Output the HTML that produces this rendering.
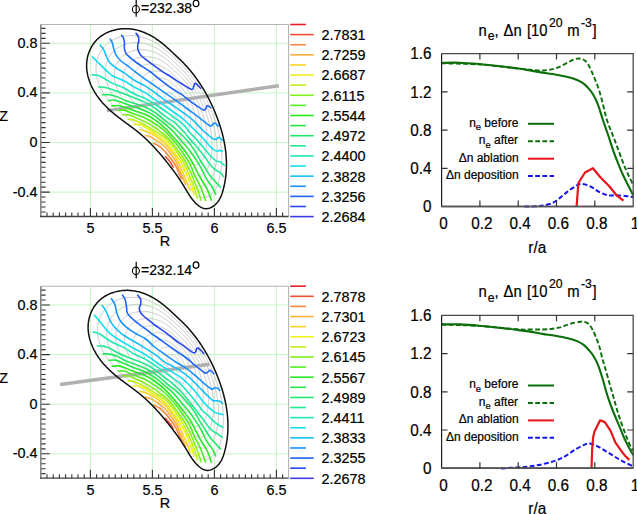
<!DOCTYPE html><html><head><meta charset="utf-8"><style>html,body{margin:0;padding:0;background:#fff;}svg{display:block}text{stroke:#000;stroke-width:0.2px;}.lt,.cb,.rt{transform-box:fill-box;transform-origin:center;}.lt{transform:scaleY(1.06)}.cb{transform:scaleY(1.08)}.rt{transform:scaleY(1.12)}</style></head><body>
<svg width="637" height="514" viewBox="0 0 637 514" style="font-family:'Liberation Sans',sans-serif" fill="#000">
<g transform="translate(0,0)">
<line x1="90.40" y1="24.5" x2="90.40" y2="216.5" stroke="#c4f5c4" stroke-width="1"/>
<line x1="152.40" y1="24.5" x2="152.40" y2="216.5" stroke="#c4f5c4" stroke-width="1"/>
<line x1="214.40" y1="24.5" x2="214.40" y2="216.5" stroke="#c4f5c4" stroke-width="1"/>
<line x1="276.40" y1="24.5" x2="276.40" y2="216.5" stroke="#c4f5c4" stroke-width="1"/>
<line x1="40.8" y1="43.30" x2="288.6" y2="43.30" stroke="#c4f5c4" stroke-width="1"/>
<line x1="40.8" y1="92.90" x2="288.6" y2="92.90" stroke="#c4f5c4" stroke-width="1"/>
<line x1="40.8" y1="142.50" x2="288.6" y2="142.50" stroke="#c4f5c4" stroke-width="1"/>
<line x1="40.8" y1="192.10" x2="288.6" y2="192.10" stroke="#c4f5c4" stroke-width="1"/>
<path d="M169.08 92.69L169.18 92.69L169.27 92.70L169.37 92.70L169.47 92.71L169.56 92.72L169.66 92.74L169.75 92.75L169.85 92.77L169.94 92.79L170.04 92.81L170.13 92.83L170.22 92.86L170.32 92.88L170.41 92.91L170.50 92.94L170.59 92.97L170.68 93.01L170.77 93.04L170.86 93.08L170.95 93.11L171.04 93.15L171.13 93.19L171.21 93.23L171.30 93.28L171.39 93.32L171.47 93.37L171.56 93.41L171.64 93.46L171.72 93.51L171.81 93.56L171.89 93.61L171.97 93.67L172.05 93.72L172.13 93.78L172.21 93.83L172.29 93.89L172.37 93.95L172.45 94.00L172.53 94.06L172.60 94.12L172.68 94.19L172.75 94.25L172.83 94.31L172.90 94.37L172.98 94.44L173.05 94.50L173.12 94.56L173.19 94.63L173.27 94.70L173.34 94.76L173.41 94.83L173.48 94.89L173.55 94.96L173.62 95.03L173.69 95.09L173.77 95.16L173.84 95.23L173.91 95.29L173.98 95.36L174.05 95.43L174.12 95.49L174.19 95.56L174.26 95.63L174.33 95.69L174.40 95.76L174.47 95.83L174.54 95.90L174.61 95.96L174.68 96.03L174.75 96.10L174.82 96.17L174.88 96.24L174.95 96.31L175.02 96.38L175.08 96.45L175.15 96.53L175.21 96.60L175.27 96.67L175.34 96.75L175.40 96.82L175.46 96.89L175.52 96.97L175.59 97.04L175.65 97.12L175.71 97.19L175.77 97.27L175.82 97.35L175.88 97.42L175.94 97.50L176.00 97.58L176.05 97.66L176.11 97.74L176.17 97.82L176.22 97.90L176.28 97.98L176.33 98.06L176.38 98.14L176.44 98.22L176.49 98.30L176.54 98.38L176.60 98.46L176.65 98.54L176.70 98.63L176.75 98.71L176.80 98.79L176.85 98.88L176.90 98.96L176.94 99.05L176.99 99.13L177.04 99.22L177.09 99.30L177.13 99.39L177.18 99.47L177.22 99.56L177.27 99.64L177.31 99.73L177.36 99.82L177.40 99.90L177.44 99.99L177.49 100.08L177.53 100.17L177.57 100.26L177.61 100.34L177.65 100.43L177.69 100.52L177.73 100.61L177.77 100.70L177.81 100.79L177.85 100.88L177.89 100.97L177.93 101.06L177.96 101.15L178.00 101.24L178.04 101.33L178.07 101.42L178.11 101.51L178.14 101.60L178.18 101.70L178.21 101.79L178.24 101.88L178.28 101.97L178.31 102.06L178.34 102.16L178.37 102.25L178.40 102.34L178.43 102.43L178.46 102.53L178.49 102.62L178.52 102.71L178.54 102.81L178.57 102.90L178.60 102.99L178.62 103.09L178.65 103.18L178.67 103.28L178.70 103.37L178.72 103.46L178.74 103.56L178.76 103.65L178.78 103.75L178.80 103.84L178.82 103.94L178.84 104.03L178.86 104.13L178.88 104.22L178.90 104.32L178.91 104.41L178.93 104.51L178.94 104.61L178.95 104.70L178.97 104.80L178.98 104.89L178.99 104.99L179.00 105.09L179.01 105.18L179.02 105.28L179.03 105.37L179.04 105.47L179.04 105.57L179.05 105.66L179.05 105.76L179.06 105.86L179.06 105.95L179.06 106.05L179.06 106.15L179.07 106.24L179.07 106.34L179.06 106.44L179.06 106.53L179.06 106.63L179.05 106.73L179.05 106.83L179.04 106.92L179.04 107.02L179.03 107.12L179.02 107.21L179.01 107.31L179.00 107.41L178.99 107.50L178.98 107.60L178.96 107.70L178.95 107.79L178.93 107.89L178.92 107.99L178.90 108.08L178.88 108.18L178.86 108.28L178.84 108.37L178.82 108.47L178.80 108.57L178.77 108.66L178.75 108.76L178.72 108.85L178.69 108.95L178.66 109.04L178.63 109.14L178.60 109.23L178.57 109.32L178.53 109.41L178.49 109.50L178.45 109.59L178.41 109.68L178.36 109.76L178.31 109.85L178.26 109.93L178.20 110.00L178.15 110.08L178.08 110.15L178.01 110.22L177.94 110.29L177.87 110.35L177.79 110.41L177.70 110.47L177.62 110.52L177.53 110.57L177.44 110.61L177.35 110.64L177.25 110.66L177.16 110.68L177.07 110.69L176.98 110.69L176.89 110.68L176.80 110.66L176.71 110.63L176.62 110.60L176.54 110.56L176.45 110.51L176.37 110.46L176.29 110.40L176.21 110.34L176.14 110.27L176.07 110.21L175.99 110.14L175.93 110.07L175.86 110.00L175.79 109.92L175.73 109.85L175.67 109.77L175.61 109.70L175.55 109.62L175.50 109.54L175.44 109.46L175.39 109.38L175.33 109.30L175.28 109.21L175.23 109.13L175.18 109.05L175.13 108.97L175.08 108.88L175.02 108.80L174.98 108.71L174.93 108.63L174.88 108.55L174.82 108.46L174.77 108.38L174.72 108.30L174.67 108.21L174.62 108.13L174.57 108.05L174.51 107.97L174.46 107.88L174.41 107.80L174.35 107.72L174.30 107.64L174.24 107.56L174.19 107.48L174.13 107.40L174.08 107.32L174.02 107.24L173.97 107.16L173.91 107.08L173.85 107.01L173.79 106.93L173.74 106.85L173.68 106.77L173.62 106.69L173.56 106.62L173.50 106.54L173.44 106.46L173.38 106.39L173.32 106.31L173.26 106.23L173.20 106.16L173.14 106.08L173.08 106.00L173.02 105.93L172.96 105.85L172.90 105.78L172.84 105.70L172.78 105.63L172.71 105.55L172.65 105.48L172.59 105.40L172.53 105.33L172.46 105.25L172.40 105.18L172.34 105.11L172.27 105.03L172.21 104.96L172.14 104.89L172.08 104.81L172.01 104.74L171.95 104.67L171.88 104.60L171.82 104.53L171.75 104.46L171.69 104.39L171.62 104.32L171.55 104.25L171.48 104.18L171.42 104.11L171.35 104.04L171.28 103.97L171.21 103.90L171.14 103.83L171.07 103.77L171.00 103.70L170.93 103.63L170.86 103.57L170.79 103.50L170.71 103.44L170.64 103.38L170.57 103.31L170.49 103.25L170.42 103.19L170.35 103.12L170.27 103.06L170.20 103.00L170.12 102.94L170.04 102.88L169.97 102.82L169.89 102.76L169.81 102.70L169.73 102.64L169.66 102.58L169.58 102.52L169.50 102.47L169.42 102.41L169.34 102.35L169.26 102.29L169.19 102.23L169.11 102.18L169.03 102.12L168.95 102.06L168.87 102.00L168.79 101.95L168.71 101.89L168.64 101.83L168.56 101.77L168.48 101.71L168.40 101.65L168.32 101.59L168.25 101.53L168.17 101.47L168.09 101.41L168.02 101.35L167.94 101.29L167.87 101.23L167.79 101.17L167.72 101.10L167.64 101.04L167.57 100.98L167.50 100.91L167.42 100.85L167.35 100.78L167.28 100.72L167.21 100.65L167.14 100.58L167.07 100.51L167.00 100.44L166.94 100.37L166.87 100.30L166.80 100.23L166.74 100.16L166.67 100.09L166.61 100.02L166.55 99.94L166.48 99.87L166.42 99.79L166.36 99.72L166.31 99.64L166.25 99.57L166.19 99.49L166.13 99.41L166.08 99.33L166.03 99.25L165.97 99.17L165.92 99.08L165.87 99.00L165.82 98.92L165.77 98.83L165.73 98.75L165.68 98.66L165.64 98.57L165.59 98.49L165.55 98.40L165.51 98.31L165.47 98.22L165.44 98.12L165.40 98.03L165.37 97.94L165.34 97.85L165.31 97.75L165.28 97.66L165.25 97.56L165.22 97.47L165.20 97.37L165.18 97.28L165.16 97.18L165.14 97.08L165.13 96.99L165.11 96.89L165.10 96.79L165.09 96.70L165.09 96.60L165.08 96.50L165.08 96.41L165.08 96.31L165.08 96.21L165.09 96.11L165.10 96.02L165.11 95.92L165.12 95.83L165.13 95.73L165.15 95.63L165.17 95.54L165.19 95.45L165.22 95.35L165.25 95.26L165.28 95.17L165.31 95.08L165.34 94.99L165.38 94.90L165.42 94.81L165.46 94.72L165.50 94.63L165.55 94.55L165.59 94.47L165.64 94.38L165.70 94.30L165.75 94.22L165.81 94.14L165.87 94.07L165.93 93.99L165.99 93.92L166.05 93.85L166.12 93.78L166.19 93.71L166.26 93.65L166.33 93.58L166.41 93.52L166.48 93.46L166.56 93.41L166.64 93.35L166.72 93.30L166.81 93.25L166.89 93.20L166.98 93.15L167.06 93.11L167.15 93.07L167.24 93.03L167.33 92.99L167.43 92.96L167.52 92.92L167.61 92.89L167.71 92.86L167.81 92.84L167.90 92.81L168.00 92.79L168.10 92.77L168.19 92.75L168.29 92.74L168.39 92.72L168.49 92.71L168.59 92.70L168.69 92.70L168.78 92.69L168.88 92.69L168.98 92.69Z" fill="none" stroke="#c6c6c6" stroke-width="1"/>
<path d="M165.00 85.41L165.19 85.42L165.39 85.43L165.58 85.45L165.78 85.47L165.97 85.49L166.16 85.52L166.35 85.55L166.54 85.58L166.73 85.62L166.92 85.66L167.10 85.71L167.29 85.76L167.47 85.81L167.66 85.86L167.84 85.92L168.02 85.99L168.20 86.05L168.38 86.12L168.56 86.19L168.74 86.27L168.92 86.35L169.09 86.43L169.27 86.51L169.44 86.60L169.61 86.68L169.78 86.78L169.95 86.87L170.12 86.97L170.29 87.06L170.45 87.17L170.62 87.27L170.78 87.37L170.94 87.48L171.11 87.59L171.27 87.70L171.42 87.82L171.58 87.93L171.74 88.05L171.89 88.17L172.04 88.29L172.19 88.41L172.34 88.53L172.49 88.66L172.64 88.78L172.79 88.91L172.94 89.04L173.08 89.17L173.23 89.30L173.37 89.43L173.52 89.56L173.66 89.69L173.80 89.83L173.94 89.96L174.09 90.09L174.23 90.23L174.37 90.36L174.51 90.50L174.65 90.63L174.80 90.76L174.94 90.90L175.08 91.03L175.22 91.16L175.36 91.30L175.51 91.43L175.65 91.56L175.79 91.70L175.93 91.83L176.07 91.97L176.20 92.11L176.34 92.24L176.47 92.38L176.61 92.52L176.74 92.66L176.87 92.81L177.00 92.95L177.13 93.09L177.26 93.24L177.39 93.38L177.52 93.53L177.64 93.68L177.77 93.83L177.89 93.98L178.01 94.13L178.13 94.28L178.25 94.43L178.37 94.58L178.49 94.74L178.61 94.89L178.72 95.04L178.84 95.20L178.95 95.36L179.06 95.51L179.17 95.67L179.28 95.83L179.39 95.99L179.50 96.15L179.61 96.31L179.72 96.48L179.82 96.64L179.93 96.80L180.03 96.97L180.13 97.13L180.23 97.30L180.33 97.46L180.43 97.63L180.53 97.79L180.63 97.96L180.73 98.13L180.82 98.30L180.92 98.47L181.01 98.64L181.10 98.81L181.20 98.98L181.29 99.16L181.38 99.33L181.47 99.50L181.55 99.67L181.64 99.85L181.73 100.02L181.81 100.20L181.90 100.37L181.98 100.55L182.06 100.73L182.14 100.90L182.23 101.08L182.31 101.26L182.38 101.44L182.46 101.62L182.54 101.80L182.62 101.98L182.69 102.16L182.77 102.34L182.84 102.52L182.91 102.70L182.98 102.88L183.05 103.06L183.12 103.25L183.19 103.43L183.26 103.61L183.33 103.80L183.39 103.98L183.45 104.17L183.52 104.35L183.58 104.54L183.64 104.72L183.70 104.91L183.76 105.09L183.82 105.28L183.87 105.47L183.93 105.65L183.98 105.84L184.03 106.03L184.09 106.21L184.14 106.40L184.18 106.59L184.23 106.78L184.28 106.97L184.32 107.16L184.37 107.35L184.41 107.54L184.45 107.73L184.49 107.92L184.53 108.11L184.56 108.30L184.60 108.49L184.63 108.68L184.66 108.87L184.69 109.06L184.72 109.25L184.75 109.44L184.78 109.64L184.80 109.83L184.82 110.02L184.84 110.21L184.86 110.40L184.88 110.60L184.90 110.79L184.91 110.98L184.93 111.17L184.94 111.37L184.95 111.56L184.96 111.75L184.96 111.95L184.97 112.14L184.97 112.33L184.97 112.53L184.97 112.72L184.97 112.92L184.96 113.11L184.96 113.30L184.95 113.50L184.94 113.69L184.93 113.88L184.91 114.08L184.90 114.27L184.88 114.47L184.86 114.66L184.84 114.85L184.82 115.05L184.79 115.24L184.77 115.44L184.74 115.63L184.71 115.82L184.67 116.02L184.64 116.21L184.60 116.40L184.56 116.59L184.52 116.79L184.48 116.98L184.43 117.17L184.38 117.36L184.33 117.55L184.28 117.75L184.23 117.94L184.17 118.13L184.11 118.31L184.05 118.50L183.98 118.68L183.91 118.87L183.83 119.05L183.75 119.22L183.66 119.40L183.57 119.57L183.47 119.73L183.36 119.89L183.25 120.05L183.13 120.20L183.00 120.35L182.87 120.49L182.72 120.62L182.57 120.75L182.41 120.87L182.25 120.98L182.07 121.08L181.90 121.17L181.72 121.25L181.53 121.31L181.35 121.37L181.16 121.40L180.98 121.42L180.79 121.42L180.61 121.40L180.43 121.36L180.26 121.31L180.08 121.24L179.91 121.15L179.75 121.06L179.58 120.95L179.42 120.84L179.27 120.72L179.12 120.59L178.97 120.45L178.83 120.32L178.69 120.18L178.56 120.03L178.43 119.89L178.30 119.74L178.18 119.59L178.06 119.43L177.94 119.28L177.83 119.12L177.72 118.96L177.61 118.80L177.50 118.63L177.40 118.47L177.29 118.30L177.19 118.14L177.09 117.97L176.99 117.80L176.89 117.64L176.79 117.47L176.69 117.30L176.59 117.13L176.49 116.96L176.39 116.80L176.29 116.63L176.18 116.47L176.08 116.30L175.98 116.14L175.87 115.97L175.76 115.81L175.66 115.65L175.55 115.48L175.44 115.32L175.33 115.16L175.22 115.00L175.11 114.84L175.00 114.68L174.88 114.52L174.77 114.37L174.66 114.21L174.54 114.05L174.43 113.89L174.31 113.74L174.20 113.58L174.08 113.43L173.96 113.27L173.84 113.12L173.72 112.96L173.61 112.81L173.49 112.66L173.37 112.50L173.25 112.35L173.12 112.20L173.00 112.05L172.88 111.90L172.76 111.74L172.64 111.59L172.51 111.44L172.39 111.29L172.27 111.14L172.14 110.99L172.02 110.84L171.89 110.70L171.77 110.55L171.64 110.40L171.51 110.25L171.39 110.11L171.26 109.96L171.13 109.81L171.00 109.67L170.87 109.52L170.74 109.38L170.61 109.24L170.48 109.09L170.34 108.95L170.21 108.81L170.08 108.67L169.94 108.53L169.81 108.39L169.67 108.25L169.53 108.12L169.40 107.98L169.26 107.84L169.12 107.71L168.98 107.58L168.84 107.44L168.70 107.31L168.55 107.18L168.41 107.05L168.27 106.92L168.12 106.79L167.97 106.66L167.83 106.54L167.68 106.41L167.53 106.29L167.38 106.16L167.23 106.04L167.08 105.92L166.93 105.80L166.77 105.68L166.62 105.56L166.46 105.44L166.31 105.32L166.15 105.21L166.00 105.09L165.84 104.97L165.68 104.86L165.53 104.74L165.37 104.62L165.21 104.51L165.05 104.39L164.90 104.28L164.74 104.16L164.58 104.05L164.43 103.93L164.27 103.82L164.11 103.70L163.96 103.58L163.80 103.46L163.64 103.35L163.49 103.23L163.33 103.11L163.18 102.99L163.03 102.87L162.87 102.75L162.72 102.62L162.57 102.50L162.42 102.37L162.27 102.25L162.13 102.12L161.98 101.99L161.83 101.86L161.69 101.73L161.54 101.60L161.40 101.47L161.26 101.34L161.12 101.20L160.98 101.07L160.85 100.93L160.71 100.79L160.58 100.65L160.45 100.51L160.32 100.37L160.19 100.22L160.06 100.08L159.93 99.93L159.81 99.78L159.69 99.63L159.57 99.48L159.45 99.33L159.33 99.17L159.22 99.01L159.11 98.86L159.00 98.70L158.89 98.54L158.79 98.37L158.68 98.21L158.58 98.04L158.48 97.88L158.39 97.71L158.29 97.54L158.20 97.36L158.12 97.19L158.03 97.01L157.95 96.83L157.87 96.65L157.79 96.47L157.72 96.29L157.64 96.10L157.58 95.92L157.51 95.73L157.45 95.54L157.39 95.36L157.34 95.17L157.29 94.98L157.24 94.79L157.20 94.59L157.16 94.40L157.13 94.21L157.09 94.02L157.07 93.82L157.05 93.63L157.03 93.43L157.01 93.24L157.01 93.05L157.00 92.85L157.00 92.66L157.01 92.46L157.02 92.27L157.03 92.08L157.05 91.88L157.08 91.69L157.11 91.50L157.14 91.31L157.18 91.12L157.23 90.93L157.28 90.74L157.33 90.56L157.39 90.37L157.46 90.19L157.52 90.01L157.60 89.83L157.67 89.66L157.76 89.48L157.84 89.31L157.93 89.14L158.03 88.97L158.13 88.81L158.23 88.64L158.34 88.48L158.45 88.33L158.57 88.18L158.69 88.03L158.82 87.88L158.95 87.74L159.08 87.60L159.22 87.46L159.36 87.33L159.50 87.21L159.65 87.08L159.81 86.97L159.96 86.85L160.12 86.74L160.29 86.64L160.45 86.54L160.62 86.44L160.79 86.35L160.97 86.26L161.15 86.18L161.33 86.10L161.51 86.02L161.69 85.95L161.88 85.89L162.07 85.83L162.26 85.77L162.45 85.72L162.64 85.67L162.84 85.62L163.03 85.58L163.23 85.55L163.42 85.51L163.62 85.49L163.82 85.46L164.01 85.44L164.21 85.43L164.41 85.42L164.61 85.41L164.80 85.41Z" fill="none" stroke="#c6c6c6" stroke-width="1"/>
<path d="M160.76 78.18L161.05 78.19L161.34 78.21L161.63 78.23L161.92 78.26L162.21 78.29L162.50 78.33L162.78 78.38L163.07 78.43L163.35 78.49L163.63 78.55L163.91 78.62L164.19 78.69L164.47 78.77L164.75 78.86L165.02 78.95L165.29 79.04L165.56 79.14L165.83 79.24L166.10 79.35L166.37 79.46L166.63 79.58L166.90 79.70L167.16 79.82L167.42 79.95L167.68 80.09L167.93 80.22L168.19 80.36L168.44 80.51L168.69 80.66L168.94 80.81L169.19 80.96L169.43 81.12L169.68 81.28L169.92 81.45L170.16 81.61L170.40 81.78L170.63 81.96L170.86 82.13L171.10 82.31L171.32 82.49L171.55 82.68L171.78 82.86L172.00 83.05L172.22 83.24L172.45 83.43L172.66 83.62L172.88 83.81L173.10 84.01L173.32 84.21L173.53 84.40L173.75 84.60L173.96 84.80L174.18 85.00L174.39 85.20L174.60 85.40L174.82 85.60L175.03 85.80L175.24 86.00L175.45 86.20L175.67 86.40L175.88 86.60L176.09 86.80L176.31 87.00L176.52 87.20L176.73 87.40L176.94 87.61L177.15 87.81L177.36 88.01L177.57 88.22L177.77 88.43L177.97 88.64L178.17 88.85L178.37 89.06L178.57 89.27L178.77 89.48L178.96 89.70L179.15 89.92L179.34 90.14L179.53 90.36L179.72 90.58L179.91 90.80L180.09 91.02L180.28 91.25L180.46 91.48L180.64 91.70L180.82 91.93L180.99 92.16L181.17 92.39L181.34 92.63L181.51 92.86L181.68 93.10L181.85 93.33L182.02 93.57L182.19 93.81L182.35 94.05L182.51 94.29L182.67 94.53L182.83 94.77L182.99 95.02L183.15 95.26L183.31 95.51L183.46 95.75L183.61 96.00L183.76 96.25L183.91 96.50L184.06 96.75L184.21 97.00L184.35 97.26L184.49 97.51L184.64 97.77L184.78 98.02L184.92 98.28L185.05 98.53L185.19 98.79L185.33 99.05L185.46 99.31L185.59 99.57L185.72 99.83L185.85 100.10L185.98 100.36L186.11 100.62L186.23 100.89L186.35 101.15L186.48 101.42L186.60 101.68L186.72 101.95L186.84 102.22L186.95 102.49L187.07 102.76L187.18 103.03L187.30 103.30L187.41 103.57L187.52 103.84L187.63 104.11L187.73 104.38L187.84 104.66L187.94 104.93L188.05 105.21L188.15 105.48L188.25 105.76L188.35 106.03L188.44 106.31L188.54 106.59L188.63 106.86L188.72 107.14L188.81 107.42L188.90 107.70L188.98 107.98L189.07 108.26L189.15 108.54L189.23 108.82L189.31 109.10L189.39 109.38L189.46 109.66L189.54 109.95L189.61 110.23L189.68 110.51L189.74 110.80L189.81 111.08L189.87 111.36L189.93 111.65L189.99 111.93L190.05 112.22L190.10 112.50L190.16 112.79L190.21 113.08L190.25 113.36L190.30 113.65L190.34 113.94L190.38 114.22L190.42 114.51L190.46 114.80L190.49 115.09L190.53 115.38L190.56 115.67L190.58 115.95L190.61 116.24L190.63 116.53L190.65 116.82L190.67 117.11L190.68 117.40L190.69 117.69L190.70 117.98L190.71 118.27L190.71 118.56L190.72 118.85L190.72 119.14L190.71 119.43L190.71 119.72L190.70 120.01L190.68 120.31L190.67 120.60L190.65 120.89L190.63 121.18L190.61 121.47L190.58 121.76L190.55 122.05L190.52 122.34L190.49 122.63L190.45 122.92L190.41 123.21L190.36 123.50L190.32 123.79L190.27 124.08L190.22 124.37L190.16 124.66L190.10 124.95L190.04 125.24L189.97 125.53L189.91 125.82L189.83 126.10L189.76 126.39L189.68 126.68L189.60 126.96L189.51 127.25L189.42 127.53L189.33 127.81L189.23 128.09L189.12 128.36L189.00 128.63L188.88 128.89L188.75 129.15L188.61 129.41L188.46 129.66L188.30 129.90L188.13 130.13L187.96 130.36L187.76 130.58L187.56 130.79L187.35 130.99L187.12 131.18L186.88 131.36L186.63 131.53L186.37 131.68L186.10 131.82L185.83 131.94L185.56 132.03L185.28 132.11L185.00 132.16L184.73 132.19L184.45 132.18L184.18 132.16L183.91 132.10L183.64 132.02L183.38 131.91L183.13 131.79L182.88 131.65L182.63 131.49L182.39 131.32L182.16 131.13L181.94 130.94L181.72 130.74L181.50 130.54L181.30 130.32L181.10 130.11L180.90 129.89L180.71 129.67L180.53 129.44L180.35 129.21L180.18 128.97L180.01 128.74L179.84 128.50L179.68 128.26L179.51 128.01L179.36 127.76L179.20 127.52L179.05 127.27L178.90 127.02L178.75 126.77L178.59 126.51L178.45 126.26L178.30 126.01L178.15 125.76L177.99 125.51L177.84 125.26L177.69 125.01L177.54 124.76L177.38 124.51L177.22 124.26L177.06 124.02L176.91 123.77L176.74 123.53L176.58 123.29L176.42 123.04L176.25 122.80L176.09 122.56L175.92 122.32L175.76 122.08L175.59 121.85L175.42 121.61L175.25 121.37L175.07 121.14L174.90 120.90L174.73 120.67L174.55 120.43L174.38 120.20L174.20 119.97L174.02 119.74L173.85 119.51L173.67 119.28L173.49 119.05L173.31 118.82L173.13 118.59L172.95 118.36L172.77 118.13L172.58 117.90L172.40 117.68L172.22 117.45L172.03 117.22L171.85 117.00L171.66 116.77L171.47 116.55L171.29 116.33L171.10 116.10L170.91 115.88L170.72 115.66L170.53 115.44L170.34 115.22L170.15 115.00L169.95 114.78L169.76 114.56L169.56 114.35L169.37 114.13L169.17 113.92L168.97 113.70L168.78 113.49L168.58 113.28L168.38 113.07L168.17 112.86L167.97 112.65L167.77 112.44L167.56 112.24L167.35 112.03L167.15 111.83L166.94 111.62L166.73 111.42L166.52 111.22L166.30 111.02L166.09 110.83L165.88 110.63L165.66 110.44L165.44 110.25L165.22 110.05L165.00 109.86L164.78 109.68L164.56 109.49L164.33 109.30L164.11 109.12L163.88 108.94L163.65 108.76L163.42 108.58L163.19 108.40L162.96 108.22L162.72 108.04L162.49 107.87L162.26 107.69L162.02 107.52L161.79 107.34L161.55 107.17L161.31 107.00L161.08 106.82L160.84 106.65L160.61 106.48L160.37 106.30L160.13 106.13L159.90 105.96L159.66 105.78L159.43 105.61L159.19 105.43L158.96 105.26L158.73 105.08L158.49 104.90L158.26 104.72L158.03 104.54L157.80 104.36L157.57 104.18L157.34 103.99L157.12 103.81L156.89 103.62L156.67 103.43L156.45 103.24L156.23 103.05L156.01 102.86L155.79 102.66L155.58 102.47L155.36 102.27L155.15 102.07L154.94 101.86L154.74 101.66L154.53 101.45L154.33 101.24L154.13 101.03L153.93 100.82L153.73 100.61L153.54 100.39L153.35 100.17L153.16 99.95L152.97 99.73L152.79 99.50L152.61 99.28L152.44 99.05L152.26 98.82L152.09 98.58L151.92 98.35L151.76 98.11L151.60 97.87L151.44 97.62L151.28 97.37L151.13 97.13L150.99 96.87L150.84 96.62L150.70 96.36L150.57 96.10L150.43 95.84L150.30 95.58L150.18 95.31L150.06 95.04L149.94 94.77L149.83 94.49L149.73 94.22L149.63 93.94L149.53 93.66L149.44 93.38L149.35 93.09L149.27 92.81L149.19 92.52L149.12 92.24L149.06 91.95L149.00 91.66L148.95 91.37L148.90 91.08L148.86 90.79L148.83 90.50L148.80 90.21L148.78 89.92L148.77 89.63L148.76 89.34L148.76 89.05L148.77 88.75L148.79 88.46L148.81 88.17L148.84 87.89L148.88 87.60L148.92 87.31L148.98 87.02L149.04 86.74L149.10 86.46L149.18 86.18L149.26 85.90L149.35 85.62L149.44 85.35L149.55 85.08L149.66 84.81L149.77 84.54L149.89 84.28L150.02 84.02L150.16 83.77L150.30 83.52L150.45 83.27L150.61 83.03L150.77 82.79L150.94 82.55L151.12 82.32L151.30 82.10L151.49 81.88L151.68 81.67L151.88 81.46L152.09 81.26L152.30 81.06L152.52 80.87L152.74 80.69L152.97 80.51L153.20 80.34L153.44 80.18L153.69 80.02L153.94 79.87L154.19 79.72L154.45 79.58L154.71 79.45L154.98 79.33L155.25 79.21L155.52 79.10L155.80 78.99L156.08 78.89L156.36 78.80L156.65 78.71L156.94 78.63L157.22 78.56L157.52 78.49L157.81 78.43L158.10 78.38L158.40 78.33L158.69 78.29L158.99 78.26L159.28 78.23L159.58 78.21L159.87 78.19L160.17 78.18L160.46 78.18Z" fill="none" stroke="#c6c6c6" stroke-width="1"/>
<path d="M156.36 70.99L156.75 71.00L157.14 71.02L157.53 71.05L157.91 71.09L158.30 71.14L158.68 71.19L159.06 71.25L159.44 71.32L159.82 71.40L160.19 71.48L160.56 71.57L160.94 71.67L161.31 71.78L161.67 71.89L162.04 72.01L162.40 72.13L162.77 72.26L163.13 72.40L163.48 72.55L163.84 72.70L164.19 72.85L164.54 73.01L164.89 73.18L165.24 73.35L165.58 73.53L165.92 73.71L166.26 73.90L166.60 74.09L166.94 74.29L167.27 74.49L167.60 74.70L167.93 74.91L168.25 75.12L168.57 75.34L168.89 75.57L169.21 75.79L169.52 76.02L169.83 76.26L170.14 76.50L170.45 76.74L170.75 76.98L171.05 77.23L171.35 77.48L171.65 77.73L171.94 77.98L172.23 78.24L172.52 78.50L172.81 78.76L173.10 79.02L173.39 79.29L173.68 79.55L173.96 79.82L174.25 80.08L174.53 80.35L174.82 80.62L175.10 80.88L175.38 81.15L175.67 81.42L175.95 81.69L176.24 81.95L176.52 82.22L176.81 82.49L177.09 82.75L177.37 83.02L177.66 83.29L177.94 83.55L178.22 83.83L178.49 84.10L178.77 84.37L179.04 84.65L179.31 84.93L179.58 85.21L179.84 85.49L180.11 85.77L180.37 86.06L180.63 86.35L180.88 86.64L181.14 86.93L181.39 87.22L181.64 87.52L181.89 87.81L182.14 88.11L182.38 88.41L182.62 88.71L182.86 89.02L183.10 89.32L183.34 89.63L183.57 89.94L183.80 90.25L184.03 90.56L184.26 90.87L184.48 91.19L184.71 91.51L184.93 91.82L185.15 92.14L185.36 92.46L185.58 92.79L185.79 93.11L186.00 93.44L186.21 93.76L186.42 94.09L186.63 94.42L186.83 94.75L187.03 95.08L187.23 95.42L187.43 95.75L187.62 96.09L187.81 96.42L188.01 96.76L188.20 97.10L188.38 97.44L188.57 97.78L188.75 98.13L188.93 98.47L189.11 98.82L189.29 99.16L189.47 99.51L189.64 99.86L189.81 100.21L189.99 100.56L190.15 100.91L190.32 101.26L190.49 101.62L190.65 101.97L190.81 102.33L190.97 102.68L191.13 103.04L191.28 103.40L191.44 103.76L191.59 104.11L191.74 104.48L191.89 104.84L192.04 105.20L192.18 105.56L192.33 105.93L192.47 106.29L192.61 106.65L192.74 107.02L192.88 107.39L193.01 107.75L193.14 108.12L193.27 108.49L193.40 108.86L193.52 109.23L193.64 109.60L193.76 109.97L193.88 110.34L193.99 110.72L194.11 111.09L194.22 111.46L194.32 111.84L194.43 112.21L194.53 112.59L194.63 112.97L194.73 113.34L194.82 113.72L194.92 114.10L195.00 114.47L195.09 114.85L195.18 115.23L195.26 115.61L195.34 115.99L195.41 116.37L195.48 116.75L195.55 117.13L195.62 117.52L195.68 117.90L195.75 118.28L195.80 118.66L195.86 119.05L195.91 119.43L195.96 119.81L196.01 120.20L196.05 120.58L196.09 120.97L196.12 121.35L196.16 121.74L196.19 122.12L196.21 122.51L196.24 122.90L196.26 123.28L196.27 123.67L196.28 124.05L196.29 124.44L196.30 124.83L196.30 125.22L196.30 125.60L196.30 125.99L196.29 126.38L196.28 126.77L196.26 127.15L196.24 127.54L196.22 127.93L196.19 128.32L196.16 128.71L196.12 129.09L196.08 129.48L196.04 129.87L196.00 130.26L195.95 130.64L195.89 131.03L195.83 131.42L195.77 131.81L195.70 132.19L195.63 132.58L195.56 132.96L195.48 133.35L195.40 133.73L195.31 134.12L195.22 134.50L195.13 134.89L195.03 135.27L194.92 135.65L194.81 136.03L194.70 136.41L194.58 136.79L194.45 137.16L194.32 137.53L194.17 137.89L194.02 138.25L193.85 138.61L193.68 138.95L193.49 139.29L193.30 139.62L193.08 139.94L192.86 140.26L192.62 140.56L192.37 140.85L192.10 141.13L191.81 141.40L191.50 141.66L191.18 141.90L190.85 142.12L190.51 142.32L190.15 142.50L189.79 142.66L189.43 142.79L189.06 142.89L188.68 142.96L188.31 142.99L187.95 142.99L187.58 142.95L187.22 142.88L186.87 142.77L186.53 142.63L186.18 142.47L185.85 142.28L185.52 142.07L185.21 141.84L184.90 141.59L184.59 141.34L184.30 141.07L184.02 140.79L183.74 140.51L183.47 140.23L183.21 139.93L182.96 139.64L182.72 139.33L182.48 139.02L182.25 138.71L182.02 138.40L181.80 138.08L181.58 137.75L181.37 137.43L181.16 137.10L180.95 136.77L180.74 136.44L180.54 136.10L180.34 135.77L180.14 135.43L179.94 135.10L179.74 134.76L179.54 134.42L179.34 134.09L179.14 133.76L178.93 133.42L178.73 133.09L178.52 132.76L178.31 132.43L178.10 132.10L177.89 131.78L177.67 131.45L177.46 131.13L177.24 130.81L177.02 130.48L176.80 130.16L176.58 129.84L176.35 129.53L176.13 129.21L175.90 128.89L175.67 128.58L175.45 128.26L175.22 127.95L174.98 127.64L174.75 127.33L174.52 127.02L174.28 126.71L174.05 126.40L173.81 126.09L173.57 125.78L173.33 125.47L173.09 125.17L172.85 124.86L172.61 124.56L172.37 124.25L172.12 123.95L171.88 123.65L171.63 123.35L171.39 123.04L171.14 122.74L170.89 122.44L170.64 122.15L170.39 121.85L170.14 121.55L169.89 121.25L169.64 120.96L169.39 120.66L169.13 120.37L168.87 120.08L168.62 119.79L168.36 119.50L168.10 119.21L167.84 118.92L167.58 118.63L167.31 118.35L167.05 118.07L166.78 117.78L166.51 117.50L166.24 117.22L165.97 116.95L165.70 116.67L165.43 116.39L165.15 116.12L164.88 115.85L164.60 115.58L164.32 115.31L164.04 115.04L163.75 114.78L163.47 114.52L163.18 114.26L162.89 114.00L162.60 113.74L162.31 113.48L162.02 113.23L161.72 112.98L161.42 112.73L161.12 112.49L160.82 112.24L160.52 112.00L160.21 111.76L159.91 111.52L159.60 111.28L159.29 111.04L158.98 110.81L158.67 110.57L158.35 110.34L158.04 110.10L157.73 109.87L157.41 109.64L157.10 109.41L156.78 109.18L156.47 108.95L156.15 108.72L155.84 108.49L155.53 108.25L155.21 108.02L154.90 107.79L154.58 107.56L154.27 107.32L153.96 107.09L153.65 106.85L153.34 106.62L153.03 106.38L152.72 106.14L152.41 105.89L152.11 105.65L151.81 105.41L151.50 105.16L151.20 104.91L150.91 104.66L150.61 104.40L150.32 104.15L150.03 103.89L149.74 103.63L149.45 103.37L149.16 103.10L148.88 102.83L148.60 102.56L148.33 102.29L148.05 102.02L147.78 101.74L147.52 101.46L147.25 101.18L146.99 100.89L146.73 100.60L146.48 100.31L146.23 100.02L145.98 99.72L145.74 99.42L145.50 99.12L145.26 98.81L145.03 98.50L144.80 98.19L144.58 97.87L144.36 97.56L144.14 97.23L143.93 96.91L143.73 96.58L143.52 96.25L143.33 95.91L143.14 95.57L142.95 95.23L142.77 94.88L142.59 94.53L142.42 94.18L142.25 93.82L142.09 93.46L141.94 93.10L141.79 92.74L141.65 92.37L141.51 92.00L141.38 91.62L141.26 91.25L141.15 90.87L141.04 90.49L140.94 90.11L140.84 89.73L140.76 89.35L140.68 88.96L140.61 88.58L140.55 88.19L140.50 87.80L140.45 87.42L140.42 87.03L140.39 86.64L140.37 86.25L140.36 85.86L140.36 85.47L140.37 85.09L140.39 84.70L140.42 84.31L140.47 83.93L140.52 83.54L140.58 83.16L140.65 82.78L140.73 82.40L140.82 82.02L140.92 81.65L141.02 81.28L141.14 80.91L141.27 80.54L141.41 80.18L141.55 79.82L141.71 79.47L141.87 79.12L142.05 78.78L142.23 78.44L142.42 78.10L142.62 77.77L142.83 77.45L143.04 77.13L143.27 76.82L143.50 76.51L143.75 76.21L144.00 75.92L144.25 75.64L144.52 75.36L144.79 75.09L145.08 74.83L145.37 74.57L145.67 74.33L145.97 74.09L146.28 73.87L146.60 73.65L146.93 73.44L147.26 73.24L147.60 73.04L147.95 72.86L148.30 72.68L148.65 72.52L149.01 72.36L149.38 72.21L149.75 72.07L150.12 71.94L150.50 71.81L150.88 71.70L151.26 71.59L151.65 71.49L152.03 71.40L152.42 71.32L152.81 71.25L153.21 71.19L153.60 71.13L153.99 71.09L154.39 71.05L154.78 71.02L155.18 71.00L155.57 70.99L155.97 70.98Z" fill="none" stroke="#c6c6c6" stroke-width="1"/>
<path d="M151.80 63.84L152.29 63.85L152.77 63.88L153.26 63.92L153.74 63.97L154.22 64.02L154.70 64.09L155.17 64.17L155.65 64.25L156.12 64.35L156.59 64.45L157.06 64.57L157.52 64.69L157.98 64.82L158.44 64.96L158.90 65.11L159.35 65.27L159.81 65.43L160.26 65.60L160.70 65.78L161.15 65.97L161.59 66.16L162.03 66.36L162.47 66.57L162.90 66.79L163.33 67.01L163.76 67.24L164.18 67.47L164.60 67.71L165.02 67.96L165.44 68.21L165.85 68.47L166.26 68.74L166.66 69.00L167.06 69.28L167.46 69.56L167.86 69.84L168.25 70.13L168.64 70.42L169.03 70.72L169.41 71.02L169.79 71.33L170.16 71.64L170.54 71.95L170.91 72.26L171.28 72.58L171.64 72.90L172.01 73.22L172.37 73.55L172.73 73.88L173.09 74.21L173.45 74.54L173.80 74.87L174.16 75.20L174.52 75.54L174.87 75.87L175.23 76.20L175.58 76.54L175.94 76.87L176.29 77.21L176.65 77.54L177.00 77.87L177.36 78.21L177.71 78.54L178.07 78.87L178.42 79.21L178.77 79.54L179.12 79.88L179.47 80.22L179.81 80.57L180.15 80.91L180.49 81.26L180.82 81.61L181.15 81.96L181.48 82.32L181.81 82.67L182.13 83.03L182.46 83.40L182.77 83.76L183.09 84.13L183.40 84.50L183.71 84.87L184.02 85.24L184.33 85.62L184.63 85.99L184.93 86.37L185.23 86.75L185.52 87.14L185.81 87.52L186.10 87.91L186.39 88.30L186.67 88.69L186.96 89.09L187.23 89.48L187.51 89.88L187.78 90.28L188.06 90.68L188.32 91.08L188.59 91.49L188.86 91.89L189.12 92.30L189.38 92.71L189.63 93.12L189.89 93.54L190.14 93.95L190.39 94.37L190.63 94.79L190.88 95.21L191.12 95.63L191.36 96.05L191.59 96.48L191.83 96.90L192.06 97.33L192.29 97.76L192.52 98.19L192.74 98.62L192.96 99.05L193.19 99.49L193.40 99.92L193.62 100.36L193.83 100.80L194.04 101.24L194.25 101.68L194.46 102.12L194.66 102.56L194.86 103.01L195.06 103.45L195.26 103.90L195.46 104.35L195.65 104.79L195.84 105.24L196.03 105.69L196.21 106.15L196.40 106.60L196.58 107.05L196.76 107.51L196.93 107.96L197.11 108.42L197.28 108.88L197.45 109.33L197.61 109.79L197.78 110.25L197.94 110.71L198.09 111.18L198.25 111.64L198.40 112.10L198.55 112.57L198.70 113.03L198.84 113.50L198.98 113.96L199.12 114.43L199.25 114.90L199.39 115.37L199.51 115.84L199.64 116.31L199.76 116.78L199.88 117.25L199.99 117.72L200.11 118.19L200.21 118.67L200.32 119.14L200.42 119.61L200.52 120.09L200.61 120.57L200.70 121.04L200.79 121.52L200.88 122.00L200.96 122.47L201.03 122.95L201.11 123.43L201.17 123.91L201.24 124.39L201.30 124.87L201.36 125.35L201.41 125.83L201.46 126.31L201.51 126.79L201.55 127.27L201.58 127.75L201.62 128.24L201.65 128.72L201.67 129.20L201.69 129.68L201.71 130.17L201.72 130.65L201.72 131.14L201.73 131.62L201.73 132.10L201.72 132.59L201.71 133.07L201.69 133.56L201.67 134.04L201.65 134.53L201.62 135.01L201.59 135.50L201.55 135.98L201.50 136.47L201.46 136.95L201.40 137.44L201.34 137.92L201.28 138.41L201.21 138.89L201.14 139.37L201.06 139.86L200.98 140.34L200.89 140.82L200.80 141.31L200.70 141.79L200.60 142.27L200.49 142.75L200.38 143.23L200.26 143.71L200.13 144.19L200.00 144.66L199.87 145.14L199.72 145.61L199.57 146.08L199.41 146.55L199.24 147.01L199.06 147.47L198.87 147.92L198.67 148.36L198.45 148.79L198.22 149.21L197.97 149.63L197.71 150.03L197.42 150.42L197.13 150.80L196.81 151.17L196.47 151.52L196.11 151.85L195.73 152.17L195.33 152.47L194.91 152.75L194.48 153.00L194.04 153.23L193.59 153.43L193.13 153.59L192.67 153.71L192.21 153.80L191.74 153.84L191.28 153.84L190.83 153.79L190.38 153.70L189.94 153.56L189.51 153.39L189.08 153.18L188.66 152.95L188.26 152.68L187.86 152.40L187.47 152.09L187.09 151.77L186.73 151.44L186.37 151.09L186.03 150.74L185.69 150.38L185.37 150.02L185.05 149.64L184.75 149.27L184.45 148.88L184.16 148.49L183.88 148.10L183.60 147.70L183.33 147.29L183.06 146.89L182.80 146.47L182.54 146.06L182.28 145.65L182.03 145.23L181.78 144.81L181.52 144.39L181.28 143.97L181.03 143.55L180.78 143.13L180.52 142.71L180.27 142.29L180.02 141.88L179.76 141.46L179.50 141.05L179.24 140.64L178.97 140.23L178.71 139.82L178.44 139.42L178.17 139.01L177.90 138.61L177.62 138.21L177.35 137.81L177.07 137.41L176.79 137.01L176.51 136.61L176.23 136.22L175.94 135.82L175.66 135.43L175.37 135.04L175.08 134.65L174.79 134.26L174.50 133.87L174.20 133.48L173.91 133.10L173.61 132.71L173.31 132.33L173.02 131.94L172.72 131.56L172.41 131.18L172.11 130.80L171.81 130.42L171.50 130.04L171.20 129.66L170.89 129.28L170.59 128.91L170.28 128.53L169.97 128.16L169.66 127.78L169.34 127.41L169.03 127.04L168.72 126.67L168.40 126.30L168.08 125.93L167.76 125.56L167.44 125.20L167.12 124.83L166.80 124.47L166.47 124.11L166.15 123.75L165.82 123.39L165.49 123.04L165.16 122.68L164.83 122.33L164.49 121.98L164.16 121.63L163.82 121.28L163.48 120.94L163.14 120.59L162.79 120.25L162.45 119.91L162.10 119.57L161.75 119.24L161.40 118.91L161.04 118.57L160.68 118.25L160.33 117.92L159.97 117.60L159.60 117.28L159.24 116.96L158.87 116.64L158.50 116.33L158.13 116.01L157.75 115.71L157.38 115.40L157.00 115.10L156.61 114.80L156.23 114.50L155.85 114.20L155.46 113.90L155.07 113.61L154.68 113.31L154.29 113.02L153.90 112.73L153.51 112.44L153.12 112.15L152.72 111.86L152.33 111.57L151.94 111.28L151.54 111.00L151.15 110.71L150.76 110.42L150.36 110.13L149.97 109.84L149.58 109.55L149.19 109.25L148.80 108.96L148.41 108.67L148.02 108.37L147.64 108.07L147.25 107.77L146.87 107.47L146.49 107.16L146.11 106.86L145.73 106.55L145.36 106.24L144.98 105.92L144.61 105.60L144.25 105.28L143.88 104.96L143.52 104.64L143.16 104.31L142.81 103.98L142.45 103.64L142.10 103.31L141.76 102.96L141.42 102.62L141.08 102.27L140.74 101.92L140.41 101.57L140.09 101.21L139.77 100.85L139.45 100.49L139.13 100.12L138.82 99.75L138.52 99.37L138.22 99.00L137.93 98.61L137.64 98.23L137.35 97.84L137.07 97.44L136.80 97.04L136.53 96.64L136.26 96.24L136.01 95.82L135.76 95.41L135.51 94.99L135.27 94.57L135.04 94.14L134.81 93.70L134.59 93.27L134.37 92.83L134.17 92.38L133.97 91.93L133.77 91.48L133.59 91.02L133.41 90.56L133.24 90.10L133.08 89.63L132.93 89.16L132.78 88.69L132.65 88.22L132.52 87.74L132.41 87.26L132.30 86.78L132.20 86.30L132.11 85.82L132.04 85.34L131.97 84.85L131.91 84.37L131.87 83.88L131.84 83.40L131.81 82.91L131.80 82.43L131.80 81.94L131.82 81.46L131.84 80.97L131.88 80.49L131.93 80.01L132.00 79.53L132.07 79.05L132.16 78.57L132.26 78.10L132.37 77.63L132.49 77.16L132.63 76.70L132.78 76.24L132.94 75.78L133.11 75.33L133.29 74.88L133.49 74.44L133.69 74.00L133.91 73.57L134.14 73.14L134.37 72.73L134.62 72.31L134.88 71.91L135.16 71.51L135.44 71.12L135.73 70.74L136.03 70.37L136.34 70.00L136.67 69.65L137.00 69.30L137.34 68.96L137.70 68.63L138.06 68.32L138.43 68.01L138.81 67.72L139.20 67.43L139.60 67.16L140.01 66.90L140.43 66.64L140.85 66.40L141.28 66.17L141.72 65.95L142.17 65.75L142.62 65.55L143.07 65.36L143.54 65.18L144.00 65.02L144.47 64.87L144.95 64.72L145.43 64.59L145.91 64.47L146.39 64.36L146.88 64.25L147.37 64.16L147.86 64.09L148.35 64.02L148.84 63.96L149.34 63.91L149.83 63.88L150.32 63.85L150.82 63.83L151.31 63.83Z" fill="none" stroke="#c6c6c6" stroke-width="1"/>
<path d="M147.08 56.72L147.66 56.74L148.25 56.78L148.83 56.82L149.41 56.88L149.98 56.95L150.56 57.03L151.13 57.12L151.70 57.22L152.26 57.34L152.83 57.47L153.39 57.60L153.94 57.75L154.50 57.91L155.05 58.07L155.60 58.25L156.15 58.44L156.69 58.64L157.23 58.84L157.76 59.06L158.30 59.28L158.83 59.52L159.35 59.76L159.88 60.01L160.40 60.27L160.91 60.53L161.43 60.81L161.94 61.09L162.44 61.38L162.94 61.67L163.44 61.98L163.94 62.29L164.43 62.60L164.91 62.92L165.40 63.25L165.88 63.59L166.35 63.93L166.82 64.28L167.29 64.63L167.75 64.98L168.21 65.35L168.66 65.71L169.11 66.08L169.56 66.46L170.01 66.83L170.45 67.22L170.89 67.60L171.33 67.99L171.76 68.38L172.19 68.77L172.63 69.17L173.06 69.56L173.48 69.96L173.91 70.36L174.34 70.76L174.77 71.16L175.19 71.56L175.62 71.97L176.04 72.37L176.47 72.77L176.89 73.17L177.32 73.57L177.75 73.97L178.17 74.37L178.60 74.77L179.02 75.17L179.45 75.57L179.86 75.98L180.28 76.39L180.69 76.80L181.10 77.21L181.50 77.63L181.91 78.05L182.31 78.47L182.70 78.90L183.09 79.33L183.48 79.76L183.87 80.20L184.25 80.63L184.63 81.07L185.00 81.52L185.38 81.96L185.75 82.41L186.11 82.86L186.48 83.31L186.84 83.77L187.19 84.23L187.55 84.69L187.90 85.15L188.24 85.61L188.59 86.08L188.93 86.55L189.27 87.02L189.60 87.50L189.93 87.98L190.26 88.45L190.59 88.94L190.91 89.42L191.23 89.91L191.55 90.39L191.86 90.88L192.17 91.38L192.48 91.87L192.78 92.37L193.08 92.86L193.38 93.36L193.68 93.86L193.97 94.37L194.26 94.87L194.55 95.38L194.83 95.89L195.11 96.40L195.39 96.91L195.67 97.43L195.94 97.95L196.21 98.46L196.48 98.98L196.74 99.50L197.00 100.03L197.26 100.55L197.52 101.08L197.77 101.60L198.02 102.13L198.27 102.66L198.51 103.19L198.76 103.73L199.00 104.26L199.23 104.80L199.47 105.33L199.70 105.87L199.93 106.41L200.15 106.95L200.38 107.49L200.60 108.04L200.81 108.58L201.03 109.13L201.24 109.67L201.45 110.22L201.65 110.77L201.86 111.32L202.06 111.87L202.25 112.42L202.44 112.98L202.63 113.53L202.82 114.09L203.00 114.64L203.18 115.20L203.36 115.76L203.53 116.32L203.70 116.88L203.86 117.44L204.02 118.00L204.18 118.56L204.34 119.12L204.49 119.69L204.63 120.25L204.77 120.82L204.91 121.38L205.05 121.95L205.18 122.52L205.30 123.09L205.43 123.66L205.54 124.23L205.66 124.80L205.77 125.37L205.87 125.94L205.97 126.51L206.07 127.09L206.16 127.66L206.25 128.24L206.33 128.81L206.41 129.39L206.48 129.96L206.55 130.54L206.61 131.11L206.67 131.69L206.73 132.27L206.78 132.85L206.82 133.42L206.86 134.00L206.89 134.58L206.92 135.16L206.95 135.74L206.97 136.32L206.98 136.90L206.99 137.48L206.99 138.06L206.99 138.64L206.98 139.23L206.97 139.81L206.95 140.39L206.93 140.97L206.90 141.55L206.86 142.13L206.82 142.72L206.78 143.30L206.73 143.88L206.67 144.46L206.60 145.04L206.53 145.63L206.46 146.21L206.38 146.79L206.29 147.37L206.20 147.95L206.10 148.53L205.99 149.11L205.88 149.69L205.76 150.26L205.64 150.84L205.51 151.42L205.37 151.99L205.23 152.57L205.08 153.14L204.92 153.72L204.76 154.29L204.59 154.86L204.41 155.42L204.22 155.98L204.01 156.53L203.80 157.08L203.57 157.62L203.32 158.15L203.06 158.67L202.78 159.18L202.48 159.67L202.17 160.16L201.83 160.63L201.47 161.08L201.09 161.52L200.68 161.94L200.25 162.34L199.80 162.73L199.32 163.09L198.82 163.42L198.30 163.73L197.77 164.00L197.23 164.23L196.68 164.42L196.12 164.58L195.57 164.68L195.01 164.73L194.46 164.73L193.91 164.67L193.38 164.56L192.85 164.40L192.33 164.19L191.82 163.94L191.32 163.66L190.83 163.34L190.35 163.00L189.88 162.63L189.43 162.24L188.99 161.84L188.56 161.43L188.15 161.01L187.75 160.58L187.36 160.14L186.98 159.69L186.62 159.24L186.26 158.78L185.91 158.31L185.57 157.83L185.24 157.36L184.91 156.87L184.59 156.38L184.27 155.89L183.96 155.39L183.66 154.90L183.35 154.39L183.05 153.89L182.75 153.39L182.45 152.88L182.15 152.38L181.85 151.88L181.55 151.37L181.25 150.87L180.94 150.37L180.63 149.88L180.32 149.38L180.01 148.89L179.69 148.40L179.37 147.91L179.05 147.42L178.72 146.93L178.40 146.45L178.07 145.97L177.74 145.49L177.41 145.01L177.07 144.53L176.73 144.05L176.39 143.58L176.05 143.11L175.71 142.63L175.36 142.16L175.02 141.70L174.67 141.23L174.32 140.76L173.96 140.30L173.61 139.83L173.25 139.37L172.90 138.91L172.54 138.45L172.18 137.99L171.82 137.53L171.45 137.08L171.09 136.62L170.73 136.17L170.36 135.71L169.99 135.26L169.62 134.81L169.25 134.36L168.88 133.91L168.51 133.46L168.13 133.01L167.76 132.57L167.38 132.12L167.00 131.68L166.62 131.24L166.24 130.80L165.85 130.36L165.47 129.92L165.08 129.49L164.69 129.05L164.30 128.62L163.90 128.19L163.51 127.76L163.11 127.34L162.71 126.92L162.31 126.49L161.91 126.07L161.50 125.66L161.09 125.24L160.68 124.83L160.27 124.42L159.85 124.01L159.44 123.61L159.02 123.21L158.59 122.81L158.17 122.41L157.74 122.02L157.31 121.62L156.88 121.24L156.44 120.85L156.00 120.47L155.56 120.09L155.12 119.71L154.67 119.34L154.22 118.97L153.77 118.60L153.31 118.24L152.86 117.87L152.40 117.51L151.94 117.16L151.47 116.80L151.01 116.45L150.54 116.10L150.07 115.75L149.60 115.40L149.13 115.05L148.66 114.70L148.19 114.35L147.72 114.01L147.24 113.66L146.77 113.32L146.30 112.97L145.83 112.62L145.36 112.27L144.89 111.93L144.41 111.58L143.95 111.22L143.48 110.87L143.01 110.52L142.55 110.16L142.08 109.80L141.62 109.44L141.16 109.08L140.70 108.72L140.25 108.35L139.80 107.98L139.35 107.60L138.90 107.23L138.46 106.85L138.02 106.46L137.58 106.07L137.14 105.68L136.71 105.29L136.29 104.89L135.86 104.49L135.45 104.09L135.03 103.68L134.62 103.27L134.21 102.85L133.81 102.43L133.42 102.00L133.03 101.58L132.64 101.14L132.26 100.71L131.88 100.27L131.51 99.82L131.14 99.37L130.78 98.92L130.43 98.46L130.08 97.99L129.74 97.52L129.41 97.05L129.08 96.57L128.75 96.09L128.44 95.60L128.13 95.11L127.83 94.61L127.53 94.11L127.24 93.60L126.96 93.09L126.69 92.57L126.43 92.04L126.17 91.51L125.92 90.98L125.68 90.44L125.45 89.89L125.23 89.34L125.01 88.79L124.81 88.24L124.62 87.68L124.43 87.11L124.26 86.55L124.10 85.98L123.95 85.41L123.81 84.84L123.68 84.26L123.56 83.68L123.46 83.11L123.36 82.53L123.28 81.95L123.22 81.36L123.16 80.78L123.12 80.20L123.10 79.62L123.08 79.03L123.09 78.45L123.10 77.87L123.13 77.29L123.18 76.71L123.24 76.13L123.31 75.55L123.40 74.98L123.51 74.41L123.63 73.84L123.76 73.27L123.91 72.71L124.08 72.16L124.25 71.60L124.45 71.06L124.65 70.51L124.87 69.98L125.10 69.45L125.35 68.92L125.61 68.40L125.88 67.89L126.17 67.39L126.47 66.90L126.78 66.41L127.11 65.93L127.44 65.47L127.79 65.01L128.16 64.56L128.53 64.12L128.92 63.69L129.32 63.28L129.73 62.87L130.16 62.48L130.59 62.10L131.04 61.73L131.50 61.38L131.97 61.04L132.45 60.71L132.94 60.39L133.44 60.09L133.94 59.80L134.46 59.53L134.99 59.26L135.52 59.01L136.06 58.78L136.61 58.55L137.16 58.34L137.72 58.14L138.29 57.96L138.86 57.79L139.43 57.63L140.01 57.48L140.59 57.35L141.17 57.23L141.76 57.12L142.35 57.02L142.94 56.94L143.53 56.87L144.12 56.81L144.72 56.77L145.31 56.74L145.90 56.72L146.49 56.72Z" fill="none" stroke="#c6c6c6" stroke-width="1"/>
<path d="M142.20 49.65L142.88 49.67L143.56 49.71L144.24 49.77L144.91 49.83L145.59 49.91L146.26 50.01L146.92 50.11L147.59 50.24L148.25 50.37L148.90 50.52L149.56 50.68L150.21 50.85L150.86 51.03L151.50 51.23L152.14 51.43L152.78 51.65L153.41 51.88L154.04 52.12L154.67 52.37L155.29 52.64L155.91 52.91L156.52 53.19L157.13 53.48L157.74 53.78L158.34 54.09L158.94 54.41L159.53 54.74L160.12 55.08L160.71 55.43L161.29 55.78L161.87 56.14L162.44 56.51L163.01 56.89L163.57 57.27L164.13 57.66L164.68 58.06L165.23 58.46L165.78 58.87L166.32 59.29L166.85 59.71L167.38 60.14L167.91 60.57L168.43 61.01L168.95 61.45L169.47 61.89L169.98 62.34L170.49 62.79L171.00 63.25L171.50 63.71L172.00 64.17L172.51 64.63L173.01 65.10L173.50 65.56L174.00 66.03L174.50 66.50L175.00 66.97L175.49 67.43L175.99 67.90L176.49 68.37L176.98 68.84L177.48 69.30L177.98 69.77L178.48 70.23L178.97 70.70L179.47 71.17L179.96 71.64L180.45 72.11L180.93 72.59L181.41 73.07L181.89 73.56L182.36 74.04L182.83 74.53L183.30 75.03L183.76 75.52L184.22 76.02L184.67 76.53L185.12 77.04L185.56 77.55L186.01 78.06L186.45 78.58L186.88 79.09L187.31 79.62L187.74 80.14L188.16 80.67L188.58 81.20L189.00 81.74L189.41 82.27L189.82 82.81L190.22 83.36L190.63 83.90L191.02 84.45L191.42 85.00L191.81 85.56L192.20 86.11L192.58 86.67L192.96 87.23L193.33 87.80L193.71 88.36L194.08 88.93L194.44 89.50L194.81 90.08L195.16 90.65L195.52 91.23L195.87 91.81L196.22 92.40L196.57 92.98L196.91 93.57L197.25 94.16L197.58 94.75L197.91 95.35L198.24 95.94L198.56 96.54L198.89 97.14L199.20 97.74L199.52 98.35L199.83 98.95L200.14 99.56L200.44 100.17L200.75 100.78L201.04 101.40L201.34 102.01L201.63 102.63L201.92 103.25L202.21 103.87L202.49 104.49L202.77 105.11L203.04 105.74L203.32 106.36L203.59 106.99L203.85 107.62L204.12 108.25L204.38 108.88L204.64 109.52L204.89 110.15L205.14 110.79L205.39 111.43L205.63 112.07L205.87 112.71L206.11 113.35L206.34 113.99L206.57 114.63L206.79 115.28L207.01 115.93L207.23 116.57L207.44 117.22L207.65 117.87L207.86 118.52L208.06 119.18L208.25 119.83L208.45 120.48L208.64 121.14L208.82 121.79L209.00 122.45L209.17 123.11L209.34 123.77L209.51 124.43L209.67 125.09L209.83 125.75L209.98 126.41L210.13 127.08L210.27 127.74L210.41 128.41L210.54 129.07L210.67 129.74L210.79 130.41L210.91 131.07L211.02 131.74L211.13 132.41L211.23 133.08L211.32 133.75L211.41 134.42L211.50 135.09L211.58 135.77L211.66 136.44L211.72 137.11L211.79 137.79L211.85 138.46L211.90 139.14L211.94 139.81L211.98 140.49L212.02 141.16L212.05 141.84L212.07 142.52L212.08 143.19L212.09 143.87L212.10 144.55L212.10 145.23L212.09 145.90L212.07 146.58L212.05 147.26L212.02 147.94L211.99 148.62L211.95 149.30L211.90 149.98L211.85 150.65L211.79 151.33L211.72 152.01L211.64 152.69L211.56 153.37L211.47 154.05L211.38 154.73L211.28 155.40L211.17 156.08L211.05 156.76L210.93 157.43L210.80 158.11L210.66 158.78L210.52 159.46L210.37 160.13L210.21 160.80L210.04 161.47L209.87 162.14L209.68 162.81L209.49 163.48L209.29 164.14L209.08 164.80L208.86 165.45L208.62 166.10L208.37 166.73L208.10 167.36L207.81 167.98L207.51 168.59L207.18 169.18L206.84 169.76L206.47 170.32L206.07 170.87L205.66 171.40L205.21 171.91L204.74 172.40L204.23 172.87L203.70 173.32L203.14 173.74L202.56 174.13L201.96 174.49L201.34 174.80L200.71 175.08L200.06 175.30L199.42 175.48L198.77 175.60L198.12 175.66L197.48 175.66L196.84 175.59L196.21 175.46L195.60 175.27L194.99 175.03L194.39 174.74L193.81 174.41L193.24 174.04L192.68 173.64L192.14 173.21L191.61 172.76L191.10 172.29L190.60 171.81L190.12 171.32L189.65 170.82L189.20 170.30L188.76 169.78L188.33 169.25L187.91 168.71L187.50 168.17L187.11 167.61L186.72 167.05L186.34 166.49L185.96 165.92L185.59 165.34L185.23 164.77L184.87 164.18L184.52 163.60L184.17 163.01L183.81 162.43L183.47 161.84L183.12 161.25L182.77 160.66L182.41 160.08L182.06 159.49L181.70 158.91L181.34 158.33L180.98 157.75L180.61 157.18L180.24 156.60L179.87 156.03L179.50 155.46L179.12 154.90L178.74 154.33L178.35 153.77L177.97 153.21L177.58 152.65L177.19 152.09L176.80 151.54L176.40 150.98L176.00 150.43L175.60 149.88L175.20 149.33L174.79 148.79L174.38 148.24L173.98 147.70L173.56 147.15L173.15 146.61L172.74 146.07L172.32 145.54L171.90 145.00L171.48 144.46L171.06 143.93L170.64 143.40L170.21 142.86L169.79 142.33L169.36 141.80L168.93 141.28L168.50 140.75L168.07 140.22L167.63 139.70L167.20 139.17L166.76 138.65L166.32 138.13L165.88 137.61L165.44 137.10L165.00 136.58L164.55 136.07L164.10 135.56L163.65 135.05L163.20 134.54L162.74 134.03L162.29 133.53L161.83 133.03L161.37 132.53L160.90 132.04L160.44 131.54L159.97 131.05L159.50 130.56L159.02 130.07L158.55 129.59L158.07 129.11L157.59 128.63L157.10 128.16L156.62 127.68L156.13 127.21L155.63 126.75L155.14 126.28L154.64 125.82L154.14 125.37L153.63 124.92L153.12 124.47L152.61 124.02L152.10 123.58L151.58 123.14L151.06 122.70L150.53 122.27L150.01 121.84L149.47 121.42L148.94 120.99L148.40 120.57L147.87 120.16L147.32 119.74L146.78 119.33L146.24 118.92L145.69 118.51L145.14 118.10L144.59 117.70L144.04 117.29L143.49 116.89L142.94 116.48L142.39 116.08L141.84 115.67L141.29 115.27L140.74 114.86L140.19 114.46L139.64 114.05L139.09 113.64L138.54 113.24L138.00 112.82L137.45 112.41L136.91 112.00L136.37 111.58L135.83 111.16L135.29 110.74L134.76 110.31L134.23 109.88L133.70 109.45L133.18 109.01L132.66 108.57L132.14 108.13L131.62 107.68L131.11 107.23L130.61 106.77L130.11 106.31L129.61 105.85L129.12 105.38L128.63 104.91L128.14 104.43L127.66 103.95L127.19 103.46L126.72 102.97L126.26 102.48L125.80 101.98L125.35 101.47L124.91 100.96L124.47 100.45L124.03 99.93L123.61 99.40L123.19 98.87L122.78 98.34L122.37 97.80L121.97 97.25L121.58 96.70L121.20 96.14L120.82 95.58L120.45 95.01L120.09 94.43L119.74 93.85L119.39 93.27L119.06 92.67L118.73 92.07L118.41 91.47L118.10 90.85L117.80 90.24L117.51 89.61L117.23 88.98L116.96 88.35L116.70 87.71L116.46 87.06L116.22 86.42L115.99 85.76L115.78 85.11L115.58 84.45L115.39 83.78L115.21 83.12L115.05 82.45L114.90 81.78L114.76 81.11L114.64 80.43L114.53 79.75L114.44 79.08L114.36 78.40L114.30 77.72L114.25 77.04L114.22 76.36L114.20 75.68L114.21 75.00L114.22 74.32L114.26 73.64L114.31 72.97L114.38 72.29L114.47 71.62L114.58 70.95L114.70 70.28L114.84 69.62L115.00 68.96L115.17 68.31L115.36 67.66L115.57 67.01L115.79 66.37L116.03 65.74L116.29 65.11L116.56 64.49L116.85 63.88L117.15 63.28L117.47 62.68L117.80 62.10L118.15 61.52L118.52 60.95L118.90 60.40L119.29 59.85L119.70 59.32L120.12 58.79L120.56 58.28L121.01 57.78L121.48 57.30L121.96 56.83L122.45 56.37L122.96 55.93L123.48 55.50L124.02 55.08L124.57 54.68L125.13 54.30L125.70 53.93L126.28 53.58L126.88 53.24L127.48 52.92L128.09 52.62L128.71 52.32L129.35 52.05L129.98 51.79L130.63 51.54L131.28 51.31L131.94 51.09L132.61 50.89L133.28 50.70L133.95 50.53L134.63 50.38L135.31 50.24L135.99 50.11L136.68 50.00L137.37 49.90L138.06 49.82L138.75 49.76L139.44 49.71L140.13 49.67L140.82 49.65L141.51 49.64Z" fill="none" stroke="#c6c6c6" stroke-width="1"/>
<path d="M137.16 42.62L137.94 42.65L138.72 42.69L139.49 42.75L140.26 42.82L141.03 42.92L141.80 43.02L142.56 43.15L143.32 43.29L144.07 43.44L144.82 43.61L145.57 43.79L146.31 43.99L147.05 44.20L147.79 44.42L148.52 44.66L149.25 44.91L149.97 45.17L150.69 45.44L151.41 45.73L152.12 46.03L152.82 46.34L153.53 46.66L154.22 47.00L154.92 47.34L155.61 47.70L156.29 48.06L156.97 48.44L157.64 48.82L158.31 49.22L158.98 49.62L159.64 50.03L160.29 50.46L160.94 50.89L161.58 51.33L162.22 51.77L162.85 52.23L163.48 52.69L164.10 53.16L164.72 53.63L165.33 54.11L165.94 54.60L166.54 55.10L167.14 55.60L167.73 56.10L168.32 56.61L168.91 57.12L169.49 57.64L170.07 58.16L170.65 58.68L171.22 59.21L171.80 59.74L172.37 60.27L172.94 60.80L173.51 61.34L174.07 61.87L174.64 62.41L175.21 62.94L175.78 63.48L176.34 64.01L176.91 64.55L177.48 65.08L178.05 65.61L178.62 66.14L179.19 66.68L179.75 67.21L180.31 67.75L180.87 68.29L181.43 68.84L181.97 69.38L182.52 69.94L183.06 70.49L183.60 71.06L184.13 71.62L184.65 72.19L185.18 72.76L185.70 73.34L186.21 73.91L186.72 74.50L187.22 75.08L187.73 75.67L188.22 76.27L188.72 76.87L189.20 77.47L189.69 78.07L190.17 78.68L190.64 79.29L191.11 79.90L191.58 80.52L192.04 81.14L192.50 81.76L192.96 82.39L193.41 83.02L193.85 83.65L194.30 84.29L194.74 84.93L195.17 85.57L195.60 86.21L196.03 86.86L196.45 87.51L196.87 88.16L197.28 88.82L197.69 89.48L198.10 90.14L198.50 90.80L198.90 91.47L199.29 92.14L199.68 92.81L200.07 93.49L200.45 94.16L200.83 94.84L201.21 95.52L201.58 96.21L201.94 96.89L202.31 97.58L202.67 98.27L203.02 98.96L203.38 99.66L203.72 100.36L204.07 101.05L204.41 101.76L204.75 102.46L205.08 103.16L205.41 103.87L205.74 104.58L206.06 105.29L206.38 106.00L206.70 106.72L207.01 107.43L207.32 108.15L207.62 108.87L207.92 109.59L208.22 110.31L208.52 111.04L208.81 111.76L209.09 112.49L209.37 113.22L209.65 113.95L209.93 114.68L210.20 115.41L210.46 116.15L210.72 116.89L210.98 117.62L211.23 118.36L211.48 119.10L211.72 119.84L211.96 120.59L212.20 121.33L212.43 122.07L212.65 122.82L212.87 123.57L213.09 124.32L213.30 125.07L213.50 125.82L213.70 126.57L213.90 127.32L214.09 128.08L214.27 128.83L214.45 129.59L214.62 130.35L214.79 131.10L214.95 131.86L215.11 132.62L215.26 133.38L215.41 134.15L215.55 134.91L215.68 135.67L215.81 136.44L215.93 137.20L216.05 137.97L216.16 138.73L216.26 139.50L216.36 140.27L216.45 141.04L216.54 141.81L216.62 142.57L216.69 143.34L216.75 144.12L216.81 144.89L216.87 145.66L216.91 146.43L216.95 147.20L216.98 147.98L217.01 148.75L217.03 149.52L217.04 150.30L217.04 151.07L217.04 151.85L217.03 152.62L217.01 153.40L216.99 154.17L216.96 154.95L216.92 155.72L216.87 156.50L216.82 157.28L216.76 158.05L216.69 158.83L216.61 159.60L216.52 160.38L216.43 161.15L216.33 161.93L216.22 162.70L216.11 163.48L215.98 164.25L215.85 165.02L215.71 165.80L215.56 166.57L215.40 167.34L215.24 168.11L215.06 168.88L214.88 169.65L214.69 170.41L214.49 171.18L214.28 171.94L214.07 172.70L213.84 173.46L213.60 174.21L213.34 174.96L213.07 175.70L212.78 176.43L212.48 177.14L212.15 177.85L211.80 178.54L211.43 179.22L211.03 179.88L210.61 180.53L210.16 181.16L209.68 181.76L209.17 182.35L208.63 182.91L208.06 183.44L207.45 183.96L206.81 184.44L206.14 184.88L205.45 185.29L204.75 185.65L204.02 185.96L203.29 186.22L202.55 186.42L201.81 186.56L201.07 186.63L200.33 186.63L199.61 186.55L198.89 186.40L198.18 186.18L197.49 185.91L196.81 185.58L196.14 185.20L195.49 184.77L194.85 184.32L194.23 183.83L193.63 183.31L193.04 182.78L192.47 182.23L191.92 181.67L191.39 181.09L190.87 180.51L190.37 179.91L189.88 179.30L189.40 178.69L188.93 178.06L188.48 177.43L188.04 176.79L187.60 176.15L187.17 175.50L186.75 174.84L186.34 174.18L185.93 173.51L185.52 172.85L185.12 172.18L184.72 171.51L184.32 170.83L183.92 170.16L183.52 169.49L183.12 168.82L182.72 168.15L182.31 167.49L181.90 166.82L181.48 166.16L181.06 165.50L180.64 164.85L180.21 164.20L179.79 163.55L179.35 162.90L178.92 162.25L178.48 161.61L178.04 160.97L177.59 160.33L177.15 159.69L176.70 159.06L176.24 158.43L175.79 157.79L175.33 157.17L174.87 156.54L174.41 155.91L173.94 155.29L173.48 154.67L173.01 154.05L172.53 153.43L172.06 152.82L171.58 152.20L171.10 151.59L170.62 150.98L170.14 150.37L169.66 149.76L169.17 149.15L168.69 148.54L168.20 147.94L167.71 147.33L167.22 146.73L166.72 146.13L166.23 145.53L165.73 144.93L165.23 144.33L164.73 143.74L164.23 143.15L163.72 142.56L163.21 141.97L162.70 141.38L162.19 140.80L161.68 140.21L161.16 139.63L160.64 139.06L160.12 138.48L159.59 137.91L159.06 137.34L158.54 136.77L158.00 136.21L157.47 135.65L156.93 135.09L156.39 134.53L155.84 133.98L155.30 133.43L154.75 132.88L154.19 132.34L153.64 131.80L153.08 131.26L152.51 130.73L151.95 130.20L151.38 129.67L150.80 129.15L150.22 128.63L149.64 128.12L149.06 127.61L148.47 127.10L147.88 126.60L147.28 126.10L146.68 125.61L146.08 125.12L145.47 124.63L144.86 124.15L144.25 123.67L143.63 123.20L143.02 122.72L142.40 122.25L141.77 121.78L141.15 121.32L140.52 120.85L139.90 120.39L139.27 119.92L138.64 119.46L138.01 119.00L137.38 118.54L136.75 118.07L136.12 117.61L135.49 117.15L134.86 116.68L134.23 116.22L133.61 115.75L132.98 115.29L132.36 114.82L131.73 114.34L131.11 113.87L130.50 113.39L129.88 112.91L129.27 112.43L128.66 111.94L128.05 111.45L127.45 110.96L126.85 110.46L126.25 109.95L125.66 109.45L125.07 108.94L124.49 108.42L123.91 107.90L123.34 107.37L122.77 106.84L122.21 106.31L121.65 105.77L121.09 105.22L120.55 104.67L120.01 104.12L119.47 103.56L118.94 102.99L118.42 102.42L117.90 101.84L117.40 101.26L116.89 100.67L116.40 100.08L115.91 99.48L115.43 98.87L114.96 98.26L114.50 97.64L114.04 97.02L113.59 96.39L113.15 95.75L112.72 95.11L112.30 94.46L111.89 93.80L111.49 93.13L111.10 92.46L110.71 91.79L110.34 91.10L109.97 90.41L109.62 89.71L109.28 89.00L108.95 88.29L108.63 87.57L108.32 86.84L108.02 86.11L107.74 85.38L107.47 84.64L107.21 83.89L106.96 83.14L106.73 82.39L106.52 81.63L106.32 80.87L106.13 80.10L105.96 79.34L105.80 78.57L105.66 77.79L105.54 77.02L105.43 76.25L105.34 75.47L105.27 74.69L105.22 73.92L105.18 73.14L105.17 72.36L105.17 71.59L105.19 70.81L105.23 70.04L105.29 69.27L105.37 68.49L105.47 67.73L105.59 66.96L105.73 66.20L105.89 65.44L106.07 64.69L106.27 63.94L106.49 63.19L106.73 62.46L106.98 61.73L107.26 61.00L107.55 60.29L107.86 59.58L108.19 58.88L108.53 58.19L108.90 57.51L109.28 56.84L109.68 56.18L110.09 55.53L110.53 54.90L110.98 54.27L111.45 53.66L111.93 53.07L112.43 52.48L112.95 51.91L113.48 51.36L114.03 50.82L114.59 50.30L115.17 49.79L115.77 49.30L116.38 48.83L117.01 48.37L117.65 47.93L118.30 47.51L118.97 47.11L119.65 46.72L120.34 46.36L121.04 46.01L121.75 45.67L122.47 45.36L123.20 45.06L123.94 44.78L124.68 44.51L125.44 44.26L126.20 44.03L126.96 43.82L127.73 43.63L128.51 43.45L129.29 43.29L130.07 43.14L130.85 43.02L131.64 42.91L132.43 42.81L133.22 42.74L134.01 42.68L134.80 42.64L135.59 42.62L136.37 42.61Z" fill="none" stroke="#c6c6c6" stroke-width="1"/>
<path d="M131.96 35.63L132.83 35.66L133.71 35.70L134.58 35.77L135.45 35.86L136.31 35.96L137.18 36.08L138.03 36.22L138.88 36.38L139.73 36.55L140.58 36.74L141.42 36.94L142.26 37.16L143.09 37.40L143.92 37.65L144.74 37.92L145.56 38.20L146.37 38.49L147.18 38.80L147.99 39.13L148.79 39.46L149.58 39.81L150.37 40.18L151.16 40.55L151.94 40.94L152.71 41.34L153.48 41.75L154.24 42.17L155.00 42.61L155.76 43.05L156.50 43.50L157.25 43.97L157.98 44.44L158.71 44.93L159.44 45.42L160.15 45.92L160.87 46.43L161.57 46.95L162.27 47.48L162.97 48.02L163.65 48.56L164.34 49.11L165.01 49.66L165.68 50.22L166.35 50.79L167.02 51.36L167.67 51.94L168.33 52.52L168.98 53.11L169.63 53.70L170.28 54.29L170.92 54.89L171.57 55.48L172.21 56.08L172.85 56.68L173.49 57.29L174.13 57.89L174.77 58.49L175.40 59.09L176.04 59.69L176.68 60.29L177.32 60.89L177.96 61.49L178.60 62.09L179.24 62.69L179.88 63.29L180.51 63.90L181.14 64.51L181.76 65.12L182.38 65.74L182.99 66.36L183.60 66.99L184.20 67.62L184.80 68.25L185.39 68.89L185.98 69.53L186.56 70.18L187.14 70.83L187.71 71.49L188.28 72.15L188.85 72.81L189.41 73.48L189.96 74.15L190.51 74.83L191.05 75.51L191.59 76.19L192.13 76.88L192.66 77.57L193.18 78.26L193.70 78.96L194.22 79.66L194.73 80.37L195.24 81.08L195.74 81.79L196.24 82.50L196.73 83.22L197.22 83.94L197.70 84.67L198.18 85.40L198.66 86.13L199.13 86.86L199.60 87.60L200.06 88.34L200.51 89.09L200.97 89.83L201.41 90.58L201.86 91.34L202.30 92.09L202.73 92.85L203.16 93.61L203.59 94.38L204.01 95.14L204.43 95.91L204.84 96.68L205.25 97.46L205.66 98.23L206.06 99.01L206.45 99.80L206.85 100.58L207.23 101.37L207.62 102.16L208.00 102.95L208.37 103.74L208.74 104.53L209.11 105.33L209.47 106.13L209.83 106.93L210.19 107.74L210.54 108.54L210.89 109.35L211.23 110.16L211.57 110.97L211.90 111.78L212.24 112.60L212.56 113.41L212.88 114.23L213.20 115.05L213.51 115.87L213.82 116.70L214.12 117.52L214.42 118.35L214.72 119.18L215.01 120.01L215.29 120.84L215.57 121.67L215.84 122.50L216.11 123.34L216.38 124.18L216.63 125.01L216.89 125.85L217.13 126.70L217.38 127.54L217.61 128.38L217.84 129.23L218.07 130.07L218.29 130.92L218.50 131.77L218.71 132.62L218.91 133.47L219.11 134.32L219.29 135.17L219.48 136.03L219.65 136.88L219.82 137.74L219.99 138.59L220.15 139.45L220.30 140.31L220.44 141.17L220.58 142.03L220.71 142.89L220.83 143.75L220.95 144.62L221.06 145.48L221.16 146.35L221.26 147.21L221.35 148.08L221.43 148.94L221.50 149.81L221.57 150.68L221.63 151.55L221.68 152.41L221.73 153.28L221.76 154.15L221.79 155.02L221.81 155.89L221.82 156.76L221.83 157.63L221.83 158.51L221.82 159.38L221.80 160.25L221.77 161.12L221.73 162.00L221.69 162.87L221.64 163.74L221.58 164.61L221.51 165.49L221.43 166.36L221.34 167.23L221.25 168.11L221.14 168.98L221.03 169.85L220.91 170.72L220.77 171.59L220.63 172.46L220.49 173.33L220.33 174.20L220.16 175.07L219.98 175.94L219.80 176.80L219.60 177.67L219.40 178.53L219.18 179.39L218.96 180.25L218.73 181.11L218.48 181.97L218.22 182.82L217.95 183.67L217.66 184.51L217.36 185.34L217.04 186.16L216.69 186.97L216.32 187.76L215.93 188.54L215.51 189.31L215.07 190.05L214.59 190.78L214.08 191.48L213.55 192.16L212.97 192.82L212.36 193.45L211.72 194.05L211.03 194.63L210.31 195.17L209.56 195.67L208.79 196.13L207.99 196.53L207.18 196.89L206.36 197.18L205.53 197.40L204.69 197.56L203.86 197.64L203.03 197.63L202.21 197.55L201.41 197.38L200.61 197.13L199.83 196.82L199.07 196.45L198.32 196.03L197.58 195.55L196.86 195.04L196.17 194.48L195.49 193.91L194.83 193.30L194.19 192.69L193.57 192.05L192.97 191.41L192.38 190.75L191.82 190.08L191.27 189.40L190.73 188.71L190.21 188.00L189.70 187.29L189.20 186.57L188.71 185.85L188.22 185.11L187.75 184.37L187.28 183.63L186.82 182.88L186.37 182.13L185.92 181.38L185.46 180.62L185.02 179.87L184.57 179.11L184.12 178.36L183.66 177.60L183.21 176.85L182.75 176.10L182.29 175.35L181.82 174.61L181.35 173.87L180.87 173.13L180.40 172.40L179.91 171.67L179.43 170.94L178.94 170.21L178.44 169.49L177.95 168.77L177.45 168.05L176.95 167.33L176.44 166.62L175.93 165.91L175.42 165.20L174.90 164.49L174.38 163.79L173.86 163.08L173.34 162.38L172.81 161.68L172.29 160.99L171.75 160.29L171.22 159.60L170.69 158.91L170.15 158.22L169.61 157.53L169.07 156.84L168.52 156.16L167.98 155.47L167.43 154.79L166.88 154.11L166.33 153.43L165.77 152.75L165.22 152.07L164.66 151.40L164.10 150.73L163.54 150.06L162.97 149.39L162.41 148.72L161.84 148.06L161.27 147.39L160.69 146.73L160.12 146.08L159.54 145.42L158.96 144.77L158.37 144.12L157.79 143.47L157.20 142.83L156.60 142.19L156.01 141.55L155.41 140.91L154.81 140.28L154.20 139.65L153.59 139.03L152.98 138.40L152.36 137.79L151.74 137.17L151.12 136.56L150.50 135.95L149.87 135.35L149.23 134.75L148.59 134.15L147.95 133.56L147.31 132.98L146.66 132.39L146.00 131.82L145.35 131.24L144.69 130.67L144.02 130.11L143.35 129.55L142.67 128.99L142.00 128.44L141.31 127.89L140.63 127.35L139.94 126.81L139.24 126.28L138.55 125.74L137.85 125.21L137.15 124.69L136.45 124.16L135.74 123.64L135.04 123.11L134.33 122.59L133.62 122.07L132.92 121.55L132.21 121.03L131.50 120.51L130.79 119.99L130.08 119.47L129.37 118.95L128.67 118.43L127.96 117.90L127.26 117.38L126.56 116.85L125.86 116.32L125.16 115.78L124.46 115.25L123.77 114.71L123.08 114.16L122.40 113.62L121.71 113.06L121.03 112.51L120.36 111.95L119.69 111.38L119.02 110.81L118.36 110.23L117.71 109.65L117.06 109.07L116.41 108.48L115.77 107.88L115.14 107.28L114.51 106.67L113.89 106.06L113.27 105.44L112.66 104.81L112.06 104.18L111.47 103.55L110.88 102.90L110.30 102.26L109.72 101.60L109.16 100.94L108.60 100.27L108.06 99.59L107.52 98.91L106.99 98.22L106.46 97.53L105.95 96.83L105.45 96.12L104.95 95.40L104.47 94.68L104.00 93.94L103.53 93.20L103.08 92.46L102.64 91.70L102.21 90.94L101.79 90.17L101.38 89.39L100.98 88.60L100.59 87.81L100.22 87.00L99.86 86.20L99.51 85.38L99.18 84.56L98.86 83.73L98.56 82.90L98.27 82.06L97.99 81.21L97.73 80.36L97.49 79.51L97.26 78.65L97.05 77.79L96.86 76.93L96.68 76.07L96.53 75.20L96.39 74.33L96.27 73.46L96.17 72.58L96.09 71.71L96.03 70.84L95.98 69.96L95.97 69.09L95.97 68.22L95.99 67.34L96.04 66.47L96.11 65.60L96.20 64.74L96.31 63.87L96.45 63.01L96.61 62.15L96.79 61.30L96.99 60.45L97.21 59.61L97.46 58.77L97.72 57.94L98.01 57.12L98.32 56.31L98.65 55.50L98.99 54.71L99.36 53.92L99.75 53.15L100.16 52.38L100.59 51.63L101.04 50.89L101.51 50.16L102.00 49.44L102.51 48.74L103.03 48.05L103.58 47.38L104.14 46.72L104.72 46.08L105.32 45.46L105.94 44.85L106.57 44.26L107.23 43.69L107.90 43.14L108.58 42.61L109.29 42.10L110.01 41.61L110.74 41.13L111.49 40.68L112.26 40.25L113.03 39.83L113.82 39.44L114.62 39.06L115.43 38.71L116.25 38.37L117.08 38.05L117.92 37.76L118.77 37.48L119.62 37.22L120.49 36.98L121.35 36.76L122.23 36.56L123.10 36.38L123.98 36.22L124.87 36.07L125.75 35.95L126.64 35.85L127.53 35.76L128.41 35.70L129.30 35.65L130.19 35.62L131.07 35.61Z" fill="none" stroke="#c6c6c6" stroke-width="1"/>
<line x1="107" y1="110.6" x2="278.9" y2="85.7" stroke="#b0b0b0" stroke-width="3.4"/>
<path d="M136.00 33.30C136.38 33.83 137.83 35.28 138.30 36.50C138.77 37.72 138.90 39.10 138.80 40.60C138.70 42.10 137.80 43.88 137.70 45.50C137.60 47.12 137.68 48.68 138.20 50.30C138.72 51.92 139.38 53.57 140.80 55.20C142.22 56.83 144.42 58.32 146.70 60.10C148.98 61.88 151.92 64.03 154.50 65.90C157.08 67.77 159.28 69.37 162.20 71.30C165.12 73.23 168.62 75.33 172.00 77.50C175.38 79.67 179.68 82.52 182.50 84.30C185.32 86.08 187.28 87.33 188.90 88.20C190.52 89.07 191.42 89.67 192.20 89.50C192.98 89.33 193.25 88.07 193.60 87.20C193.95 86.33 193.95 84.93 194.30 84.30C194.65 83.67 195.07 83.18 195.70 83.40C196.33 83.62 197.28 84.80 198.10 85.60C198.92 86.40 200.18 87.77 200.60 88.20" fill="none" stroke="#2848f0" stroke-width="1.6" stroke-linecap="round" stroke-linejoin="round"/>
<path d="M121.50 35.30C121.82 35.70 122.92 36.48 123.40 37.70C123.88 38.92 124.23 40.82 124.40 42.60C124.57 44.38 124.15 46.62 124.40 48.40C124.65 50.18 125.02 51.83 125.90 53.30C126.78 54.77 128.18 55.83 129.70 57.20C131.22 58.57 132.82 59.88 135.00 61.50C137.18 63.12 140.20 65.15 142.80 66.90C145.40 68.65 147.85 69.98 150.60 72.00C153.35 74.02 155.73 76.25 159.30 79.00C162.87 81.75 168.07 85.78 172.00 88.50C175.93 91.22 179.98 93.28 182.90 95.30C185.82 97.32 187.30 98.92 189.50 100.60C191.70 102.28 193.75 103.82 196.10 105.40C198.45 106.98 202.03 109.48 203.60 110.10C205.17 110.72 204.95 109.82 205.50 109.10C206.05 108.38 206.35 106.27 206.90 105.80C207.45 105.33 208.17 105.98 208.80 106.30C209.43 106.62 210.38 107.47 210.70 107.70" fill="none" stroke="#1e64f8" stroke-width="1.6" stroke-linecap="round" stroke-linejoin="round"/>
<path d="M110.10 39.20C110.45 39.77 111.60 41.07 112.20 42.60C112.80 44.13 113.05 46.30 113.70 48.40C114.35 50.50 114.88 53.10 116.10 55.20C117.32 57.30 119.05 59.22 121.00 61.00C122.95 62.78 125.47 64.12 127.80 65.90C130.13 67.68 132.18 69.55 135.00 71.70C137.82 73.85 141.45 76.48 144.70 78.80C147.95 81.12 151.25 83.33 154.50 85.60C157.75 87.87 160.88 90.10 164.20 92.40C167.52 94.70 171.13 97.10 174.40 99.40C177.67 101.70 180.67 103.92 183.80 106.20C186.93 108.48 190.05 110.73 193.20 113.10C196.35 115.47 199.87 118.23 202.70 120.40C205.53 122.57 208.57 125.42 210.20 126.10C211.83 126.78 211.87 124.98 212.50 124.50C213.13 124.02 213.45 123.33 214.00 123.20C214.55 123.07 215.10 123.22 215.80 123.70C216.50 124.18 217.80 125.70 218.20 126.10" fill="none" stroke="#1890ff" stroke-width="1.6" stroke-linecap="round" stroke-linejoin="round"/>
<path d="M100.10 45.00C100.67 45.73 102.53 47.70 103.50 49.40C104.47 51.10 104.93 53.10 105.90 55.20C106.87 57.30 107.60 59.88 109.30 62.00C111.00 64.12 113.67 66.12 116.10 67.90C118.53 69.68 121.63 71.18 123.90 72.70C126.17 74.22 127.85 75.67 129.70 77.00C131.55 78.33 132.50 79.27 135.00 80.70C137.50 82.13 141.45 83.65 144.70 85.60C147.95 87.55 151.12 89.95 154.50 92.40C157.88 94.85 161.68 97.98 165.00 100.30C168.32 102.62 171.27 104.15 174.40 106.30C177.53 108.45 180.67 110.85 183.80 113.20C186.93 115.55 190.08 117.60 193.20 120.40C196.32 123.20 200.05 127.62 202.50 130.00C204.95 132.38 206.22 133.27 207.90 134.70C209.58 136.13 211.30 137.83 212.60 138.60C213.90 139.37 214.67 139.50 215.70 139.30C216.73 139.10 217.97 137.52 218.80 137.40C219.63 137.28 220.12 138.08 220.70 138.60C221.28 139.12 222.03 140.18 222.30 140.50" fill="none" stroke="#14c0f8" stroke-width="1.6" stroke-linecap="round" stroke-linejoin="round"/>
<path d="M92.30 56.70C93.18 57.58 95.90 60.30 97.60 62.00C99.30 63.70 100.72 65.18 102.50 66.90C104.28 68.62 106.52 70.75 108.30 72.30C110.08 73.85 110.58 74.80 113.20 76.20C115.82 77.60 120.37 78.82 124.00 80.70C127.63 82.58 131.55 85.55 135.00 87.50C138.45 89.45 141.45 90.45 144.70 92.40C147.95 94.35 151.12 96.92 154.50 99.20C157.88 101.48 161.68 103.88 165.00 106.10C168.32 108.32 171.27 110.25 174.40 112.50C177.53 114.75 180.42 116.68 183.80 119.60C187.18 122.52 191.72 127.10 194.70 130.00C197.68 132.90 199.50 134.67 201.70 137.00C203.90 139.33 205.97 141.92 207.90 144.00C209.83 146.08 211.87 148.33 213.30 149.50C214.73 150.67 215.45 150.85 216.50 151.00C217.55 151.15 218.63 150.37 219.60 150.40C220.57 150.43 221.85 151.07 222.30 151.20" fill="none" stroke="#10e0f0" stroke-width="1.6" stroke-linecap="round" stroke-linejoin="round"/>
<path d="M92.30 74.80C93.18 74.88 96.07 74.93 97.60 75.30C99.13 75.67 100.20 76.35 101.50 77.00C102.80 77.65 103.45 78.10 105.40 79.20C107.35 80.30 110.10 82.13 113.20 83.60C116.30 85.07 120.37 86.22 124.00 88.00C127.63 89.78 131.55 92.60 135.00 94.30C138.45 96.00 141.45 96.58 144.70 98.20C147.95 99.82 151.12 101.87 154.50 104.00C157.88 106.13 161.68 108.73 165.00 111.00C168.32 113.27 171.27 115.25 174.40 117.60C177.53 119.95 181.20 122.58 183.80 125.10C186.40 127.62 187.67 130.07 190.00 132.70C192.33 135.33 195.20 137.98 197.80 140.90C200.40 143.82 203.27 147.48 205.60 150.20C207.93 152.92 209.98 155.38 211.80 157.20C213.62 159.02 215.07 160.32 216.50 161.10C217.93 161.88 219.12 161.18 220.40 161.90C221.68 162.62 223.57 164.82 224.20 165.40" fill="none" stroke="#1ee8b8" stroke-width="1.6" stroke-linecap="round" stroke-linejoin="round"/>
<path d="M98.60 87.00C99.73 87.08 102.97 87.02 105.40 87.50C107.83 87.98 110.10 88.85 113.20 89.90C116.30 90.95 120.37 92.42 124.00 93.80C127.63 95.18 131.55 96.82 135.00 98.20C138.45 99.58 141.45 100.48 144.70 102.10C147.95 103.72 151.12 105.55 154.50 107.90C157.88 110.25 161.68 113.80 165.00 116.20C168.32 118.60 171.27 119.72 174.40 122.30C177.53 124.88 181.20 128.87 183.80 131.70C186.40 134.53 187.67 136.60 190.00 139.30C192.33 142.00 195.20 144.78 197.80 147.90C200.40 151.02 203.53 155.20 205.60 158.00C207.67 160.80 208.52 162.68 210.20 164.70C211.88 166.72 214.00 168.80 215.70 170.10C217.40 171.40 219.10 171.40 220.40 172.50C221.70 173.60 222.98 176.00 223.50 176.70" fill="none" stroke="#20e890" stroke-width="1.6" stroke-linecap="round" stroke-linejoin="round"/>
<path d="M102.50 94.80C103.63 94.80 106.87 94.47 109.30 94.80C111.73 95.13 114.57 95.90 117.10 96.80C119.63 97.70 121.52 99.07 124.50 100.20C127.48 101.33 131.63 102.47 135.00 103.60C138.37 104.73 141.45 105.57 144.70 107.00C147.95 108.43 151.12 109.97 154.50 112.20C157.88 114.43 161.68 117.77 165.00 120.40C168.32 123.03 171.40 125.40 174.40 128.00C177.40 130.60 180.40 133.33 183.00 136.00C185.60 138.67 187.75 141.08 190.00 144.00C192.25 146.92 194.83 150.83 196.50 153.50C198.17 156.17 198.50 157.50 200.00 160.00C201.50 162.50 203.75 165.78 205.50 168.50C207.25 171.22 208.72 173.95 210.50 176.30C212.28 178.65 214.55 180.78 216.20 182.60C217.85 184.42 219.70 186.43 220.40 187.20" fill="none" stroke="#22e868" stroke-width="1.6" stroke-linecap="round" stroke-linejoin="round"/>
<path d="M108.30 100.60C109.43 100.53 112.40 99.73 115.10 100.20C117.80 100.67 121.18 102.23 124.50 103.40C127.82 104.57 131.63 106.02 135.00 107.20C138.37 108.38 141.45 109.07 144.70 110.50C147.95 111.93 151.12 113.52 154.50 115.80C157.88 118.08 161.68 121.38 165.00 124.20C168.32 127.02 171.57 129.82 174.40 132.70C177.23 135.58 179.40 138.45 182.00 141.50C184.60 144.55 187.70 148.00 190.00 151.00C192.30 154.00 193.88 156.53 195.80 159.50C197.72 162.47 199.75 165.60 201.50 168.80C203.25 172.00 204.58 175.75 206.30 178.70C208.02 181.65 210.23 183.92 211.80 186.50C213.37 189.08 215.05 192.92 215.70 194.20" fill="none" stroke="#24e844" stroke-width="1.6" stroke-linecap="round" stroke-linejoin="round"/>
<path d="M111.70 106.00C112.75 105.92 115.87 105.30 118.00 105.50C120.13 105.70 121.67 106.30 124.50 107.20C127.33 108.10 131.63 109.73 135.00 110.90C138.37 112.07 141.45 112.75 144.70 114.20C147.95 115.65 151.12 117.30 154.50 119.60C157.88 121.90 161.42 124.60 165.00 128.00C168.58 131.40 172.95 136.50 176.00 140.00C179.05 143.50 180.97 145.95 183.30 149.00C185.63 152.05 187.85 154.83 190.00 158.30C192.15 161.77 194.25 166.15 196.20 169.80C198.15 173.45 199.85 176.95 201.70 180.20C203.55 183.45 205.70 185.97 207.30 189.30C208.90 192.63 210.63 198.38 211.30 200.20" fill="none" stroke="#28e824" stroke-width="1.6" stroke-linecap="round" stroke-linejoin="round"/>
<path d="M118.00 110.40C119.08 110.40 121.67 109.75 124.50 110.40C127.33 111.05 131.63 113.07 135.00 114.30C138.37 115.53 141.45 116.28 144.70 117.80C147.95 119.32 151.12 121.15 154.50 123.40C157.88 125.65 161.42 127.95 165.00 131.30C168.58 134.65 173.08 139.97 176.00 143.50C178.92 147.03 180.57 149.75 182.50 152.50C184.43 155.25 186.10 157.50 187.60 160.00C189.10 162.50 190.32 164.90 191.50 167.50C192.68 170.10 193.22 172.43 194.70 175.60C196.18 178.77 198.60 182.40 200.40 186.50C202.20 190.60 204.65 197.92 205.50 200.20" fill="none" stroke="#50ee1e" stroke-width="1.6" stroke-linecap="round" stroke-linejoin="round"/>
<path d="M122.40 114.70C123.33 114.73 125.90 114.43 128.00 114.90C130.10 115.37 132.22 116.40 135.00 117.50C137.78 118.60 141.45 119.83 144.70 121.50C147.95 123.17 151.95 125.82 154.50 127.50C157.05 129.18 158.25 130.32 160.00 131.60C161.75 132.88 163.00 133.38 165.00 135.20C167.00 137.02 169.50 139.47 172.00 142.50C174.50 145.53 177.92 150.48 180.00 153.40C182.08 156.32 182.90 157.23 184.50 160.00C186.10 162.77 188.12 166.83 189.60 170.00C191.08 173.17 192.30 176.33 193.40 179.00C194.50 181.67 195.30 183.70 196.20 186.00C197.10 188.30 198.03 190.47 198.80 192.80C199.57 195.13 200.47 198.80 200.80 200.00" fill="none" stroke="#84f01a" stroke-width="1.6" stroke-linecap="round" stroke-linejoin="round"/>
<path d="M128.10 119.50C129.07 119.57 131.13 118.98 133.90 119.90C136.67 120.82 141.27 123.15 144.70 125.00C148.13 126.85 151.95 129.45 154.50 131.00C157.05 132.55 158.25 133.17 160.00 134.30C161.75 135.43 163.17 136.15 165.00 137.80C166.83 139.45 169.00 141.75 171.00 144.20C173.00 146.65 175.18 149.87 177.00 152.50C178.82 155.13 180.23 157.08 181.90 160.00C183.57 162.92 185.62 167.12 187.00 170.00C188.38 172.88 189.22 174.95 190.20 177.30C191.18 179.65 192.03 181.83 192.90 184.10C193.77 186.37 194.65 188.55 195.40 190.90C196.15 193.25 197.07 196.98 197.40 198.20" fill="none" stroke="#c0f018" stroke-width="1.6" stroke-linecap="round" stroke-linejoin="round"/>
<path d="M133.60 124.50C134.62 124.52 137.47 123.93 139.70 124.60C141.93 125.27 144.53 127.02 147.00 128.50C149.47 129.98 152.33 132.08 154.50 133.50C156.67 134.92 158.25 135.80 160.00 137.00C161.75 138.20 163.25 139.00 165.00 140.70C166.75 142.40 168.67 144.78 170.50 147.20C172.33 149.62 174.48 153.07 176.00 155.20C177.52 157.33 178.15 157.53 179.60 160.00C181.05 162.47 183.37 167.25 184.70 170.00C186.03 172.75 186.73 174.50 187.60 176.50C188.47 178.50 189.13 180.08 189.90 182.00C190.67 183.92 191.52 185.87 192.20 188.00C192.88 190.13 193.70 193.67 194.00 194.80" fill="none" stroke="#eef018" stroke-width="1.6" stroke-linecap="round" stroke-linejoin="round"/>
<path d="M139.80 129.60C140.95 129.92 144.25 130.53 146.70 131.50C149.15 132.47 152.28 134.03 154.50 135.40C156.72 136.77 158.25 138.35 160.00 139.70C161.75 141.05 163.33 141.87 165.00 143.50C166.67 145.13 168.17 147.12 170.00 149.50C171.83 151.88 174.43 155.28 176.00 157.80C177.57 160.32 178.35 162.33 179.40 164.60C180.45 166.87 181.32 169.13 182.30 171.40C183.28 173.67 184.40 176.08 185.30 178.20C186.20 180.32 186.90 182.07 187.70 184.10C188.50 186.13 189.70 189.35 190.10 190.40" fill="none" stroke="#fad428" stroke-width="1.6" stroke-linecap="round" stroke-linejoin="round"/>
<path d="M145.60 135.40C146.58 135.73 149.10 136.17 151.50 137.40C153.90 138.63 157.58 141.03 160.00 142.80C162.42 144.57 164.17 146.05 166.00 148.00C167.83 149.95 169.33 152.22 171.00 154.50C172.67 156.78 174.77 159.53 176.00 161.70C177.23 163.87 177.58 165.55 178.40 167.50C179.22 169.45 180.08 171.45 180.90 173.40C181.72 175.35 182.50 177.33 183.30 179.20C184.10 181.07 185.30 183.70 185.70 184.60" fill="none" stroke="#fcb03c" stroke-width="1.6" stroke-linecap="round" stroke-linejoin="round"/>
<path d="M153.50 143.30C154.47 143.80 157.38 144.93 159.30 146.30C161.22 147.67 163.22 149.63 165.00 151.50C166.78 153.37 168.50 155.58 170.00 157.50C171.50 159.42 172.83 161.17 174.00 163.00C175.17 164.83 176.18 166.77 177.00 168.50C177.82 170.23 178.17 171.70 178.90 173.40C179.63 175.10 180.98 177.82 181.40 178.70" fill="none" stroke="#fa8a3c" stroke-width="1.6" stroke-linecap="round" stroke-linejoin="round"/>
<path d="M165.30 156.50C166.08 157.37 168.68 159.92 170.00 161.70C171.32 163.48 172.67 166.28 173.20 167.20" fill="none" stroke="#f25038" stroke-width="1.6" stroke-linecap="round" stroke-linejoin="round"/>
<path d="M126.60 28.67L127.57 28.71L128.54 28.76L129.51 28.84L130.48 28.93L131.44 29.05L132.39 29.18L133.35 29.34L134.29 29.51L135.24 29.70L136.18 29.91L137.11 30.14L138.04 30.38L138.96 30.64L139.88 30.92L140.80 31.22L141.71 31.53L142.61 31.86L143.51 32.20L144.41 32.56L145.30 32.94L146.18 33.33L147.06 33.73L147.93 34.15L148.80 34.58L149.66 35.02L150.51 35.48L151.36 35.95L152.20 36.43L153.04 36.92L153.87 37.43L154.70 37.94L155.51 38.47L156.32 39.01L157.13 39.56L157.93 40.11L158.72 40.68L159.50 41.26L160.28 41.85L161.05 42.44L161.81 43.04L162.57 43.65L163.32 44.27L164.07 44.89L164.81 45.52L165.55 46.16L166.28 46.80L167.01 47.45L167.74 48.10L168.46 48.75L169.18 49.41L169.89 50.07L170.61 50.74L171.32 51.40L172.03 52.07L172.74 52.74L173.45 53.41L174.16 54.08L174.87 54.75L175.58 55.41L176.29 56.08L177.00 56.75L177.71 57.41L178.42 58.08L179.13 58.75L179.84 59.41L180.54 60.09L181.24 60.76L181.93 61.44L182.62 62.13L183.30 62.82L183.97 63.52L184.64 64.22L185.31 64.92L185.97 65.63L186.62 66.35L187.27 67.07L187.91 67.79L188.55 68.52L189.18 69.26L189.81 69.99L190.43 70.74L191.04 71.48L191.65 72.23L192.26 72.99L192.86 73.75L193.45 74.51L194.04 75.28L194.63 76.05L195.21 76.82L195.78 77.60L196.35 78.39L196.91 79.17L197.47 79.96L198.02 80.76L198.57 81.56L199.11 82.36L199.65 83.17L200.18 83.98L200.71 84.79L201.23 85.61L201.75 86.43L202.26 87.25L202.77 88.08L203.27 88.90L203.77 89.74L204.26 90.57L204.75 91.41L205.24 92.26L205.71 93.10L206.19 93.95L206.66 94.80L207.12 95.66L207.58 96.52L208.03 97.38L208.48 98.24L208.93 99.10L209.37 99.97L209.81 100.84L210.24 101.72L210.66 102.59L211.09 103.47L211.50 104.35L211.92 105.24L212.32 106.12L212.73 107.01L213.13 107.90L213.52 108.80L213.91 109.69L214.30 110.59L214.68 111.49L215.06 112.39L215.43 113.29L215.79 114.20L216.16 115.10L216.51 116.01L216.87 116.92L217.21 117.84L217.56 118.75L217.89 119.67L218.23 120.59L218.55 121.51L218.87 122.43L219.19 123.35L219.50 124.28L219.80 125.20L220.10 126.13L220.40 127.06L220.68 127.99L220.96 128.93L221.24 129.86L221.51 130.80L221.77 131.73L222.03 132.67L222.28 133.61L222.52 134.55L222.76 135.50L222.99 136.44L223.21 137.39L223.43 138.33L223.64 139.28L223.84 140.23L224.04 141.18L224.23 142.13L224.41 143.08L224.58 144.04L224.75 144.99L224.91 145.95L225.07 146.90L225.21 147.86L225.35 148.82L225.48 149.78L225.60 150.73L225.71 151.70L225.82 152.66L225.92 153.62L226.01 154.58L226.09 155.54L226.17 156.51L226.23 157.47L226.29 158.44L226.34 159.40L226.38 160.37L226.41 161.34L226.44 162.30L226.45 163.27L226.46 164.24L226.45 165.21L226.44 166.18L226.42 167.14L226.39 168.11L226.35 169.08L226.30 170.05L226.24 171.02L226.17 171.99L226.10 172.96L226.01 173.93L225.91 174.90L225.81 175.87L225.69 176.84L225.56 177.81L225.43 178.78L225.28 179.75L225.13 180.71L224.96 181.68L224.79 182.65L224.60 183.61L224.40 184.57L224.20 185.54L223.98 186.50L223.75 187.46L223.51 188.42L223.27 189.37L223.01 190.33L222.73 191.28L222.45 192.23L222.15 193.17L221.83 194.10L221.49 195.02L221.13 195.93L220.74 196.83L220.34 197.71L219.90 198.58L219.44 199.43L218.94 200.26L218.41 201.06L217.85 201.84L217.25 202.60L216.61 203.33L215.94 204.03L215.22 204.71L214.46 205.34L213.66 205.94L212.83 206.50L211.97 207.01L211.08 207.46L210.18 207.85L209.26 208.17L208.34 208.43L207.41 208.60L206.49 208.68L205.57 208.68L204.66 208.58L203.76 208.40L202.88 208.13L202.01 207.78L201.16 207.37L200.33 206.90L199.51 206.37L198.72 205.80L197.94 205.18L197.18 204.54L196.45 203.87L195.74 203.19L195.05 202.48L194.38 201.77L193.74 201.03L193.11 200.29L192.50 199.53L191.90 198.76L191.32 197.98L190.75 197.19L190.19 196.39L189.65 195.58L189.12 194.77L188.59 193.95L188.07 193.12L187.56 192.29L187.05 191.46L186.55 190.62L186.05 189.78L185.55 188.94L185.05 188.10L184.55 187.26L184.05 186.42L183.54 185.59L183.03 184.76L182.52 183.93L182.00 183.10L181.48 182.28L180.95 181.46L180.42 180.65L179.88 179.83L179.34 179.02L178.80 178.22L178.25 177.41L177.70 176.61L177.14 175.81L176.58 175.02L176.02 174.22L175.46 173.43L174.89 172.64L174.31 171.86L173.74 171.07L173.16 170.29L172.58 169.51L171.99 168.74L171.41 167.96L170.82 167.19L170.22 166.42L169.63 165.65L169.03 164.88L168.43 164.12L167.83 163.36L167.22 162.60L166.62 161.84L166.01 161.08L165.40 160.32L164.78 159.57L164.17 158.81L163.55 158.06L162.93 157.31L162.31 156.56L161.69 155.82L161.06 155.08L160.43 154.33L159.80 153.60L159.16 152.86L158.53 152.13L157.89 151.40L157.24 150.67L156.60 149.94L155.95 149.22L155.30 148.50L154.64 147.79L153.98 147.07L153.32 146.36L152.65 145.66L151.98 144.96L151.31 144.26L150.63 143.56L149.95 142.87L149.27 142.19L148.58 141.50L147.89 140.82L147.19 140.15L146.49 139.48L145.79 138.81L145.08 138.15L144.37 137.49L143.65 136.84L142.93 136.19L142.20 135.55L141.47 134.91L140.74 134.28L140.00 133.65L139.25 133.03L138.50 132.41L137.75 131.80L136.99 131.19L136.23 130.59L135.46 129.99L134.69 129.40L133.92 128.80L133.14 128.21L132.37 127.63L131.59 127.04L130.80 126.46L130.02 125.88L129.24 125.30L128.45 124.72L127.66 124.15L126.87 123.57L126.09 122.99L125.30 122.41L124.51 121.84L123.73 121.26L122.94 120.68L122.16 120.09L121.38 119.51L120.60 118.92L119.82 118.33L119.04 117.74L118.27 117.14L117.50 116.54L116.73 115.94L115.97 115.33L115.21 114.71L114.46 114.10L113.71 113.47L112.97 112.84L112.23 112.21L111.49 111.57L110.76 110.92L110.04 110.27L109.32 109.62L108.61 108.95L107.91 108.29L107.21 107.61L106.52 106.93L105.83 106.24L105.16 105.55L104.49 104.85L103.83 104.14L103.18 103.43L102.53 102.71L101.89 101.98L101.27 101.24L100.65 100.50L100.04 99.75L99.44 98.99L98.85 98.23L98.27 97.45L97.70 96.67L97.14 95.89L96.59 95.09L96.06 94.28L95.53 93.47L95.01 92.65L94.51 91.82L94.02 90.98L93.54 90.13L93.07 89.28L92.62 88.41L92.18 87.54L91.75 86.65L91.33 85.76L90.93 84.86L90.55 83.95L90.18 83.04L89.82 82.12L89.48 81.19L89.16 80.26L88.86 79.32L88.57 78.38L88.30 77.43L88.04 76.48L87.81 75.53L87.60 74.57L87.40 73.61L87.23 72.64L87.07 71.68L86.94 70.71L86.83 69.74L86.74 68.77L86.67 67.80L86.63 66.83L86.61 65.85L86.61 64.88L86.64 63.92L86.69 62.95L86.76 61.98L86.86 61.02L86.99 60.06L87.14 59.10L87.32 58.15L87.52 57.20L87.74 56.26L87.99 55.32L88.26 54.39L88.56 53.47L88.88 52.56L89.22 51.65L89.58 50.76L89.97 49.88L90.38 49.00L90.82 48.14L91.27 47.29L91.75 46.45L92.25 45.63L92.77 44.82L93.31 44.02L93.87 43.24L94.46 42.48L95.06 41.73L95.69 41.00L96.33 40.29L97.00 39.60L97.69 38.92L98.39 38.27L99.12 37.64L99.86 37.02L100.63 36.43L101.41 35.86L102.21 35.32L103.03 34.79L103.86 34.29L104.71 33.81L105.57 33.35L106.45 32.91L107.33 32.49L108.24 32.10L109.15 31.72L110.07 31.37L111.00 31.04L111.94 30.73L112.89 30.44L113.85 30.18L114.81 29.93L115.78 29.71L116.76 29.51L117.74 29.33L118.72 29.17L119.70 29.03L120.69 28.92L121.67 28.82L122.66 28.75L123.65 28.70L124.63 28.67L125.62 28.66Z" fill="none" stroke="#111" stroke-width="1.5"/>
<path d="M40.8 24.5H288.6V216.5" fill="none" stroke="#b4b4b4" stroke-width="1.1"/>
<path d="M47.00 216.5v-4M53.20 216.5v-4M59.40 216.5v-4M65.60 216.5v-4M71.80 216.5v-4M78.00 216.5v-4M84.20 216.5v-4M90.40 216.5v-8.5M96.60 216.5v-4M102.80 216.5v-4M109.00 216.5v-4M115.20 216.5v-4M121.40 216.5v-4M127.60 216.5v-4M133.80 216.5v-4M140.00 216.5v-4M146.20 216.5v-4M152.40 216.5v-8.5M158.60 216.5v-4M164.80 216.5v-4M171.00 216.5v-4M177.20 216.5v-4M183.40 216.5v-4M189.60 216.5v-4M195.80 216.5v-4M202.00 216.5v-4M208.20 216.5v-4M214.40 216.5v-8.5M220.60 216.5v-4M226.80 216.5v-4M233.00 216.5v-4M239.20 216.5v-4M245.40 216.5v-4M251.60 216.5v-4M257.80 216.5v-4M264.00 216.5v-4M270.20 216.5v-4M276.40 216.5v-8.5M282.60 216.5v-4M40.8 211.94h4.8M40.8 206.98h4.8M40.8 202.02h4.8M40.8 197.06h4.8M40.8 192.10h9M40.8 187.14h4.8M40.8 182.18h4.8M40.8 177.22h4.8M40.8 172.26h4.8M40.8 167.30h4.8M40.8 162.34h4.8M40.8 157.38h4.8M40.8 152.42h4.8M40.8 147.46h4.8M40.8 142.50h9M40.8 137.54h4.8M40.8 132.58h4.8M40.8 127.62h4.8M40.8 122.66h4.8M40.8 117.70h4.8M40.8 112.74h4.8M40.8 107.78h4.8M40.8 102.82h4.8M40.8 97.86h4.8M40.8 92.90h9M40.8 87.94h4.8M40.8 82.98h4.8M40.8 78.02h4.8M40.8 73.06h4.8M40.8 68.10h4.8M40.8 63.14h4.8M40.8 58.18h4.8M40.8 53.22h4.8M40.8 48.26h4.8M40.8 43.30h9M40.8 38.34h4.8M40.8 33.38h4.8M40.8 28.42h4.8" stroke="#333" stroke-width="1.1" fill="none"/>
<path d="M40.8 24.5V216.5" fill="none" stroke="#858585" stroke-width="1.6"/>
<path d="M40.0 216.5H288.6" fill="none" stroke="#404040" stroke-width="1.3"/>
<line x1="290.2" y1="24.50" x2="305.9" y2="24.50" stroke="#e81e2a" stroke-width="1.6"/>
<line x1="290.2" y1="34.61" x2="313.7" y2="34.61" stroke="#f25038" stroke-width="1.6"/>
<line x1="290.2" y1="44.72" x2="305.9" y2="44.72" stroke="#fa8a3c" stroke-width="1.6"/>
<line x1="290.2" y1="54.83" x2="313.7" y2="54.83" stroke="#fcb03c" stroke-width="1.6"/>
<line x1="290.2" y1="64.94" x2="305.9" y2="64.94" stroke="#fad428" stroke-width="1.6"/>
<line x1="290.2" y1="75.05" x2="313.7" y2="75.05" stroke="#eef018" stroke-width="1.6"/>
<line x1="290.2" y1="85.16" x2="305.9" y2="85.16" stroke="#c0f018" stroke-width="1.6"/>
<line x1="290.2" y1="95.27" x2="313.7" y2="95.27" stroke="#84f01a" stroke-width="1.6"/>
<line x1="290.2" y1="105.38" x2="305.9" y2="105.38" stroke="#50ee1e" stroke-width="1.6"/>
<line x1="290.2" y1="115.49" x2="313.7" y2="115.49" stroke="#28e824" stroke-width="1.6"/>
<line x1="290.2" y1="125.61" x2="305.9" y2="125.61" stroke="#24e844" stroke-width="1.6"/>
<line x1="290.2" y1="135.72" x2="313.7" y2="135.72" stroke="#22e868" stroke-width="1.6"/>
<line x1="290.2" y1="145.83" x2="305.9" y2="145.83" stroke="#20e890" stroke-width="1.6"/>
<line x1="290.2" y1="155.94" x2="313.7" y2="155.94" stroke="#1ee8b8" stroke-width="1.6"/>
<line x1="290.2" y1="166.05" x2="305.9" y2="166.05" stroke="#10e0f0" stroke-width="1.6"/>
<line x1="290.2" y1="176.16" x2="313.7" y2="176.16" stroke="#14c0f8" stroke-width="1.6"/>
<line x1="290.2" y1="186.27" x2="305.9" y2="186.27" stroke="#1890ff" stroke-width="1.6"/>
<line x1="290.2" y1="196.38" x2="313.7" y2="196.38" stroke="#1e64f8" stroke-width="1.6"/>
<line x1="290.2" y1="206.49" x2="305.9" y2="206.49" stroke="#2848f0" stroke-width="1.6"/>
<line x1="290.2" y1="216.60" x2="313.7" y2="216.60" stroke="#3c3ce8" stroke-width="1.6"/>
<text class="cb" x="321.5" y="39.61" font-size="14.4">2.7831</text>
<text class="cb" x="321.5" y="59.83" font-size="14.4">2.7259</text>
<text class="cb" x="321.5" y="80.05" font-size="14.4">2.6687</text>
<text class="cb" x="321.5" y="100.27" font-size="14.4">2.6115</text>
<text class="cb" x="321.5" y="120.49" font-size="14.4">2.5544</text>
<text class="cb" x="321.5" y="140.72" font-size="14.4">2.4972</text>
<text class="cb" x="321.5" y="160.94" font-size="14.4">2.4400</text>
<text class="cb" x="321.5" y="181.16" font-size="14.4">2.3828</text>
<text class="cb" x="321.5" y="201.38" font-size="14.4">2.3256</text>
<text class="cb" x="321.5" y="221.60" font-size="14.4">2.2684</text>
<text class="lt" x="37.5" y="47.60" font-size="14.4" text-anchor="end">0.8</text>
<text class="lt" x="37.5" y="97.20" font-size="14.4" text-anchor="end">0.4</text>
<text class="lt" x="37.5" y="146.80" font-size="14.4" text-anchor="end">0</text>
<text class="lt" x="37.5" y="196.40" font-size="14.4" text-anchor="end">-0.4</text>
<text class="lt" x="90.40" y="232.8" font-size="14.4" text-anchor="middle">5</text>
<text class="lt" x="152.40" y="232.8" font-size="14.4" text-anchor="middle">5.5</text>
<text class="lt" x="214.40" y="232.8" font-size="14.4" text-anchor="middle">6</text>
<text class="lt" x="276.40" y="232.8" font-size="14.4" text-anchor="middle">6.5</text>
<text x="164.9" y="246.1" font-size="14.4" text-anchor="middle">R</text>
<text class="lt" x="-0.7" y="121" font-size="14.4">Z</text>
<path d="M136.2 0V16.7" stroke="#000" stroke-width="1.2"/><ellipse cx="135.9" cy="9.15" rx="3.5" ry="3.75" fill="none" stroke="#000" stroke-width="1.05"/><text class="lt" x="141.1" y="13.1" font-size="14">=232.38</text><ellipse cx="196.05" cy="3.4" rx="2.85" ry="3.2" fill="none" stroke="#000" stroke-width="1.2"/>
</g>
<g transform="translate(0,261.7)">
<line x1="90.40" y1="24.5" x2="90.40" y2="216.5" stroke="#c4f5c4" stroke-width="1"/>
<line x1="152.40" y1="24.5" x2="152.40" y2="216.5" stroke="#c4f5c4" stroke-width="1"/>
<line x1="214.40" y1="24.5" x2="214.40" y2="216.5" stroke="#c4f5c4" stroke-width="1"/>
<line x1="276.40" y1="24.5" x2="276.40" y2="216.5" stroke="#c4f5c4" stroke-width="1"/>
<line x1="40.8" y1="43.30" x2="288.6" y2="43.30" stroke="#c4f5c4" stroke-width="1"/>
<line x1="40.8" y1="92.90" x2="288.6" y2="92.90" stroke="#c4f5c4" stroke-width="1"/>
<line x1="40.8" y1="142.50" x2="288.6" y2="142.50" stroke="#c4f5c4" stroke-width="1"/>
<line x1="40.8" y1="192.10" x2="288.6" y2="192.10" stroke="#c4f5c4" stroke-width="1"/>
<path d="M170.58 92.69L170.68 92.69L170.77 92.70L170.87 92.70L170.97 92.71L171.06 92.72L171.16 92.74L171.25 92.75L171.35 92.77L171.44 92.79L171.54 92.81L171.63 92.83L171.72 92.86L171.82 92.88L171.91 92.91L172.00 92.94L172.09 92.97L172.18 93.01L172.27 93.04L172.36 93.08L172.45 93.11L172.54 93.15L172.63 93.19L172.71 93.23L172.80 93.28L172.89 93.32L172.97 93.37L173.06 93.41L173.14 93.46L173.22 93.51L173.31 93.56L173.39 93.61L173.47 93.67L173.55 93.72L173.63 93.78L173.71 93.83L173.79 93.89L173.87 93.95L173.95 94.00L174.03 94.06L174.10 94.12L174.18 94.19L174.25 94.25L174.33 94.31L174.40 94.37L174.48 94.44L174.55 94.50L174.62 94.56L174.69 94.63L174.77 94.70L174.84 94.76L174.91 94.83L174.98 94.89L175.05 94.96L175.12 95.03L175.19 95.09L175.27 95.16L175.34 95.23L175.41 95.29L175.48 95.36L175.55 95.43L175.62 95.49L175.69 95.56L175.76 95.63L175.83 95.69L175.90 95.76L175.97 95.83L176.04 95.90L176.11 95.96L176.18 96.03L176.25 96.10L176.32 96.17L176.38 96.24L176.45 96.31L176.52 96.38L176.58 96.45L176.65 96.53L176.71 96.60L176.77 96.67L176.84 96.75L176.90 96.82L176.96 96.89L177.02 96.97L177.09 97.04L177.15 97.12L177.21 97.19L177.27 97.27L177.32 97.35L177.38 97.42L177.44 97.50L177.50 97.58L177.55 97.66L177.61 97.74L177.67 97.82L177.72 97.90L177.78 97.98L177.83 98.06L177.88 98.14L177.94 98.22L177.99 98.30L178.04 98.38L178.10 98.46L178.15 98.54L178.20 98.63L178.25 98.71L178.30 98.79L178.35 98.88L178.40 98.96L178.44 99.05L178.49 99.13L178.54 99.22L178.59 99.30L178.63 99.39L178.68 99.47L178.72 99.56L178.77 99.64L178.81 99.73L178.86 99.82L178.90 99.90L178.94 99.99L178.99 100.08L179.03 100.17L179.07 100.26L179.11 100.34L179.15 100.43L179.19 100.52L179.23 100.61L179.27 100.70L179.31 100.79L179.35 100.88L179.39 100.97L179.43 101.06L179.46 101.15L179.50 101.24L179.54 101.33L179.57 101.42L179.61 101.51L179.64 101.60L179.68 101.70L179.71 101.79L179.74 101.88L179.78 101.97L179.81 102.06L179.84 102.16L179.87 102.25L179.90 102.34L179.93 102.43L179.96 102.53L179.99 102.62L180.02 102.71L180.04 102.81L180.07 102.90L180.10 102.99L180.12 103.09L180.15 103.18L180.17 103.28L180.20 103.37L180.22 103.46L180.24 103.56L180.26 103.65L180.28 103.75L180.30 103.84L180.32 103.94L180.34 104.03L180.36 104.13L180.38 104.22L180.40 104.32L180.41 104.41L180.43 104.51L180.44 104.61L180.45 104.70L180.47 104.80L180.48 104.89L180.49 104.99L180.50 105.09L180.51 105.18L180.52 105.28L180.53 105.37L180.54 105.47L180.54 105.57L180.55 105.66L180.55 105.76L180.56 105.86L180.56 105.95L180.56 106.05L180.56 106.15L180.57 106.24L180.57 106.34L180.56 106.44L180.56 106.53L180.56 106.63L180.55 106.73L180.55 106.83L180.54 106.92L180.54 107.02L180.53 107.12L180.52 107.21L180.51 107.31L180.50 107.41L180.49 107.50L180.48 107.60L180.46 107.70L180.45 107.79L180.43 107.89L180.42 107.99L180.40 108.08L180.38 108.18L180.36 108.28L180.34 108.37L180.32 108.47L180.30 108.57L180.27 108.66L180.25 108.76L180.22 108.85L180.19 108.95L180.16 109.04L180.13 109.14L180.10 109.23L180.07 109.32L180.03 109.41L179.99 109.50L179.95 109.59L179.91 109.68L179.86 109.76L179.81 109.85L179.76 109.93L179.70 110.00L179.65 110.08L179.58 110.15L179.51 110.22L179.44 110.29L179.37 110.35L179.29 110.41L179.20 110.47L179.12 110.52L179.03 110.57L178.94 110.61L178.85 110.64L178.75 110.66L178.66 110.68L178.57 110.69L178.48 110.69L178.39 110.68L178.30 110.66L178.21 110.63L178.12 110.60L178.04 110.56L177.95 110.51L177.87 110.46L177.79 110.40L177.71 110.34L177.64 110.27L177.57 110.21L177.49 110.14L177.43 110.07L177.36 110.00L177.29 109.92L177.23 109.85L177.17 109.77L177.11 109.70L177.05 109.62L177.00 109.54L176.94 109.46L176.89 109.38L176.83 109.30L176.78 109.21L176.73 109.13L176.68 109.05L176.63 108.97L176.58 108.88L176.52 108.80L176.48 108.71L176.43 108.63L176.38 108.55L176.32 108.46L176.27 108.38L176.22 108.30L176.17 108.21L176.12 108.13L176.07 108.05L176.01 107.97L175.96 107.88L175.91 107.80L175.85 107.72L175.80 107.64L175.74 107.56L175.69 107.48L175.63 107.40L175.58 107.32L175.52 107.24L175.47 107.16L175.41 107.08L175.35 107.01L175.29 106.93L175.24 106.85L175.18 106.77L175.12 106.69L175.06 106.62L175.00 106.54L174.94 106.46L174.88 106.39L174.82 106.31L174.76 106.23L174.70 106.16L174.64 106.08L174.58 106.00L174.52 105.93L174.46 105.85L174.40 105.78L174.34 105.70L174.28 105.63L174.21 105.55L174.15 105.48L174.09 105.40L174.03 105.33L173.96 105.25L173.90 105.18L173.84 105.11L173.77 105.03L173.71 104.96L173.64 104.89L173.58 104.81L173.51 104.74L173.45 104.67L173.38 104.60L173.32 104.53L173.25 104.46L173.19 104.39L173.12 104.32L173.05 104.25L172.98 104.18L172.92 104.11L172.85 104.04L172.78 103.97L172.71 103.90L172.64 103.83L172.57 103.77L172.50 103.70L172.43 103.63L172.36 103.57L172.29 103.50L172.21 103.44L172.14 103.38L172.07 103.31L171.99 103.25L171.92 103.19L171.85 103.12L171.77 103.06L171.70 103.00L171.62 102.94L171.54 102.88L171.47 102.82L171.39 102.76L171.31 102.70L171.23 102.64L171.16 102.58L171.08 102.52L171.00 102.47L170.92 102.41L170.84 102.35L170.76 102.29L170.69 102.23L170.61 102.18L170.53 102.12L170.45 102.06L170.37 102.00L170.29 101.95L170.21 101.89L170.14 101.83L170.06 101.77L169.98 101.71L169.90 101.65L169.82 101.59L169.75 101.53L169.67 101.47L169.59 101.41L169.52 101.35L169.44 101.29L169.37 101.23L169.29 101.17L169.22 101.10L169.14 101.04L169.07 100.98L169.00 100.91L168.92 100.85L168.85 100.78L168.78 100.72L168.71 100.65L168.64 100.58L168.57 100.51L168.50 100.44L168.44 100.37L168.37 100.30L168.30 100.23L168.24 100.16L168.17 100.09L168.11 100.02L168.05 99.94L167.98 99.87L167.92 99.79L167.86 99.72L167.81 99.64L167.75 99.57L167.69 99.49L167.63 99.41L167.58 99.33L167.53 99.25L167.47 99.17L167.42 99.08L167.37 99.00L167.32 98.92L167.27 98.83L167.23 98.75L167.18 98.66L167.14 98.57L167.09 98.49L167.05 98.40L167.01 98.31L166.97 98.22L166.94 98.12L166.90 98.03L166.87 97.94L166.84 97.85L166.81 97.75L166.78 97.66L166.75 97.56L166.72 97.47L166.70 97.37L166.68 97.28L166.66 97.18L166.64 97.08L166.63 96.99L166.61 96.89L166.60 96.79L166.59 96.70L166.59 96.60L166.58 96.50L166.58 96.41L166.58 96.31L166.58 96.21L166.59 96.11L166.60 96.02L166.61 95.92L166.62 95.83L166.63 95.73L166.65 95.63L166.67 95.54L166.69 95.45L166.72 95.35L166.75 95.26L166.78 95.17L166.81 95.08L166.84 94.99L166.88 94.90L166.92 94.81L166.96 94.72L167.00 94.63L167.05 94.55L167.09 94.47L167.14 94.38L167.20 94.30L167.25 94.22L167.31 94.14L167.37 94.07L167.43 93.99L167.49 93.92L167.55 93.85L167.62 93.78L167.69 93.71L167.76 93.65L167.83 93.58L167.91 93.52L167.98 93.46L168.06 93.41L168.14 93.35L168.22 93.30L168.31 93.25L168.39 93.20L168.48 93.15L168.56 93.11L168.65 93.07L168.74 93.03L168.83 92.99L168.93 92.96L169.02 92.92L169.11 92.89L169.21 92.86L169.31 92.84L169.40 92.81L169.50 92.79L169.60 92.77L169.69 92.75L169.79 92.74L169.89 92.72L169.99 92.71L170.09 92.70L170.19 92.70L170.28 92.69L170.38 92.69L170.48 92.69Z" fill="none" stroke="#c6c6c6" stroke-width="1"/>
<path d="M166.50 85.41L166.69 85.42L166.89 85.43L167.08 85.45L167.28 85.47L167.47 85.49L167.66 85.52L167.85 85.55L168.04 85.58L168.23 85.62L168.42 85.66L168.60 85.71L168.79 85.76L168.97 85.81L169.16 85.86L169.34 85.92L169.52 85.99L169.70 86.05L169.88 86.12L170.06 86.19L170.24 86.27L170.42 86.35L170.59 86.43L170.77 86.51L170.94 86.60L171.11 86.68L171.28 86.78L171.45 86.87L171.62 86.97L171.79 87.06L171.95 87.17L172.12 87.27L172.28 87.37L172.44 87.48L172.61 87.59L172.77 87.70L172.92 87.82L173.08 87.93L173.24 88.05L173.39 88.17L173.54 88.29L173.69 88.41L173.84 88.53L173.99 88.66L174.14 88.78L174.29 88.91L174.44 89.04L174.58 89.17L174.73 89.30L174.87 89.43L175.02 89.56L175.16 89.69L175.30 89.83L175.44 89.96L175.59 90.09L175.73 90.23L175.87 90.36L176.01 90.50L176.15 90.63L176.30 90.76L176.44 90.90L176.58 91.03L176.72 91.16L176.86 91.30L177.01 91.43L177.15 91.56L177.29 91.70L177.43 91.83L177.57 91.97L177.70 92.11L177.84 92.24L177.97 92.38L178.11 92.52L178.24 92.66L178.37 92.81L178.50 92.95L178.63 93.09L178.76 93.24L178.89 93.38L179.02 93.53L179.14 93.68L179.27 93.83L179.39 93.98L179.51 94.13L179.63 94.28L179.75 94.43L179.87 94.58L179.99 94.74L180.11 94.89L180.22 95.04L180.34 95.20L180.45 95.36L180.56 95.51L180.67 95.67L180.78 95.83L180.89 95.99L181.00 96.15L181.11 96.31L181.22 96.48L181.32 96.64L181.43 96.80L181.53 96.97L181.63 97.13L181.73 97.30L181.83 97.46L181.93 97.63L182.03 97.79L182.13 97.96L182.23 98.13L182.32 98.30L182.42 98.47L182.51 98.64L182.60 98.81L182.70 98.98L182.79 99.16L182.88 99.33L182.97 99.50L183.05 99.67L183.14 99.85L183.23 100.02L183.31 100.20L183.40 100.37L183.48 100.55L183.56 100.73L183.64 100.90L183.73 101.08L183.81 101.26L183.88 101.44L183.96 101.62L184.04 101.80L184.12 101.98L184.19 102.16L184.27 102.34L184.34 102.52L184.41 102.70L184.48 102.88L184.55 103.06L184.62 103.25L184.69 103.43L184.76 103.61L184.83 103.80L184.89 103.98L184.95 104.17L185.02 104.35L185.08 104.54L185.14 104.72L185.20 104.91L185.26 105.09L185.32 105.28L185.37 105.47L185.43 105.65L185.48 105.84L185.53 106.03L185.59 106.21L185.64 106.40L185.68 106.59L185.73 106.78L185.78 106.97L185.82 107.16L185.87 107.35L185.91 107.54L185.95 107.73L185.99 107.92L186.03 108.11L186.06 108.30L186.10 108.49L186.13 108.68L186.16 108.87L186.19 109.06L186.22 109.25L186.25 109.44L186.28 109.64L186.30 109.83L186.32 110.02L186.34 110.21L186.36 110.40L186.38 110.60L186.40 110.79L186.41 110.98L186.43 111.17L186.44 111.37L186.45 111.56L186.46 111.75L186.46 111.95L186.47 112.14L186.47 112.33L186.47 112.53L186.47 112.72L186.47 112.92L186.46 113.11L186.46 113.30L186.45 113.50L186.44 113.69L186.43 113.88L186.41 114.08L186.40 114.27L186.38 114.47L186.36 114.66L186.34 114.85L186.32 115.05L186.29 115.24L186.27 115.44L186.24 115.63L186.21 115.82L186.17 116.02L186.14 116.21L186.10 116.40L186.06 116.59L186.02 116.79L185.98 116.98L185.93 117.17L185.88 117.36L185.83 117.55L185.78 117.75L185.73 117.94L185.67 118.13L185.61 118.31L185.55 118.50L185.48 118.68L185.41 118.87L185.33 119.05L185.25 119.22L185.16 119.40L185.07 119.57L184.97 119.73L184.86 119.89L184.75 120.05L184.63 120.20L184.50 120.35L184.37 120.49L184.22 120.62L184.07 120.75L183.91 120.87L183.75 120.98L183.57 121.08L183.40 121.17L183.22 121.25L183.03 121.31L182.85 121.37L182.66 121.40L182.48 121.42L182.29 121.42L182.11 121.40L181.93 121.36L181.76 121.31L181.58 121.24L181.41 121.15L181.25 121.06L181.08 120.95L180.92 120.84L180.77 120.72L180.62 120.59L180.47 120.45L180.33 120.32L180.19 120.18L180.06 120.03L179.93 119.89L179.80 119.74L179.68 119.59L179.56 119.43L179.44 119.28L179.33 119.12L179.22 118.96L179.11 118.80L179.00 118.63L178.90 118.47L178.79 118.30L178.69 118.14L178.59 117.97L178.49 117.80L178.39 117.64L178.29 117.47L178.19 117.30L178.09 117.13L177.99 116.96L177.89 116.80L177.79 116.63L177.68 116.47L177.58 116.30L177.48 116.14L177.37 115.97L177.26 115.81L177.16 115.65L177.05 115.48L176.94 115.32L176.83 115.16L176.72 115.00L176.61 114.84L176.50 114.68L176.38 114.52L176.27 114.37L176.16 114.21L176.04 114.05L175.93 113.89L175.81 113.74L175.70 113.58L175.58 113.43L175.46 113.27L175.34 113.12L175.22 112.96L175.11 112.81L174.99 112.66L174.87 112.50L174.75 112.35L174.62 112.20L174.50 112.05L174.38 111.90L174.26 111.74L174.14 111.59L174.01 111.44L173.89 111.29L173.77 111.14L173.64 110.99L173.52 110.84L173.39 110.70L173.27 110.55L173.14 110.40L173.01 110.25L172.89 110.11L172.76 109.96L172.63 109.81L172.50 109.67L172.37 109.52L172.24 109.38L172.11 109.24L171.98 109.09L171.84 108.95L171.71 108.81L171.58 108.67L171.44 108.53L171.31 108.39L171.17 108.25L171.03 108.12L170.90 107.98L170.76 107.84L170.62 107.71L170.48 107.58L170.34 107.44L170.20 107.31L170.05 107.18L169.91 107.05L169.77 106.92L169.62 106.79L169.47 106.66L169.33 106.54L169.18 106.41L169.03 106.29L168.88 106.16L168.73 106.04L168.58 105.92L168.43 105.80L168.27 105.68L168.12 105.56L167.96 105.44L167.81 105.32L167.65 105.21L167.50 105.09L167.34 104.97L167.18 104.86L167.03 104.74L166.87 104.62L166.71 104.51L166.55 104.39L166.40 104.28L166.24 104.16L166.08 104.05L165.93 103.93L165.77 103.82L165.61 103.70L165.46 103.58L165.30 103.46L165.14 103.35L164.99 103.23L164.83 103.11L164.68 102.99L164.53 102.87L164.37 102.75L164.22 102.62L164.07 102.50L163.92 102.37L163.77 102.25L163.63 102.12L163.48 101.99L163.33 101.86L163.19 101.73L163.04 101.60L162.90 101.47L162.76 101.34L162.62 101.20L162.48 101.07L162.35 100.93L162.21 100.79L162.08 100.65L161.95 100.51L161.82 100.37L161.69 100.22L161.56 100.08L161.43 99.93L161.31 99.78L161.19 99.63L161.07 99.48L160.95 99.33L160.83 99.17L160.72 99.01L160.61 98.86L160.50 98.70L160.39 98.54L160.29 98.37L160.18 98.21L160.08 98.04L159.98 97.88L159.89 97.71L159.79 97.54L159.70 97.36L159.62 97.19L159.53 97.01L159.45 96.83L159.37 96.65L159.29 96.47L159.22 96.29L159.14 96.10L159.08 95.92L159.01 95.73L158.95 95.54L158.89 95.36L158.84 95.17L158.79 94.98L158.74 94.79L158.70 94.59L158.66 94.40L158.63 94.21L158.59 94.02L158.57 93.82L158.55 93.63L158.53 93.43L158.51 93.24L158.51 93.05L158.50 92.85L158.50 92.66L158.51 92.46L158.52 92.27L158.53 92.08L158.55 91.88L158.58 91.69L158.61 91.50L158.64 91.31L158.68 91.12L158.73 90.93L158.78 90.74L158.83 90.56L158.89 90.37L158.96 90.19L159.02 90.01L159.10 89.83L159.17 89.66L159.26 89.48L159.34 89.31L159.43 89.14L159.53 88.97L159.63 88.81L159.73 88.64L159.84 88.48L159.95 88.33L160.07 88.18L160.19 88.03L160.32 87.88L160.45 87.74L160.58 87.60L160.72 87.46L160.86 87.33L161.00 87.21L161.15 87.08L161.31 86.97L161.46 86.85L161.62 86.74L161.79 86.64L161.95 86.54L162.12 86.44L162.29 86.35L162.47 86.26L162.65 86.18L162.83 86.10L163.01 86.02L163.19 85.95L163.38 85.89L163.57 85.83L163.76 85.77L163.95 85.72L164.14 85.67L164.34 85.62L164.53 85.58L164.73 85.55L164.92 85.51L165.12 85.49L165.32 85.46L165.51 85.44L165.71 85.43L165.91 85.42L166.11 85.41L166.30 85.41Z" fill="none" stroke="#c6c6c6" stroke-width="1"/>
<path d="M162.26 78.18L162.55 78.19L162.84 78.21L163.13 78.23L163.42 78.26L163.71 78.29L164.00 78.33L164.28 78.38L164.57 78.43L164.85 78.49L165.13 78.55L165.41 78.62L165.69 78.69L165.97 78.77L166.25 78.86L166.52 78.95L166.79 79.04L167.06 79.14L167.33 79.24L167.60 79.35L167.87 79.46L168.13 79.58L168.40 79.70L168.66 79.82L168.92 79.95L169.18 80.09L169.43 80.22L169.69 80.36L169.94 80.51L170.19 80.66L170.44 80.81L170.69 80.96L170.93 81.12L171.18 81.28L171.42 81.45L171.66 81.61L171.90 81.78L172.13 81.96L172.36 82.13L172.60 82.31L172.82 82.49L173.05 82.68L173.28 82.86L173.50 83.05L173.72 83.24L173.95 83.43L174.16 83.62L174.38 83.81L174.60 84.01L174.82 84.21L175.03 84.40L175.25 84.60L175.46 84.80L175.68 85.00L175.89 85.20L176.10 85.40L176.32 85.60L176.53 85.80L176.74 86.00L176.95 86.20L177.17 86.40L177.38 86.60L177.59 86.80L177.81 87.00L178.02 87.20L178.23 87.40L178.44 87.61L178.65 87.81L178.86 88.01L179.07 88.22L179.27 88.43L179.47 88.64L179.67 88.85L179.87 89.06L180.07 89.27L180.27 89.48L180.46 89.70L180.65 89.92L180.84 90.14L181.03 90.36L181.22 90.58L181.41 90.80L181.59 91.02L181.78 91.25L181.96 91.48L182.14 91.70L182.32 91.93L182.49 92.16L182.67 92.39L182.84 92.63L183.01 92.86L183.18 93.10L183.35 93.33L183.52 93.57L183.69 93.81L183.85 94.05L184.01 94.29L184.17 94.53L184.33 94.77L184.49 95.02L184.65 95.26L184.81 95.51L184.96 95.75L185.11 96.00L185.26 96.25L185.41 96.50L185.56 96.75L185.71 97.00L185.85 97.26L185.99 97.51L186.14 97.77L186.28 98.02L186.42 98.28L186.55 98.53L186.69 98.79L186.83 99.05L186.96 99.31L187.09 99.57L187.22 99.83L187.35 100.10L187.48 100.36L187.61 100.62L187.73 100.89L187.85 101.15L187.98 101.42L188.10 101.68L188.22 101.95L188.34 102.22L188.45 102.49L188.57 102.76L188.68 103.03L188.80 103.30L188.91 103.57L189.02 103.84L189.13 104.11L189.23 104.38L189.34 104.66L189.44 104.93L189.55 105.21L189.65 105.48L189.75 105.76L189.85 106.03L189.94 106.31L190.04 106.59L190.13 106.86L190.22 107.14L190.31 107.42L190.40 107.70L190.48 107.98L190.57 108.26L190.65 108.54L190.73 108.82L190.81 109.10L190.89 109.38L190.96 109.66L191.04 109.95L191.11 110.23L191.18 110.51L191.24 110.80L191.31 111.08L191.37 111.36L191.43 111.65L191.49 111.93L191.55 112.22L191.60 112.50L191.66 112.79L191.71 113.08L191.75 113.36L191.80 113.65L191.84 113.94L191.88 114.22L191.92 114.51L191.96 114.80L191.99 115.09L192.03 115.38L192.06 115.67L192.08 115.95L192.11 116.24L192.13 116.53L192.15 116.82L192.17 117.11L192.18 117.40L192.19 117.69L192.20 117.98L192.21 118.27L192.21 118.56L192.22 118.85L192.22 119.14L192.21 119.43L192.21 119.72L192.20 120.01L192.18 120.31L192.17 120.60L192.15 120.89L192.13 121.18L192.11 121.47L192.08 121.76L192.05 122.05L192.02 122.34L191.99 122.63L191.95 122.92L191.91 123.21L191.86 123.50L191.82 123.79L191.77 124.08L191.72 124.37L191.66 124.66L191.60 124.95L191.54 125.24L191.47 125.53L191.41 125.82L191.33 126.10L191.26 126.39L191.18 126.68L191.10 126.96L191.01 127.25L190.92 127.53L190.83 127.81L190.73 128.09L190.62 128.36L190.50 128.63L190.38 128.89L190.25 129.15L190.11 129.41L189.96 129.66L189.80 129.90L189.63 130.13L189.46 130.36L189.26 130.58L189.06 130.79L188.85 130.99L188.62 131.18L188.38 131.36L188.13 131.53L187.87 131.68L187.60 131.82L187.33 131.94L187.06 132.03L186.78 132.11L186.50 132.16L186.23 132.19L185.95 132.18L185.68 132.16L185.41 132.10L185.14 132.02L184.88 131.91L184.63 131.79L184.38 131.65L184.13 131.49L183.89 131.32L183.66 131.13L183.44 130.94L183.22 130.74L183.00 130.54L182.80 130.32L182.60 130.11L182.40 129.89L182.21 129.67L182.03 129.44L181.85 129.21L181.68 128.97L181.51 128.74L181.34 128.50L181.18 128.26L181.01 128.01L180.86 127.76L180.70 127.52L180.55 127.27L180.40 127.02L180.25 126.77L180.09 126.51L179.95 126.26L179.80 126.01L179.65 125.76L179.49 125.51L179.34 125.26L179.19 125.01L179.04 124.76L178.88 124.51L178.72 124.26L178.56 124.02L178.41 123.77L178.24 123.53L178.08 123.29L177.92 123.04L177.75 122.80L177.59 122.56L177.42 122.32L177.26 122.08L177.09 121.85L176.92 121.61L176.75 121.37L176.57 121.14L176.40 120.90L176.23 120.67L176.05 120.43L175.88 120.20L175.70 119.97L175.52 119.74L175.35 119.51L175.17 119.28L174.99 119.05L174.81 118.82L174.63 118.59L174.45 118.36L174.27 118.13L174.08 117.90L173.90 117.68L173.72 117.45L173.53 117.22L173.35 117.00L173.16 116.77L172.97 116.55L172.79 116.33L172.60 116.10L172.41 115.88L172.22 115.66L172.03 115.44L171.84 115.22L171.65 115.00L171.45 114.78L171.26 114.56L171.06 114.35L170.87 114.13L170.67 113.92L170.47 113.70L170.28 113.49L170.08 113.28L169.88 113.07L169.67 112.86L169.47 112.65L169.27 112.44L169.06 112.24L168.85 112.03L168.65 111.83L168.44 111.62L168.23 111.42L168.02 111.22L167.80 111.02L167.59 110.83L167.38 110.63L167.16 110.44L166.94 110.25L166.72 110.05L166.50 109.86L166.28 109.68L166.06 109.49L165.83 109.30L165.61 109.12L165.38 108.94L165.15 108.76L164.92 108.58L164.69 108.40L164.46 108.22L164.22 108.04L163.99 107.87L163.76 107.69L163.52 107.52L163.29 107.34L163.05 107.17L162.81 107.00L162.58 106.82L162.34 106.65L162.11 106.48L161.87 106.30L161.63 106.13L161.40 105.96L161.16 105.78L160.93 105.61L160.69 105.43L160.46 105.26L160.23 105.08L159.99 104.90L159.76 104.72L159.53 104.54L159.30 104.36L159.07 104.18L158.84 103.99L158.62 103.81L158.39 103.62L158.17 103.43L157.95 103.24L157.73 103.05L157.51 102.86L157.29 102.66L157.08 102.47L156.86 102.27L156.65 102.07L156.44 101.86L156.24 101.66L156.03 101.45L155.83 101.24L155.63 101.03L155.43 100.82L155.23 100.61L155.04 100.39L154.85 100.17L154.66 99.95L154.47 99.73L154.29 99.50L154.11 99.28L153.94 99.05L153.76 98.82L153.59 98.58L153.42 98.35L153.26 98.11L153.10 97.87L152.94 97.62L152.78 97.37L152.63 97.13L152.49 96.87L152.34 96.62L152.20 96.36L152.07 96.10L151.93 95.84L151.80 95.58L151.68 95.31L151.56 95.04L151.44 94.77L151.33 94.49L151.23 94.22L151.13 93.94L151.03 93.66L150.94 93.38L150.85 93.09L150.77 92.81L150.69 92.52L150.62 92.24L150.56 91.95L150.50 91.66L150.45 91.37L150.40 91.08L150.36 90.79L150.33 90.50L150.30 90.21L150.28 89.92L150.27 89.63L150.26 89.34L150.26 89.05L150.27 88.75L150.29 88.46L150.31 88.17L150.34 87.89L150.38 87.60L150.42 87.31L150.48 87.02L150.54 86.74L150.60 86.46L150.68 86.18L150.76 85.90L150.85 85.62L150.94 85.35L151.05 85.08L151.16 84.81L151.27 84.54L151.39 84.28L151.52 84.02L151.66 83.77L151.80 83.52L151.95 83.27L152.11 83.03L152.27 82.79L152.44 82.55L152.62 82.32L152.80 82.10L152.99 81.88L153.18 81.67L153.38 81.46L153.59 81.26L153.80 81.06L154.02 80.87L154.24 80.69L154.47 80.51L154.70 80.34L154.94 80.18L155.19 80.02L155.44 79.87L155.69 79.72L155.95 79.58L156.21 79.45L156.48 79.33L156.75 79.21L157.02 79.10L157.30 78.99L157.58 78.89L157.86 78.80L158.15 78.71L158.44 78.63L158.72 78.56L159.02 78.49L159.31 78.43L159.60 78.38L159.90 78.33L160.19 78.29L160.49 78.26L160.78 78.23L161.08 78.21L161.37 78.19L161.67 78.18L161.96 78.18Z" fill="none" stroke="#c6c6c6" stroke-width="1"/>
<path d="M157.86 70.99L158.25 71.00L158.64 71.02L159.03 71.05L159.41 71.09L159.80 71.14L160.18 71.19L160.56 71.25L160.94 71.32L161.32 71.40L161.69 71.48L162.06 71.57L162.44 71.67L162.81 71.78L163.17 71.89L163.54 72.01L163.90 72.13L164.27 72.26L164.63 72.40L164.98 72.55L165.34 72.70L165.69 72.85L166.04 73.01L166.39 73.18L166.74 73.35L167.08 73.53L167.42 73.71L167.76 73.90L168.10 74.09L168.44 74.29L168.77 74.49L169.10 74.70L169.43 74.91L169.75 75.12L170.07 75.34L170.39 75.57L170.71 75.79L171.02 76.02L171.33 76.26L171.64 76.50L171.95 76.74L172.25 76.98L172.55 77.23L172.85 77.48L173.15 77.73L173.44 77.98L173.73 78.24L174.02 78.50L174.31 78.76L174.60 79.02L174.89 79.29L175.18 79.55L175.46 79.82L175.75 80.08L176.03 80.35L176.32 80.62L176.60 80.88L176.88 81.15L177.17 81.42L177.45 81.69L177.74 81.95L178.02 82.22L178.31 82.49L178.59 82.75L178.87 83.02L179.16 83.29L179.44 83.55L179.72 83.83L179.99 84.10L180.27 84.37L180.54 84.65L180.81 84.93L181.08 85.21L181.34 85.49L181.61 85.77L181.87 86.06L182.13 86.35L182.38 86.64L182.64 86.93L182.89 87.22L183.14 87.52L183.39 87.81L183.64 88.11L183.88 88.41L184.12 88.71L184.36 89.02L184.60 89.32L184.84 89.63L185.07 89.94L185.30 90.25L185.53 90.56L185.76 90.87L185.98 91.19L186.21 91.51L186.43 91.82L186.65 92.14L186.86 92.46L187.08 92.79L187.29 93.11L187.50 93.44L187.71 93.76L187.92 94.09L188.13 94.42L188.33 94.75L188.53 95.08L188.73 95.42L188.93 95.75L189.12 96.09L189.31 96.42L189.51 96.76L189.70 97.10L189.88 97.44L190.07 97.78L190.25 98.13L190.43 98.47L190.61 98.82L190.79 99.16L190.97 99.51L191.14 99.86L191.31 100.21L191.49 100.56L191.65 100.91L191.82 101.26L191.99 101.62L192.15 101.97L192.31 102.33L192.47 102.68L192.63 103.04L192.78 103.40L192.94 103.76L193.09 104.11L193.24 104.48L193.39 104.84L193.54 105.20L193.68 105.56L193.83 105.93L193.97 106.29L194.11 106.65L194.24 107.02L194.38 107.39L194.51 107.75L194.64 108.12L194.77 108.49L194.90 108.86L195.02 109.23L195.14 109.60L195.26 109.97L195.38 110.34L195.49 110.72L195.61 111.09L195.72 111.46L195.82 111.84L195.93 112.21L196.03 112.59L196.13 112.97L196.23 113.34L196.32 113.72L196.42 114.10L196.50 114.47L196.59 114.85L196.68 115.23L196.76 115.61L196.84 115.99L196.91 116.37L196.98 116.75L197.05 117.13L197.12 117.52L197.18 117.90L197.25 118.28L197.30 118.66L197.36 119.05L197.41 119.43L197.46 119.81L197.51 120.20L197.55 120.58L197.59 120.97L197.62 121.35L197.66 121.74L197.69 122.12L197.71 122.51L197.74 122.90L197.76 123.28L197.77 123.67L197.78 124.05L197.79 124.44L197.80 124.83L197.80 125.22L197.80 125.60L197.80 125.99L197.79 126.38L197.78 126.77L197.76 127.15L197.74 127.54L197.72 127.93L197.69 128.32L197.66 128.71L197.62 129.09L197.58 129.48L197.54 129.87L197.50 130.26L197.45 130.64L197.39 131.03L197.33 131.42L197.27 131.81L197.20 132.19L197.13 132.58L197.06 132.96L196.98 133.35L196.90 133.73L196.81 134.12L196.72 134.50L196.63 134.89L196.53 135.27L196.42 135.65L196.31 136.03L196.20 136.41L196.08 136.79L195.95 137.16L195.82 137.53L195.67 137.89L195.52 138.25L195.35 138.61L195.18 138.95L194.99 139.29L194.80 139.62L194.58 139.94L194.36 140.26L194.12 140.56L193.87 140.85L193.60 141.13L193.31 141.40L193.00 141.66L192.68 141.90L192.35 142.12L192.01 142.32L191.65 142.50L191.29 142.66L190.93 142.79L190.56 142.89L190.18 142.96L189.81 142.99L189.45 142.99L189.08 142.95L188.72 142.88L188.37 142.77L188.03 142.63L187.68 142.47L187.35 142.28L187.02 142.07L186.71 141.84L186.40 141.59L186.09 141.34L185.80 141.07L185.52 140.79L185.24 140.51L184.97 140.23L184.71 139.93L184.46 139.64L184.22 139.33L183.98 139.02L183.75 138.71L183.52 138.40L183.30 138.08L183.08 137.75L182.87 137.43L182.66 137.10L182.45 136.77L182.24 136.44L182.04 136.10L181.84 135.77L181.64 135.43L181.44 135.10L181.24 134.76L181.04 134.42L180.84 134.09L180.64 133.76L180.43 133.42L180.23 133.09L180.02 132.76L179.81 132.43L179.60 132.10L179.39 131.78L179.17 131.45L178.96 131.13L178.74 130.81L178.52 130.48L178.30 130.16L178.08 129.84L177.85 129.53L177.63 129.21L177.40 128.89L177.17 128.58L176.95 128.26L176.72 127.95L176.48 127.64L176.25 127.33L176.02 127.02L175.78 126.71L175.55 126.40L175.31 126.09L175.07 125.78L174.83 125.47L174.59 125.17L174.35 124.86L174.11 124.56L173.87 124.25L173.62 123.95L173.38 123.65L173.13 123.35L172.89 123.04L172.64 122.74L172.39 122.44L172.14 122.15L171.89 121.85L171.64 121.55L171.39 121.25L171.14 120.96L170.89 120.66L170.63 120.37L170.37 120.08L170.12 119.79L169.86 119.50L169.60 119.21L169.34 118.92L169.08 118.63L168.81 118.35L168.55 118.07L168.28 117.78L168.01 117.50L167.74 117.22L167.47 116.95L167.20 116.67L166.93 116.39L166.65 116.12L166.38 115.85L166.10 115.58L165.82 115.31L165.54 115.04L165.25 114.78L164.97 114.52L164.68 114.26L164.39 114.00L164.10 113.74L163.81 113.48L163.52 113.23L163.22 112.98L162.92 112.73L162.62 112.49L162.32 112.24L162.02 112.00L161.71 111.76L161.41 111.52L161.10 111.28L160.79 111.04L160.48 110.81L160.17 110.57L159.85 110.34L159.54 110.10L159.23 109.87L158.91 109.64L158.60 109.41L158.28 109.18L157.97 108.95L157.65 108.72L157.34 108.49L157.03 108.25L156.71 108.02L156.40 107.79L156.08 107.56L155.77 107.32L155.46 107.09L155.15 106.85L154.84 106.62L154.53 106.38L154.22 106.14L153.91 105.89L153.61 105.65L153.31 105.41L153.00 105.16L152.70 104.91L152.41 104.66L152.11 104.40L151.82 104.15L151.53 103.89L151.24 103.63L150.95 103.37L150.66 103.10L150.38 102.83L150.10 102.56L149.83 102.29L149.55 102.02L149.28 101.74L149.02 101.46L148.75 101.18L148.49 100.89L148.23 100.60L147.98 100.31L147.73 100.02L147.48 99.72L147.24 99.42L147.00 99.12L146.76 98.81L146.53 98.50L146.30 98.19L146.08 97.87L145.86 97.56L145.64 97.23L145.43 96.91L145.23 96.58L145.02 96.25L144.83 95.91L144.64 95.57L144.45 95.23L144.27 94.88L144.09 94.53L143.92 94.18L143.75 93.82L143.59 93.46L143.44 93.10L143.29 92.74L143.15 92.37L143.01 92.00L142.88 91.62L142.76 91.25L142.65 90.87L142.54 90.49L142.44 90.11L142.34 89.73L142.26 89.35L142.18 88.96L142.11 88.58L142.05 88.19L142.00 87.80L141.95 87.42L141.92 87.03L141.89 86.64L141.87 86.25L141.86 85.86L141.86 85.47L141.87 85.09L141.89 84.70L141.92 84.31L141.97 83.93L142.02 83.54L142.08 83.16L142.15 82.78L142.23 82.40L142.32 82.02L142.42 81.65L142.52 81.28L142.64 80.91L142.77 80.54L142.91 80.18L143.05 79.82L143.21 79.47L143.37 79.12L143.55 78.78L143.73 78.44L143.92 78.10L144.12 77.77L144.33 77.45L144.54 77.13L144.77 76.82L145.00 76.51L145.25 76.21L145.50 75.92L145.75 75.64L146.02 75.36L146.29 75.09L146.58 74.83L146.87 74.57L147.17 74.33L147.47 74.09L147.78 73.87L148.10 73.65L148.43 73.44L148.76 73.24L149.10 73.04L149.45 72.86L149.80 72.68L150.15 72.52L150.51 72.36L150.88 72.21L151.25 72.07L151.62 71.94L152.00 71.81L152.38 71.70L152.76 71.59L153.15 71.49L153.53 71.40L153.92 71.32L154.31 71.25L154.71 71.19L155.10 71.13L155.49 71.09L155.89 71.05L156.28 71.02L156.68 71.00L157.07 70.99L157.47 70.98Z" fill="none" stroke="#c6c6c6" stroke-width="1"/>
<path d="M153.30 63.84L153.79 63.85L154.27 63.88L154.76 63.92L155.24 63.97L155.72 64.02L156.20 64.09L156.67 64.17L157.15 64.25L157.62 64.35L158.09 64.45L158.56 64.57L159.02 64.69L159.48 64.82L159.94 64.96L160.40 65.11L160.85 65.27L161.31 65.43L161.76 65.60L162.20 65.78L162.65 65.97L163.09 66.16L163.53 66.36L163.97 66.57L164.40 66.79L164.83 67.01L165.26 67.24L165.68 67.47L166.10 67.71L166.52 67.96L166.94 68.21L167.35 68.47L167.76 68.74L168.16 69.00L168.56 69.28L168.96 69.56L169.36 69.84L169.75 70.13L170.14 70.42L170.53 70.72L170.91 71.02L171.29 71.33L171.66 71.64L172.04 71.95L172.41 72.26L172.78 72.58L173.14 72.90L173.51 73.22L173.87 73.55L174.23 73.88L174.59 74.21L174.95 74.54L175.30 74.87L175.66 75.20L176.02 75.54L176.37 75.87L176.73 76.20L177.08 76.54L177.44 76.87L177.79 77.21L178.15 77.54L178.50 77.87L178.86 78.21L179.21 78.54L179.57 78.87L179.92 79.21L180.27 79.54L180.62 79.88L180.97 80.22L181.31 80.57L181.65 80.91L181.99 81.26L182.32 81.61L182.65 81.96L182.98 82.32L183.31 82.67L183.63 83.03L183.96 83.40L184.27 83.76L184.59 84.13L184.90 84.50L185.21 84.87L185.52 85.24L185.83 85.62L186.13 85.99L186.43 86.37L186.73 86.75L187.02 87.14L187.31 87.52L187.60 87.91L187.89 88.30L188.17 88.69L188.46 89.09L188.73 89.48L189.01 89.88L189.28 90.28L189.56 90.68L189.82 91.08L190.09 91.49L190.36 91.89L190.62 92.30L190.88 92.71L191.13 93.12L191.39 93.54L191.64 93.95L191.89 94.37L192.13 94.79L192.38 95.21L192.62 95.63L192.86 96.05L193.09 96.48L193.33 96.90L193.56 97.33L193.79 97.76L194.02 98.19L194.24 98.62L194.46 99.05L194.69 99.49L194.90 99.92L195.12 100.36L195.33 100.80L195.54 101.24L195.75 101.68L195.96 102.12L196.16 102.56L196.36 103.01L196.56 103.45L196.76 103.90L196.96 104.35L197.15 104.79L197.34 105.24L197.53 105.69L197.71 106.15L197.90 106.60L198.08 107.05L198.26 107.51L198.43 107.96L198.61 108.42L198.78 108.88L198.95 109.33L199.11 109.79L199.28 110.25L199.44 110.71L199.59 111.18L199.75 111.64L199.90 112.10L200.05 112.57L200.20 113.03L200.34 113.50L200.48 113.96L200.62 114.43L200.75 114.90L200.89 115.37L201.01 115.84L201.14 116.31L201.26 116.78L201.38 117.25L201.49 117.72L201.61 118.19L201.71 118.67L201.82 119.14L201.92 119.61L202.02 120.09L202.11 120.57L202.20 121.04L202.29 121.52L202.38 122.00L202.46 122.47L202.53 122.95L202.61 123.43L202.67 123.91L202.74 124.39L202.80 124.87L202.86 125.35L202.91 125.83L202.96 126.31L203.01 126.79L203.05 127.27L203.08 127.75L203.12 128.24L203.15 128.72L203.17 129.20L203.19 129.68L203.21 130.17L203.22 130.65L203.22 131.14L203.23 131.62L203.23 132.10L203.22 132.59L203.21 133.07L203.19 133.56L203.17 134.04L203.15 134.53L203.12 135.01L203.09 135.50L203.05 135.98L203.00 136.47L202.96 136.95L202.90 137.44L202.84 137.92L202.78 138.41L202.71 138.89L202.64 139.37L202.56 139.86L202.48 140.34L202.39 140.82L202.30 141.31L202.20 141.79L202.10 142.27L201.99 142.75L201.88 143.23L201.76 143.71L201.63 144.19L201.50 144.66L201.37 145.14L201.22 145.61L201.07 146.08L200.91 146.55L200.74 147.01L200.56 147.47L200.37 147.92L200.17 148.36L199.95 148.79L199.72 149.21L199.47 149.63L199.21 150.03L198.92 150.42L198.63 150.80L198.31 151.17L197.97 151.52L197.61 151.85L197.23 152.17L196.83 152.47L196.41 152.75L195.98 153.00L195.54 153.23L195.09 153.43L194.63 153.59L194.17 153.71L193.71 153.80L193.24 153.84L192.78 153.84L192.33 153.79L191.88 153.70L191.44 153.56L191.01 153.39L190.58 153.18L190.16 152.95L189.76 152.68L189.36 152.40L188.97 152.09L188.59 151.77L188.23 151.44L187.87 151.09L187.53 150.74L187.19 150.38L186.87 150.02L186.55 149.64L186.25 149.27L185.95 148.88L185.66 148.49L185.38 148.10L185.10 147.70L184.83 147.29L184.56 146.89L184.30 146.47L184.04 146.06L183.78 145.65L183.53 145.23L183.28 144.81L183.02 144.39L182.78 143.97L182.53 143.55L182.28 143.13L182.02 142.71L181.77 142.29L181.52 141.88L181.26 141.46L181.00 141.05L180.74 140.64L180.47 140.23L180.21 139.82L179.94 139.42L179.67 139.01L179.40 138.61L179.12 138.21L178.85 137.81L178.57 137.41L178.29 137.01L178.01 136.61L177.73 136.22L177.44 135.82L177.16 135.43L176.87 135.04L176.58 134.65L176.29 134.26L176.00 133.87L175.70 133.48L175.41 133.10L175.11 132.71L174.81 132.33L174.52 131.94L174.22 131.56L173.91 131.18L173.61 130.80L173.31 130.42L173.00 130.04L172.70 129.66L172.39 129.28L172.09 128.91L171.78 128.53L171.47 128.16L171.16 127.78L170.84 127.41L170.53 127.04L170.22 126.67L169.90 126.30L169.58 125.93L169.26 125.56L168.94 125.20L168.62 124.83L168.30 124.47L167.97 124.11L167.65 123.75L167.32 123.39L166.99 123.04L166.66 122.68L166.33 122.33L165.99 121.98L165.66 121.63L165.32 121.28L164.98 120.94L164.64 120.59L164.29 120.25L163.95 119.91L163.60 119.57L163.25 119.24L162.90 118.91L162.54 118.57L162.18 118.25L161.83 117.92L161.47 117.60L161.10 117.28L160.74 116.96L160.37 116.64L160.00 116.33L159.63 116.01L159.25 115.71L158.88 115.40L158.50 115.10L158.11 114.80L157.73 114.50L157.35 114.20L156.96 113.90L156.57 113.61L156.18 113.31L155.79 113.02L155.40 112.73L155.01 112.44L154.62 112.15L154.22 111.86L153.83 111.57L153.44 111.28L153.04 111.00L152.65 110.71L152.26 110.42L151.86 110.13L151.47 109.84L151.08 109.55L150.69 109.25L150.30 108.96L149.91 108.67L149.52 108.37L149.14 108.07L148.75 107.77L148.37 107.47L147.99 107.16L147.61 106.86L147.23 106.55L146.86 106.24L146.48 105.92L146.11 105.60L145.75 105.28L145.38 104.96L145.02 104.64L144.66 104.31L144.31 103.98L143.95 103.64L143.60 103.31L143.26 102.96L142.92 102.62L142.58 102.27L142.24 101.92L141.91 101.57L141.59 101.21L141.27 100.85L140.95 100.49L140.63 100.12L140.32 99.75L140.02 99.37L139.72 99.00L139.43 98.61L139.14 98.23L138.85 97.84L138.57 97.44L138.30 97.04L138.03 96.64L137.76 96.24L137.51 95.82L137.26 95.41L137.01 94.99L136.77 94.57L136.54 94.14L136.31 93.70L136.09 93.27L135.87 92.83L135.67 92.38L135.47 91.93L135.27 91.48L135.09 91.02L134.91 90.56L134.74 90.10L134.58 89.63L134.43 89.16L134.28 88.69L134.15 88.22L134.02 87.74L133.91 87.26L133.80 86.78L133.70 86.30L133.61 85.82L133.54 85.34L133.47 84.85L133.41 84.37L133.37 83.88L133.34 83.40L133.31 82.91L133.30 82.43L133.30 81.94L133.32 81.46L133.34 80.97L133.38 80.49L133.43 80.01L133.50 79.53L133.57 79.05L133.66 78.57L133.76 78.10L133.87 77.63L133.99 77.16L134.13 76.70L134.28 76.24L134.44 75.78L134.61 75.33L134.79 74.88L134.99 74.44L135.19 74.00L135.41 73.57L135.64 73.14L135.87 72.73L136.12 72.31L136.38 71.91L136.66 71.51L136.94 71.12L137.23 70.74L137.53 70.37L137.84 70.00L138.17 69.65L138.50 69.30L138.84 68.96L139.20 68.63L139.56 68.32L139.93 68.01L140.31 67.72L140.70 67.43L141.10 67.16L141.51 66.90L141.93 66.64L142.35 66.40L142.78 66.17L143.22 65.95L143.67 65.75L144.12 65.55L144.57 65.36L145.04 65.18L145.50 65.02L145.97 64.87L146.45 64.72L146.93 64.59L147.41 64.47L147.89 64.36L148.38 64.25L148.87 64.16L149.36 64.09L149.85 64.02L150.34 63.96L150.84 63.91L151.33 63.88L151.82 63.85L152.32 63.83L152.81 63.83Z" fill="none" stroke="#c6c6c6" stroke-width="1"/>
<path d="M148.58 56.72L149.16 56.74L149.75 56.78L150.33 56.82L150.91 56.88L151.48 56.95L152.06 57.03L152.63 57.12L153.20 57.22L153.76 57.34L154.33 57.47L154.89 57.60L155.44 57.75L156.00 57.91L156.55 58.07L157.10 58.25L157.65 58.44L158.19 58.64L158.73 58.84L159.26 59.06L159.80 59.28L160.33 59.52L160.85 59.76L161.38 60.01L161.90 60.27L162.41 60.53L162.93 60.81L163.44 61.09L163.94 61.38L164.44 61.67L164.94 61.98L165.44 62.29L165.93 62.60L166.41 62.92L166.90 63.25L167.38 63.59L167.85 63.93L168.32 64.28L168.79 64.63L169.25 64.98L169.71 65.35L170.16 65.71L170.61 66.08L171.06 66.46L171.51 66.83L171.95 67.22L172.39 67.60L172.83 67.99L173.26 68.38L173.69 68.77L174.13 69.17L174.56 69.56L174.98 69.96L175.41 70.36L175.84 70.76L176.27 71.16L176.69 71.56L177.12 71.97L177.54 72.37L177.97 72.77L178.39 73.17L178.82 73.57L179.25 73.97L179.67 74.37L180.10 74.77L180.52 75.17L180.95 75.57L181.36 75.98L181.78 76.39L182.19 76.80L182.60 77.21L183.00 77.63L183.41 78.05L183.81 78.47L184.20 78.90L184.59 79.33L184.98 79.76L185.37 80.20L185.75 80.63L186.13 81.07L186.50 81.52L186.88 81.96L187.25 82.41L187.61 82.86L187.98 83.31L188.34 83.77L188.69 84.23L189.05 84.69L189.40 85.15L189.74 85.61L190.09 86.08L190.43 86.55L190.77 87.02L191.10 87.50L191.43 87.98L191.76 88.45L192.09 88.94L192.41 89.42L192.73 89.91L193.05 90.39L193.36 90.88L193.67 91.38L193.98 91.87L194.28 92.37L194.58 92.86L194.88 93.36L195.18 93.86L195.47 94.37L195.76 94.87L196.05 95.38L196.33 95.89L196.61 96.40L196.89 96.91L197.17 97.43L197.44 97.95L197.71 98.46L197.98 98.98L198.24 99.50L198.50 100.03L198.76 100.55L199.02 101.08L199.27 101.60L199.52 102.13L199.77 102.66L200.01 103.19L200.26 103.73L200.50 104.26L200.73 104.80L200.97 105.33L201.20 105.87L201.43 106.41L201.65 106.95L201.88 107.49L202.10 108.04L202.31 108.58L202.53 109.13L202.74 109.67L202.95 110.22L203.15 110.77L203.36 111.32L203.56 111.87L203.75 112.42L203.94 112.98L204.13 113.53L204.32 114.09L204.50 114.64L204.68 115.20L204.86 115.76L205.03 116.32L205.20 116.88L205.36 117.44L205.52 118.00L205.68 118.56L205.84 119.12L205.99 119.69L206.13 120.25L206.27 120.82L206.41 121.38L206.55 121.95L206.68 122.52L206.80 123.09L206.93 123.66L207.04 124.23L207.16 124.80L207.27 125.37L207.37 125.94L207.47 126.51L207.57 127.09L207.66 127.66L207.75 128.24L207.83 128.81L207.91 129.39L207.98 129.96L208.05 130.54L208.11 131.11L208.17 131.69L208.23 132.27L208.28 132.85L208.32 133.42L208.36 134.00L208.39 134.58L208.42 135.16L208.45 135.74L208.47 136.32L208.48 136.90L208.49 137.48L208.49 138.06L208.49 138.64L208.48 139.23L208.47 139.81L208.45 140.39L208.43 140.97L208.40 141.55L208.36 142.13L208.32 142.72L208.28 143.30L208.23 143.88L208.17 144.46L208.10 145.04L208.03 145.63L207.96 146.21L207.88 146.79L207.79 147.37L207.70 147.95L207.60 148.53L207.49 149.11L207.38 149.69L207.26 150.26L207.14 150.84L207.01 151.42L206.87 151.99L206.73 152.57L206.58 153.14L206.42 153.72L206.26 154.29L206.09 154.86L205.91 155.42L205.72 155.98L205.51 156.53L205.30 157.08L205.07 157.62L204.82 158.15L204.56 158.67L204.28 159.18L203.98 159.67L203.67 160.16L203.33 160.63L202.97 161.08L202.59 161.52L202.18 161.94L201.75 162.34L201.30 162.73L200.82 163.09L200.32 163.42L199.80 163.73L199.27 164.00L198.73 164.23L198.18 164.42L197.62 164.58L197.07 164.68L196.51 164.73L195.96 164.73L195.41 164.67L194.88 164.56L194.35 164.40L193.83 164.19L193.32 163.94L192.82 163.66L192.33 163.34L191.85 163.00L191.38 162.63L190.93 162.24L190.49 161.84L190.06 161.43L189.65 161.01L189.25 160.58L188.86 160.14L188.48 159.69L188.12 159.24L187.76 158.78L187.41 158.31L187.07 157.83L186.74 157.36L186.41 156.87L186.09 156.38L185.77 155.89L185.46 155.39L185.16 154.90L184.85 154.39L184.55 153.89L184.25 153.39L183.95 152.88L183.65 152.38L183.35 151.88L183.05 151.37L182.75 150.87L182.44 150.37L182.13 149.88L181.82 149.38L181.51 148.89L181.19 148.40L180.87 147.91L180.55 147.42L180.22 146.93L179.90 146.45L179.57 145.97L179.24 145.49L178.91 145.01L178.57 144.53L178.23 144.05L177.89 143.58L177.55 143.11L177.21 142.63L176.86 142.16L176.52 141.70L176.17 141.23L175.82 140.76L175.46 140.30L175.11 139.83L174.75 139.37L174.40 138.91L174.04 138.45L173.68 137.99L173.32 137.53L172.95 137.08L172.59 136.62L172.23 136.17L171.86 135.71L171.49 135.26L171.12 134.81L170.75 134.36L170.38 133.91L170.01 133.46L169.63 133.01L169.26 132.57L168.88 132.12L168.50 131.68L168.12 131.24L167.74 130.80L167.35 130.36L166.97 129.92L166.58 129.49L166.19 129.05L165.80 128.62L165.40 128.19L165.01 127.76L164.61 127.34L164.21 126.92L163.81 126.49L163.41 126.07L163.00 125.66L162.59 125.24L162.18 124.83L161.77 124.42L161.35 124.01L160.94 123.61L160.52 123.21L160.09 122.81L159.67 122.41L159.24 122.02L158.81 121.62L158.38 121.24L157.94 120.85L157.50 120.47L157.06 120.09L156.62 119.71L156.17 119.34L155.72 118.97L155.27 118.60L154.81 118.24L154.36 117.87L153.90 117.51L153.44 117.16L152.97 116.80L152.51 116.45L152.04 116.10L151.57 115.75L151.10 115.40L150.63 115.05L150.16 114.70L149.69 114.35L149.22 114.01L148.74 113.66L148.27 113.32L147.80 112.97L147.33 112.62L146.86 112.27L146.39 111.93L145.91 111.58L145.45 111.22L144.98 110.87L144.51 110.52L144.05 110.16L143.58 109.80L143.12 109.44L142.66 109.08L142.20 108.72L141.75 108.35L141.30 107.98L140.85 107.60L140.40 107.23L139.96 106.85L139.52 106.46L139.08 106.07L138.64 105.68L138.21 105.29L137.79 104.89L137.36 104.49L136.95 104.09L136.53 103.68L136.12 103.27L135.71 102.85L135.31 102.43L134.92 102.00L134.53 101.58L134.14 101.14L133.76 100.71L133.38 100.27L133.01 99.82L132.64 99.37L132.28 98.92L131.93 98.46L131.58 97.99L131.24 97.52L130.91 97.05L130.58 96.57L130.25 96.09L129.94 95.60L129.63 95.11L129.33 94.61L129.03 94.11L128.74 93.60L128.46 93.09L128.19 92.57L127.93 92.04L127.67 91.51L127.42 90.98L127.18 90.44L126.95 89.89L126.73 89.34L126.51 88.79L126.31 88.24L126.12 87.68L125.93 87.11L125.76 86.55L125.60 85.98L125.45 85.41L125.31 84.84L125.18 84.26L125.06 83.68L124.96 83.11L124.86 82.53L124.78 81.95L124.72 81.36L124.66 80.78L124.62 80.20L124.60 79.62L124.58 79.03L124.59 78.45L124.60 77.87L124.63 77.29L124.68 76.71L124.74 76.13L124.81 75.55L124.90 74.98L125.01 74.41L125.13 73.84L125.26 73.27L125.41 72.71L125.58 72.16L125.75 71.60L125.95 71.06L126.15 70.51L126.37 69.98L126.60 69.45L126.85 68.92L127.11 68.40L127.38 67.89L127.67 67.39L127.97 66.90L128.28 66.41L128.61 65.93L128.94 65.47L129.29 65.01L129.66 64.56L130.03 64.12L130.42 63.69L130.82 63.28L131.23 62.87L131.66 62.48L132.09 62.10L132.54 61.73L133.00 61.38L133.47 61.04L133.95 60.71L134.44 60.39L134.94 60.09L135.44 59.80L135.96 59.53L136.49 59.26L137.02 59.01L137.56 58.78L138.11 58.55L138.66 58.34L139.22 58.14L139.79 57.96L140.36 57.79L140.93 57.63L141.51 57.48L142.09 57.35L142.67 57.23L143.26 57.12L143.85 57.02L144.44 56.94L145.03 56.87L145.62 56.81L146.22 56.77L146.81 56.74L147.40 56.72L147.99 56.72Z" fill="none" stroke="#c6c6c6" stroke-width="1"/>
<path d="M143.70 49.65L144.38 49.67L145.06 49.71L145.74 49.77L146.41 49.83L147.09 49.91L147.76 50.01L148.42 50.11L149.09 50.24L149.75 50.37L150.40 50.52L151.06 50.68L151.71 50.85L152.36 51.03L153.00 51.23L153.64 51.43L154.28 51.65L154.91 51.88L155.54 52.12L156.17 52.37L156.79 52.64L157.41 52.91L158.02 53.19L158.63 53.48L159.24 53.78L159.84 54.09L160.44 54.41L161.03 54.74L161.62 55.08L162.21 55.43L162.79 55.78L163.37 56.14L163.94 56.51L164.51 56.89L165.07 57.27L165.63 57.66L166.18 58.06L166.73 58.46L167.28 58.87L167.82 59.29L168.35 59.71L168.88 60.14L169.41 60.57L169.93 61.01L170.45 61.45L170.97 61.89L171.48 62.34L171.99 62.79L172.50 63.25L173.00 63.71L173.50 64.17L174.01 64.63L174.51 65.10L175.00 65.56L175.50 66.03L176.00 66.50L176.50 66.97L176.99 67.43L177.49 67.90L177.99 68.37L178.48 68.84L178.98 69.30L179.48 69.77L179.98 70.23L180.47 70.70L180.97 71.17L181.46 71.64L181.95 72.11L182.43 72.59L182.91 73.07L183.39 73.56L183.86 74.04L184.33 74.53L184.80 75.03L185.26 75.52L185.72 76.02L186.17 76.53L186.62 77.04L187.06 77.55L187.51 78.06L187.95 78.58L188.38 79.09L188.81 79.62L189.24 80.14L189.66 80.67L190.08 81.20L190.50 81.74L190.91 82.27L191.32 82.81L191.72 83.36L192.13 83.90L192.52 84.45L192.92 85.00L193.31 85.56L193.70 86.11L194.08 86.67L194.46 87.23L194.83 87.80L195.21 88.36L195.58 88.93L195.94 89.50L196.31 90.08L196.66 90.65L197.02 91.23L197.37 91.81L197.72 92.40L198.07 92.98L198.41 93.57L198.75 94.16L199.08 94.75L199.41 95.35L199.74 95.94L200.06 96.54L200.39 97.14L200.70 97.74L201.02 98.35L201.33 98.95L201.64 99.56L201.94 100.17L202.25 100.78L202.54 101.40L202.84 102.01L203.13 102.63L203.42 103.25L203.71 103.87L203.99 104.49L204.27 105.11L204.54 105.74L204.82 106.36L205.09 106.99L205.35 107.62L205.62 108.25L205.88 108.88L206.14 109.52L206.39 110.15L206.64 110.79L206.89 111.43L207.13 112.07L207.37 112.71L207.61 113.35L207.84 113.99L208.07 114.63L208.29 115.28L208.51 115.93L208.73 116.57L208.94 117.22L209.15 117.87L209.36 118.52L209.56 119.18L209.75 119.83L209.95 120.48L210.14 121.14L210.32 121.79L210.50 122.45L210.67 123.11L210.84 123.77L211.01 124.43L211.17 125.09L211.33 125.75L211.48 126.41L211.63 127.08L211.77 127.74L211.91 128.41L212.04 129.07L212.17 129.74L212.29 130.41L212.41 131.07L212.52 131.74L212.63 132.41L212.73 133.08L212.82 133.75L212.91 134.42L213.00 135.09L213.08 135.77L213.16 136.44L213.22 137.11L213.29 137.79L213.35 138.46L213.40 139.14L213.44 139.81L213.48 140.49L213.52 141.16L213.55 141.84L213.57 142.52L213.58 143.19L213.59 143.87L213.60 144.55L213.60 145.23L213.59 145.90L213.57 146.58L213.55 147.26L213.52 147.94L213.49 148.62L213.45 149.30L213.40 149.98L213.35 150.65L213.29 151.33L213.22 152.01L213.14 152.69L213.06 153.37L212.97 154.05L212.88 154.73L212.78 155.40L212.67 156.08L212.55 156.76L212.43 157.43L212.30 158.11L212.16 158.78L212.02 159.46L211.87 160.13L211.71 160.80L211.54 161.47L211.37 162.14L211.18 162.81L210.99 163.48L210.79 164.14L210.58 164.80L210.36 165.45L210.12 166.10L209.87 166.73L209.60 167.36L209.31 167.98L209.01 168.59L208.68 169.18L208.34 169.76L207.97 170.32L207.57 170.87L207.16 171.40L206.71 171.91L206.24 172.40L205.73 172.87L205.20 173.32L204.64 173.74L204.06 174.13L203.46 174.49L202.84 174.80L202.21 175.08L201.56 175.30L200.92 175.48L200.27 175.60L199.62 175.66L198.98 175.66L198.34 175.59L197.71 175.46L197.10 175.27L196.49 175.03L195.89 174.74L195.31 174.41L194.74 174.04L194.18 173.64L193.64 173.21L193.11 172.76L192.60 172.29L192.10 171.81L191.62 171.32L191.15 170.82L190.70 170.30L190.26 169.78L189.83 169.25L189.41 168.71L189.00 168.17L188.61 167.61L188.22 167.05L187.84 166.49L187.46 165.92L187.09 165.34L186.73 164.77L186.37 164.18L186.02 163.60L185.67 163.01L185.31 162.43L184.97 161.84L184.62 161.25L184.27 160.66L183.91 160.08L183.56 159.49L183.20 158.91L182.84 158.33L182.48 157.75L182.11 157.18L181.74 156.60L181.37 156.03L181.00 155.46L180.62 154.90L180.24 154.33L179.85 153.77L179.47 153.21L179.08 152.65L178.69 152.09L178.30 151.54L177.90 150.98L177.50 150.43L177.10 149.88L176.70 149.33L176.29 148.79L175.88 148.24L175.48 147.70L175.06 147.15L174.65 146.61L174.24 146.07L173.82 145.54L173.40 145.00L172.98 144.46L172.56 143.93L172.14 143.40L171.71 142.86L171.29 142.33L170.86 141.80L170.43 141.28L170.00 140.75L169.57 140.22L169.13 139.70L168.70 139.17L168.26 138.65L167.82 138.13L167.38 137.61L166.94 137.10L166.50 136.58L166.05 136.07L165.60 135.56L165.15 135.05L164.70 134.54L164.24 134.03L163.79 133.53L163.33 133.03L162.87 132.53L162.40 132.04L161.94 131.54L161.47 131.05L161.00 130.56L160.52 130.07L160.05 129.59L159.57 129.11L159.09 128.63L158.60 128.16L158.12 127.68L157.63 127.21L157.13 126.75L156.64 126.28L156.14 125.82L155.64 125.37L155.13 124.92L154.62 124.47L154.11 124.02L153.60 123.58L153.08 123.14L152.56 122.70L152.03 122.27L151.51 121.84L150.97 121.42L150.44 120.99L149.90 120.57L149.37 120.16L148.82 119.74L148.28 119.33L147.74 118.92L147.19 118.51L146.64 118.10L146.09 117.70L145.54 117.29L144.99 116.89L144.44 116.48L143.89 116.08L143.34 115.67L142.79 115.27L142.24 114.86L141.69 114.46L141.14 114.05L140.59 113.64L140.04 113.24L139.50 112.82L138.95 112.41L138.41 112.00L137.87 111.58L137.33 111.16L136.79 110.74L136.26 110.31L135.73 109.88L135.20 109.45L134.68 109.01L134.16 108.57L133.64 108.13L133.12 107.68L132.61 107.23L132.11 106.77L131.61 106.31L131.11 105.85L130.62 105.38L130.13 104.91L129.64 104.43L129.16 103.95L128.69 103.46L128.22 102.97L127.76 102.48L127.30 101.98L126.85 101.47L126.41 100.96L125.97 100.45L125.53 99.93L125.11 99.40L124.69 98.87L124.28 98.34L123.87 97.80L123.47 97.25L123.08 96.70L122.70 96.14L122.32 95.58L121.95 95.01L121.59 94.43L121.24 93.85L120.89 93.27L120.56 92.67L120.23 92.07L119.91 91.47L119.60 90.85L119.30 90.24L119.01 89.61L118.73 88.98L118.46 88.35L118.20 87.71L117.96 87.06L117.72 86.42L117.49 85.76L117.28 85.11L117.08 84.45L116.89 83.78L116.71 83.12L116.55 82.45L116.40 81.78L116.26 81.11L116.14 80.43L116.03 79.75L115.94 79.08L115.86 78.40L115.80 77.72L115.75 77.04L115.72 76.36L115.70 75.68L115.71 75.00L115.72 74.32L115.76 73.64L115.81 72.97L115.88 72.29L115.97 71.62L116.08 70.95L116.20 70.28L116.34 69.62L116.50 68.96L116.67 68.31L116.86 67.66L117.07 67.01L117.29 66.37L117.53 65.74L117.79 65.11L118.06 64.49L118.35 63.88L118.65 63.28L118.97 62.68L119.30 62.10L119.65 61.52L120.02 60.95L120.40 60.40L120.79 59.85L121.20 59.32L121.62 58.79L122.06 58.28L122.51 57.78L122.98 57.30L123.46 56.83L123.95 56.37L124.46 55.93L124.98 55.50L125.52 55.08L126.07 54.68L126.63 54.30L127.20 53.93L127.78 53.58L128.38 53.24L128.98 52.92L129.59 52.62L130.21 52.32L130.85 52.05L131.48 51.79L132.13 51.54L132.78 51.31L133.44 51.09L134.11 50.89L134.78 50.70L135.45 50.53L136.13 50.38L136.81 50.24L137.49 50.11L138.18 50.00L138.87 49.90L139.56 49.82L140.25 49.76L140.94 49.71L141.63 49.67L142.32 49.65L143.01 49.64Z" fill="none" stroke="#c6c6c6" stroke-width="1"/>
<path d="M138.66 42.62L139.44 42.65L140.22 42.69L140.99 42.75L141.76 42.82L142.53 42.92L143.30 43.02L144.06 43.15L144.82 43.29L145.57 43.44L146.32 43.61L147.07 43.79L147.81 43.99L148.55 44.20L149.29 44.42L150.02 44.66L150.75 44.91L151.47 45.17L152.19 45.44L152.91 45.73L153.62 46.03L154.32 46.34L155.03 46.66L155.72 47.00L156.42 47.34L157.11 47.70L157.79 48.06L158.47 48.44L159.14 48.82L159.81 49.22L160.48 49.62L161.14 50.03L161.79 50.46L162.44 50.89L163.08 51.33L163.72 51.77L164.35 52.23L164.98 52.69L165.60 53.16L166.22 53.63L166.83 54.11L167.44 54.60L168.04 55.10L168.64 55.60L169.23 56.10L169.82 56.61L170.41 57.12L170.99 57.64L171.57 58.16L172.15 58.68L172.72 59.21L173.30 59.74L173.87 60.27L174.44 60.80L175.01 61.34L175.57 61.87L176.14 62.41L176.71 62.94L177.28 63.48L177.84 64.01L178.41 64.55L178.98 65.08L179.55 65.61L180.12 66.14L180.69 66.68L181.25 67.21L181.81 67.75L182.37 68.29L182.93 68.84L183.47 69.38L184.02 69.94L184.56 70.49L185.10 71.06L185.63 71.62L186.15 72.19L186.68 72.76L187.20 73.34L187.71 73.91L188.22 74.50L188.72 75.08L189.23 75.67L189.72 76.27L190.22 76.87L190.70 77.47L191.19 78.07L191.67 78.68L192.14 79.29L192.61 79.90L193.08 80.52L193.54 81.14L194.00 81.76L194.46 82.39L194.91 83.02L195.35 83.65L195.80 84.29L196.24 84.93L196.67 85.57L197.10 86.21L197.53 86.86L197.95 87.51L198.37 88.16L198.78 88.82L199.19 89.48L199.60 90.14L200.00 90.80L200.40 91.47L200.79 92.14L201.18 92.81L201.57 93.49L201.95 94.16L202.33 94.84L202.71 95.52L203.08 96.21L203.44 96.89L203.81 97.58L204.17 98.27L204.52 98.96L204.88 99.66L205.22 100.36L205.57 101.05L205.91 101.76L206.25 102.46L206.58 103.16L206.91 103.87L207.24 104.58L207.56 105.29L207.88 106.00L208.20 106.72L208.51 107.43L208.82 108.15L209.12 108.87L209.42 109.59L209.72 110.31L210.02 111.04L210.31 111.76L210.59 112.49L210.87 113.22L211.15 113.95L211.43 114.68L211.70 115.41L211.96 116.15L212.22 116.89L212.48 117.62L212.73 118.36L212.98 119.10L213.22 119.84L213.46 120.59L213.70 121.33L213.93 122.07L214.15 122.82L214.37 123.57L214.59 124.32L214.80 125.07L215.00 125.82L215.20 126.57L215.40 127.32L215.59 128.08L215.77 128.83L215.95 129.59L216.12 130.35L216.29 131.10L216.45 131.86L216.61 132.62L216.76 133.38L216.91 134.15L217.05 134.91L217.18 135.67L217.31 136.44L217.43 137.20L217.55 137.97L217.66 138.73L217.76 139.50L217.86 140.27L217.95 141.04L218.04 141.81L218.12 142.57L218.19 143.34L218.25 144.12L218.31 144.89L218.37 145.66L218.41 146.43L218.45 147.20L218.48 147.98L218.51 148.75L218.53 149.52L218.54 150.30L218.54 151.07L218.54 151.85L218.53 152.62L218.51 153.40L218.49 154.17L218.46 154.95L218.42 155.72L218.37 156.50L218.32 157.28L218.26 158.05L218.19 158.83L218.11 159.60L218.02 160.38L217.93 161.15L217.83 161.93L217.72 162.70L217.61 163.48L217.48 164.25L217.35 165.02L217.21 165.80L217.06 166.57L216.90 167.34L216.74 168.11L216.56 168.88L216.38 169.65L216.19 170.41L215.99 171.18L215.78 171.94L215.57 172.70L215.34 173.46L215.10 174.21L214.84 174.96L214.57 175.70L214.28 176.43L213.98 177.14L213.65 177.85L213.30 178.54L212.93 179.22L212.53 179.88L212.11 180.53L211.66 181.16L211.18 181.76L210.67 182.35L210.13 182.91L209.56 183.44L208.95 183.96L208.31 184.44L207.64 184.88L206.95 185.29L206.25 185.65L205.52 185.96L204.79 186.22L204.05 186.42L203.31 186.56L202.57 186.63L201.83 186.63L201.11 186.55L200.39 186.40L199.68 186.18L198.99 185.91L198.31 185.58L197.64 185.20L196.99 184.77L196.35 184.32L195.73 183.83L195.13 183.31L194.54 182.78L193.97 182.23L193.42 181.67L192.89 181.09L192.37 180.51L191.87 179.91L191.38 179.30L190.90 178.69L190.43 178.06L189.98 177.43L189.54 176.79L189.10 176.15L188.67 175.50L188.25 174.84L187.84 174.18L187.43 173.51L187.02 172.85L186.62 172.18L186.22 171.51L185.82 170.83L185.42 170.16L185.02 169.49L184.62 168.82L184.22 168.15L183.81 167.49L183.40 166.82L182.98 166.16L182.56 165.50L182.14 164.85L181.71 164.20L181.29 163.55L180.85 162.90L180.42 162.25L179.98 161.61L179.54 160.97L179.09 160.33L178.65 159.69L178.20 159.06L177.74 158.43L177.29 157.79L176.83 157.17L176.37 156.54L175.91 155.91L175.44 155.29L174.98 154.67L174.51 154.05L174.03 153.43L173.56 152.82L173.08 152.20L172.60 151.59L172.12 150.98L171.64 150.37L171.16 149.76L170.67 149.15L170.19 148.54L169.70 147.94L169.21 147.33L168.72 146.73L168.22 146.13L167.73 145.53L167.23 144.93L166.73 144.33L166.23 143.74L165.73 143.15L165.22 142.56L164.71 141.97L164.20 141.38L163.69 140.80L163.18 140.21L162.66 139.63L162.14 139.06L161.62 138.48L161.09 137.91L160.56 137.34L160.04 136.77L159.50 136.21L158.97 135.65L158.43 135.09L157.89 134.53L157.34 133.98L156.80 133.43L156.25 132.88L155.69 132.34L155.14 131.80L154.58 131.26L154.01 130.73L153.45 130.20L152.88 129.67L152.30 129.15L151.72 128.63L151.14 128.12L150.56 127.61L149.97 127.10L149.38 126.60L148.78 126.10L148.18 125.61L147.58 125.12L146.97 124.63L146.36 124.15L145.75 123.67L145.13 123.20L144.52 122.72L143.90 122.25L143.27 121.78L142.65 121.32L142.02 120.85L141.40 120.39L140.77 119.92L140.14 119.46L139.51 119.00L138.88 118.54L138.25 118.07L137.62 117.61L136.99 117.15L136.36 116.68L135.73 116.22L135.11 115.75L134.48 115.29L133.86 114.82L133.23 114.34L132.61 113.87L132.00 113.39L131.38 112.91L130.77 112.43L130.16 111.94L129.55 111.45L128.95 110.96L128.35 110.46L127.75 109.95L127.16 109.45L126.57 108.94L125.99 108.42L125.41 107.90L124.84 107.37L124.27 106.84L123.71 106.31L123.15 105.77L122.59 105.22L122.05 104.67L121.51 104.12L120.97 103.56L120.44 102.99L119.92 102.42L119.40 101.84L118.90 101.26L118.39 100.67L117.90 100.08L117.41 99.48L116.93 98.87L116.46 98.26L116.00 97.64L115.54 97.02L115.09 96.39L114.65 95.75L114.22 95.11L113.80 94.46L113.39 93.80L112.99 93.13L112.60 92.46L112.21 91.79L111.84 91.10L111.47 90.41L111.12 89.71L110.78 89.00L110.45 88.29L110.13 87.57L109.82 86.84L109.52 86.11L109.24 85.38L108.97 84.64L108.71 83.89L108.46 83.14L108.23 82.39L108.02 81.63L107.82 80.87L107.63 80.10L107.46 79.34L107.30 78.57L107.16 77.79L107.04 77.02L106.93 76.25L106.84 75.47L106.77 74.69L106.72 73.92L106.68 73.14L106.67 72.36L106.67 71.59L106.69 70.81L106.73 70.04L106.79 69.27L106.87 68.49L106.97 67.73L107.09 66.96L107.23 66.20L107.39 65.44L107.57 64.69L107.77 63.94L107.99 63.19L108.23 62.46L108.48 61.73L108.76 61.00L109.05 60.29L109.36 59.58L109.69 58.88L110.03 58.19L110.40 57.51L110.78 56.84L111.18 56.18L111.59 55.53L112.03 54.90L112.48 54.27L112.95 53.66L113.43 53.07L113.93 52.48L114.45 51.91L114.98 51.36L115.53 50.82L116.09 50.30L116.67 49.79L117.27 49.30L117.88 48.83L118.51 48.37L119.15 47.93L119.80 47.51L120.47 47.11L121.15 46.72L121.84 46.36L122.54 46.01L123.25 45.67L123.97 45.36L124.70 45.06L125.44 44.78L126.18 44.51L126.94 44.26L127.70 44.03L128.46 43.82L129.23 43.63L130.01 43.45L130.79 43.29L131.57 43.14L132.35 43.02L133.14 42.91L133.93 42.81L134.72 42.74L135.51 42.68L136.30 42.64L137.09 42.62L137.87 42.61Z" fill="none" stroke="#c6c6c6" stroke-width="1"/>
<path d="M133.46 35.63L134.33 35.66L135.21 35.70L136.08 35.77L136.95 35.86L137.81 35.96L138.68 36.08L139.53 36.22L140.38 36.38L141.23 36.55L142.08 36.74L142.92 36.94L143.76 37.16L144.59 37.40L145.42 37.65L146.24 37.92L147.06 38.20L147.87 38.49L148.68 38.80L149.49 39.13L150.29 39.46L151.08 39.81L151.87 40.18L152.66 40.55L153.44 40.94L154.21 41.34L154.98 41.75L155.74 42.17L156.50 42.61L157.26 43.05L158.00 43.50L158.75 43.97L159.48 44.44L160.21 44.93L160.94 45.42L161.65 45.92L162.37 46.43L163.07 46.95L163.77 47.48L164.47 48.02L165.15 48.56L165.84 49.11L166.51 49.66L167.18 50.22L167.85 50.79L168.52 51.36L169.17 51.94L169.83 52.52L170.48 53.11L171.13 53.70L171.78 54.29L172.42 54.89L173.07 55.48L173.71 56.08L174.35 56.68L174.99 57.29L175.63 57.89L176.27 58.49L176.90 59.09L177.54 59.69L178.18 60.29L178.82 60.89L179.46 61.49L180.10 62.09L180.74 62.69L181.38 63.29L182.01 63.90L182.64 64.51L183.26 65.12L183.88 65.74L184.49 66.36L185.10 66.99L185.70 67.62L186.30 68.25L186.89 68.89L187.48 69.53L188.06 70.18L188.64 70.83L189.21 71.49L189.78 72.15L190.35 72.81L190.91 73.48L191.46 74.15L192.01 74.83L192.55 75.51L193.09 76.19L193.63 76.88L194.16 77.57L194.68 78.26L195.20 78.96L195.72 79.66L196.23 80.37L196.74 81.08L197.24 81.79L197.74 82.50L198.23 83.22L198.72 83.94L199.20 84.67L199.68 85.40L200.16 86.13L200.63 86.86L201.10 87.60L201.56 88.34L202.01 89.09L202.47 89.83L202.91 90.58L203.36 91.34L203.80 92.09L204.23 92.85L204.66 93.61L205.09 94.38L205.51 95.14L205.93 95.91L206.34 96.68L206.75 97.46L207.16 98.23L207.56 99.01L207.95 99.80L208.35 100.58L208.73 101.37L209.12 102.16L209.50 102.95L209.87 103.74L210.24 104.53L210.61 105.33L210.97 106.13L211.33 106.93L211.69 107.74L212.04 108.54L212.39 109.35L212.73 110.16L213.07 110.97L213.40 111.78L213.74 112.60L214.06 113.41L214.38 114.23L214.70 115.05L215.01 115.87L215.32 116.70L215.62 117.52L215.92 118.35L216.22 119.18L216.51 120.01L216.79 120.84L217.07 121.67L217.34 122.50L217.61 123.34L217.88 124.18L218.13 125.01L218.39 125.85L218.63 126.70L218.88 127.54L219.11 128.38L219.34 129.23L219.57 130.07L219.79 130.92L220.00 131.77L220.21 132.62L220.41 133.47L220.61 134.32L220.79 135.17L220.98 136.03L221.15 136.88L221.32 137.74L221.49 138.59L221.65 139.45L221.80 140.31L221.94 141.17L222.08 142.03L222.21 142.89L222.33 143.75L222.45 144.62L222.56 145.48L222.66 146.35L222.76 147.21L222.85 148.08L222.93 148.94L223.00 149.81L223.07 150.68L223.13 151.55L223.18 152.41L223.23 153.28L223.26 154.15L223.29 155.02L223.31 155.89L223.32 156.76L223.33 157.63L223.33 158.51L223.32 159.38L223.30 160.25L223.27 161.12L223.23 162.00L223.19 162.87L223.14 163.74L223.08 164.61L223.01 165.49L222.93 166.36L222.84 167.23L222.75 168.11L222.64 168.98L222.53 169.85L222.41 170.72L222.27 171.59L222.13 172.46L221.99 173.33L221.83 174.20L221.66 175.07L221.48 175.94L221.30 176.80L221.10 177.67L220.90 178.53L220.68 179.39L220.46 180.25L220.23 181.11L219.98 181.97L219.72 182.82L219.45 183.67L219.16 184.51L218.86 185.34L218.54 186.16L218.19 186.97L217.82 187.76L217.43 188.54L217.01 189.31L216.57 190.05L216.09 190.78L215.58 191.48L215.05 192.16L214.47 192.82L213.86 193.45L213.22 194.05L212.53 194.63L211.81 195.17L211.06 195.67L210.29 196.13L209.49 196.53L208.68 196.89L207.86 197.18L207.03 197.40L206.19 197.56L205.36 197.64L204.53 197.63L203.71 197.55L202.91 197.38L202.11 197.13L201.33 196.82L200.57 196.45L199.82 196.03L199.08 195.55L198.36 195.04L197.67 194.48L196.99 193.91L196.33 193.30L195.69 192.69L195.07 192.05L194.47 191.41L193.88 190.75L193.32 190.08L192.77 189.40L192.23 188.71L191.71 188.00L191.20 187.29L190.70 186.57L190.21 185.85L189.72 185.11L189.25 184.37L188.78 183.63L188.32 182.88L187.87 182.13L187.42 181.38L186.96 180.62L186.52 179.87L186.07 179.11L185.62 178.36L185.16 177.60L184.71 176.85L184.25 176.10L183.79 175.35L183.32 174.61L182.85 173.87L182.37 173.13L181.90 172.40L181.41 171.67L180.93 170.94L180.44 170.21L179.94 169.49L179.45 168.77L178.95 168.05L178.45 167.33L177.94 166.62L177.43 165.91L176.92 165.20L176.40 164.49L175.88 163.79L175.36 163.08L174.84 162.38L174.31 161.68L173.79 160.99L173.25 160.29L172.72 159.60L172.19 158.91L171.65 158.22L171.11 157.53L170.57 156.84L170.02 156.16L169.48 155.47L168.93 154.79L168.38 154.11L167.83 153.43L167.27 152.75L166.72 152.07L166.16 151.40L165.60 150.73L165.04 150.06L164.47 149.39L163.91 148.72L163.34 148.06L162.77 147.39L162.19 146.73L161.62 146.08L161.04 145.42L160.46 144.77L159.87 144.12L159.29 143.47L158.70 142.83L158.10 142.19L157.51 141.55L156.91 140.91L156.31 140.28L155.70 139.65L155.09 139.03L154.48 138.40L153.86 137.79L153.24 137.17L152.62 136.56L152.00 135.95L151.37 135.35L150.73 134.75L150.09 134.15L149.45 133.56L148.81 132.98L148.16 132.39L147.50 131.82L146.85 131.24L146.19 130.67L145.52 130.11L144.85 129.55L144.17 128.99L143.50 128.44L142.81 127.89L142.13 127.35L141.44 126.81L140.74 126.28L140.05 125.74L139.35 125.21L138.65 124.69L137.95 124.16L137.24 123.64L136.54 123.11L135.83 122.59L135.12 122.07L134.42 121.55L133.71 121.03L133.00 120.51L132.29 119.99L131.58 119.47L130.87 118.95L130.17 118.43L129.46 117.90L128.76 117.38L128.06 116.85L127.36 116.32L126.66 115.78L125.96 115.25L125.27 114.71L124.58 114.16L123.90 113.62L123.21 113.06L122.53 112.51L121.86 111.95L121.19 111.38L120.52 110.81L119.86 110.23L119.21 109.65L118.56 109.07L117.91 108.48L117.27 107.88L116.64 107.28L116.01 106.67L115.39 106.06L114.77 105.44L114.16 104.81L113.56 104.18L112.97 103.55L112.38 102.90L111.80 102.26L111.22 101.60L110.66 100.94L110.10 100.27L109.56 99.59L109.02 98.91L108.49 98.22L107.96 97.53L107.45 96.83L106.95 96.12L106.45 95.40L105.97 94.68L105.50 93.94L105.03 93.20L104.58 92.46L104.14 91.70L103.71 90.94L103.29 90.17L102.88 89.39L102.48 88.60L102.09 87.81L101.72 87.00L101.36 86.20L101.01 85.38L100.68 84.56L100.36 83.73L100.06 82.90L99.77 82.06L99.49 81.21L99.23 80.36L98.99 79.51L98.76 78.65L98.55 77.79L98.36 76.93L98.18 76.07L98.03 75.20L97.89 74.33L97.77 73.46L97.67 72.58L97.59 71.71L97.53 70.84L97.48 69.96L97.47 69.09L97.47 68.22L97.49 67.34L97.54 66.47L97.61 65.60L97.70 64.74L97.81 63.87L97.95 63.01L98.11 62.15L98.29 61.30L98.49 60.45L98.71 59.61L98.96 58.77L99.22 57.94L99.51 57.12L99.82 56.31L100.15 55.50L100.49 54.71L100.86 53.92L101.25 53.15L101.66 52.38L102.09 51.63L102.54 50.89L103.01 50.16L103.50 49.44L104.01 48.74L104.53 48.05L105.08 47.38L105.64 46.72L106.22 46.08L106.82 45.46L107.44 44.85L108.07 44.26L108.73 43.69L109.40 43.14L110.08 42.61L110.79 42.10L111.51 41.61L112.24 41.13L112.99 40.68L113.76 40.25L114.53 39.83L115.32 39.44L116.12 39.06L116.93 38.71L117.75 38.37L118.58 38.05L119.42 37.76L120.27 37.48L121.12 37.22L121.99 36.98L122.85 36.76L123.73 36.56L124.60 36.38L125.48 36.22L126.37 36.07L127.25 35.95L128.14 35.85L129.03 35.76L129.91 35.70L130.80 35.65L131.69 35.62L132.57 35.61Z" fill="none" stroke="#c6c6c6" stroke-width="1"/>
<line x1="60.2" y1="122.8" x2="209.4" y2="102.5" stroke="#b0b0b0" stroke-width="3.4"/>
<path d="M137.70 33.50C138.18 34.17 140.08 36.10 140.60 37.50C141.12 38.90 141.00 40.52 140.80 41.90C140.60 43.28 139.55 44.50 139.40 45.80C139.25 47.10 139.33 48.40 139.90 49.70C140.47 51.00 141.35 52.15 142.80 53.60C144.25 55.05 146.17 56.47 148.60 58.40C151.03 60.33 154.48 63.08 157.40 65.20C160.32 67.32 163.35 69.08 166.10 71.10C168.85 73.12 171.58 75.53 173.90 77.30C176.22 79.07 178.02 80.32 180.00 81.70C181.98 83.08 183.85 84.18 185.80 85.60C187.75 87.02 190.27 89.27 191.70 90.20C193.13 91.13 193.68 91.32 194.40 91.20C195.12 91.08 195.63 90.20 196.00 89.50C196.37 88.80 196.23 87.52 196.60 87.00C196.97 86.48 197.53 86.15 198.20 86.40C198.87 86.65 199.67 87.58 200.60 88.50C201.53 89.42 203.27 91.33 203.80 91.90" fill="none" stroke="#2848f0" stroke-width="1.6" stroke-linecap="round" stroke-linejoin="round"/>
<path d="M122.50 33.50C122.95 34.27 124.53 36.17 125.20 38.10C125.87 40.03 126.17 42.95 126.50 45.10C126.83 47.25 126.50 49.25 127.20 51.00C127.90 52.75 128.95 53.85 130.70 55.60C132.45 57.35 135.68 59.90 137.70 61.50C139.72 63.10 140.65 63.60 142.80 65.20C144.95 66.80 147.85 69.08 150.60 71.10C153.35 73.12 156.07 74.98 159.30 77.30C162.53 79.62 166.55 82.57 170.00 85.00C173.45 87.43 177.03 89.85 180.00 91.90C182.97 93.95 185.37 95.40 187.80 97.30C190.23 99.20 192.48 101.52 194.60 103.30C196.72 105.08 198.77 106.67 200.50 108.00C202.23 109.33 203.83 110.83 205.00 111.30C206.17 111.77 206.73 111.25 207.50 110.80C208.27 110.35 208.88 108.73 209.60 108.60C210.32 108.47 211.10 109.43 211.80 110.00C212.50 110.57 213.47 111.67 213.80 112.00" fill="none" stroke="#1e64f8" stroke-width="1.6" stroke-linecap="round" stroke-linejoin="round"/>
<path d="M111.40 37.00C111.98 37.97 114.02 40.47 114.90 42.80C115.78 45.13 115.82 48.28 116.70 51.00C117.58 53.72 118.45 56.57 120.20 59.10C121.95 61.63 124.70 64.13 127.20 66.20C129.70 68.27 132.12 69.65 135.20 71.50C138.28 73.35 142.48 75.00 145.70 77.30C148.92 79.60 151.42 82.82 154.50 85.30C157.58 87.78 160.65 89.70 164.20 92.20C167.75 94.70 172.22 97.98 175.80 100.30C179.38 102.62 182.45 103.83 185.70 106.10C188.95 108.37 192.25 111.30 195.30 113.90C198.35 116.50 201.30 119.47 204.00 121.70C206.70 123.93 209.72 126.57 211.50 127.30C213.28 128.03 213.67 126.22 214.70 126.10C215.73 125.98 216.88 126.20 217.70 126.60C218.52 127.00 219.28 128.18 219.60 128.50" fill="none" stroke="#1890ff" stroke-width="1.6" stroke-linecap="round" stroke-linejoin="round"/>
<path d="M102.10 43.40C102.78 44.47 105.03 47.57 106.20 49.80C107.37 52.03 107.93 54.47 109.10 56.80C110.27 59.13 111.15 61.27 113.20 63.80C115.25 66.33 118.48 69.67 121.40 72.00C124.32 74.33 127.60 75.93 130.70 77.80C133.80 79.67 136.03 80.77 140.00 83.20C143.97 85.63 150.33 89.50 154.50 92.40C158.67 95.30 162.42 98.80 165.00 100.60C167.58 102.40 167.55 101.87 170.00 103.20C172.45 104.53 176.45 106.47 179.70 108.60C182.95 110.73 186.25 113.17 189.50 116.00C192.75 118.83 196.28 122.70 199.20 125.60C202.12 128.50 204.73 131.20 207.00 133.40C209.27 135.60 211.18 137.87 212.80 138.80C214.42 139.73 215.48 138.85 216.70 139.00C217.92 139.15 219.13 139.27 220.10 139.70C221.07 140.13 222.10 141.28 222.50 141.60" fill="none" stroke="#14c0f8" stroke-width="1.6" stroke-linecap="round" stroke-linejoin="round"/>
<path d="M94.30 53.30C95.12 54.27 97.42 56.95 99.20 59.10C100.98 61.25 103.07 63.97 105.00 66.20C106.93 68.43 108.47 70.53 110.80 72.50C113.13 74.47 116.07 76.17 119.00 78.00C121.93 79.83 125.73 81.95 128.40 83.50C131.07 85.05 132.28 85.82 135.00 87.30C137.72 88.78 141.45 90.42 144.70 92.40C147.95 94.38 151.12 96.88 154.50 99.20C157.88 101.52 162.42 104.65 165.00 106.30C167.58 107.95 167.55 107.67 170.00 109.10C172.45 110.53 176.45 112.48 179.70 114.90C182.95 117.32 186.58 120.68 189.50 123.60C192.42 126.52 194.62 129.32 197.20 132.40C199.78 135.48 202.95 139.75 205.00 142.10C207.05 144.45 207.78 145.03 209.50 146.50C211.22 147.97 213.72 149.98 215.30 150.90C216.88 151.82 217.73 151.68 219.00 152.00C220.27 152.32 222.25 152.67 222.90 152.80" fill="none" stroke="#10e0f0" stroke-width="1.6" stroke-linecap="round" stroke-linejoin="round"/>
<path d="M93.30 70.20C94.28 70.50 97.05 70.92 99.20 72.00C101.35 73.08 103.87 75.20 106.20 76.70C108.53 78.20 110.23 79.47 113.20 81.00C116.17 82.53 120.37 83.93 124.00 85.90C127.63 87.87 131.55 90.92 135.00 92.80C138.45 94.68 141.45 95.43 144.70 97.20C147.95 98.97 151.12 101.15 154.50 103.40C157.88 105.65 162.42 108.87 165.00 110.70C167.58 112.53 167.55 112.57 170.00 114.40C172.45 116.23 176.45 118.70 179.70 121.70C182.95 124.70 186.58 129.00 189.50 132.40C192.42 135.80 194.95 139.25 197.20 142.10C199.45 144.95 201.23 147.62 203.00 149.50C204.77 151.38 206.30 151.98 207.80 153.40C209.30 154.82 210.75 156.73 212.00 158.00C213.25 159.27 214.13 160.08 215.30 161.00C216.47 161.92 217.73 162.77 219.00 163.50C220.27 164.23 222.25 165.08 222.90 165.40" fill="none" stroke="#1ee8b8" stroke-width="1.6" stroke-linecap="round" stroke-linejoin="round"/>
<path d="M97.60 84.40C98.58 84.40 101.38 84.00 103.50 84.40C105.62 84.80 108.03 85.75 110.30 86.80C112.57 87.85 114.82 89.48 117.10 90.70C119.38 91.92 121.02 92.85 124.00 94.10C126.98 95.35 131.55 96.87 135.00 98.20C138.45 99.53 141.45 100.48 144.70 102.10C147.95 103.72 151.12 105.55 154.50 107.90C157.88 110.25 162.42 114.22 165.00 116.20C167.58 118.18 167.55 117.75 170.00 119.80C172.45 121.85 176.45 125.10 179.70 128.50C182.95 131.90 186.58 136.57 189.50 140.20C192.42 143.83 195.00 147.50 197.20 150.30C199.40 153.10 200.52 154.17 202.70 157.00C204.88 159.83 207.77 164.73 210.30 167.30C212.83 169.87 215.90 171.03 217.90 172.40C219.90 173.77 221.57 174.98 222.30 175.50" fill="none" stroke="#20e890" stroke-width="1.6" stroke-linecap="round" stroke-linejoin="round"/>
<path d="M103.19 92.21C104.32 92.24 107.54 91.95 109.94 92.40C112.34 92.84 115.12 93.81 117.61 94.87C120.10 95.93 121.94 97.46 124.88 98.77C127.82 100.07 131.92 101.40 135.24 102.68C138.57 103.97 141.62 104.92 144.84 106.48C148.06 108.03 151.19 109.69 154.55 112.01C157.91 114.33 161.69 117.73 165.00 120.40C168.31 123.07 171.40 125.40 174.40 128.00C177.40 130.60 180.40 133.33 183.00 136.00C185.60 138.67 187.75 141.08 190.00 144.00C192.25 146.92 194.83 150.83 196.50 153.50C198.17 156.17 198.50 157.50 200.00 160.00C201.50 162.50 203.75 165.78 205.50 168.50C207.25 171.22 208.72 173.95 210.50 176.30C212.28 178.65 214.55 180.78 216.20 182.60C217.85 184.42 219.70 186.43 220.40 187.20" fill="none" stroke="#22e868" stroke-width="1.6" stroke-linecap="round" stroke-linejoin="round"/>
<path d="M108.83 98.62C109.95 98.59 112.90 97.84 115.57 98.43C118.24 99.02 121.56 100.82 124.83 102.15C128.11 103.48 131.87 105.12 135.20 106.44C138.53 107.76 141.59 108.54 144.81 110.08C148.03 111.62 151.17 113.31 154.54 115.66C157.90 118.02 161.69 121.36 165.00 124.20C168.31 127.04 171.57 129.82 174.40 132.70C177.23 135.58 179.40 138.45 182.00 141.50C184.60 144.55 187.70 148.00 190.00 151.00C192.30 154.00 193.88 156.53 195.80 159.50C197.72 162.47 199.75 165.60 201.50 168.80C203.25 172.00 204.58 175.75 206.30 178.70C208.02 181.65 210.23 183.92 211.80 186.50C213.37 189.08 215.05 192.92 215.70 194.20" fill="none" stroke="#24e844" stroke-width="1.6" stroke-linecap="round" stroke-linejoin="round"/>
<path d="M112.09 104.55C113.13 104.49 116.23 103.92 118.35 104.19C120.46 104.46 121.97 105.15 124.77 106.17C127.58 107.19 131.83 109.01 135.16 110.30C138.50 111.58 141.56 112.35 144.78 113.89C148.01 115.42 151.15 117.17 154.52 119.52C157.89 121.87 161.42 124.59 165.00 128.00C168.58 131.41 172.95 136.50 176.00 140.00C179.05 143.50 180.97 145.95 183.30 149.00C185.63 152.05 187.85 154.83 190.00 158.30C192.15 161.77 194.25 166.15 196.20 169.80C198.15 173.45 199.85 176.95 201.70 180.20C203.55 183.45 205.70 185.97 207.30 189.30C208.90 192.63 210.63 198.38 211.30 200.20" fill="none" stroke="#28e824" stroke-width="1.6" stroke-linecap="round" stroke-linejoin="round"/>
<path d="M118.26 109.42C119.34 109.44 121.92 108.82 124.73 109.56C127.54 110.29 131.78 112.50 135.12 113.84C138.46 115.18 141.52 116.00 144.76 117.59C147.99 119.18 151.13 121.09 154.51 123.38C157.88 125.66 161.42 127.95 165.00 131.30C168.58 134.65 173.08 139.97 176.00 143.50C178.92 147.03 180.57 149.75 182.50 152.50C184.43 155.25 186.10 157.50 187.60 160.00C189.10 162.50 190.32 164.90 191.50 167.50C192.68 170.10 193.22 172.43 194.70 175.60C196.18 178.77 198.60 182.40 200.40 186.50C202.20 190.60 204.65 197.92 205.50 200.20" fill="none" stroke="#50ee1e" stroke-width="1.6" stroke-linecap="round" stroke-linejoin="round"/>
<path d="M122.57 114.07C123.50 114.12 126.06 113.85 128.14 114.37C130.23 114.88 132.32 116.01 135.09 117.18C137.85 118.35 141.49 119.68 144.73 121.40C147.96 123.12 151.95 125.80 154.50 127.50C157.05 129.20 158.25 130.32 160.00 131.60C161.75 132.88 163.00 133.38 165.00 135.20C167.00 137.02 169.50 139.47 172.00 142.50C174.50 145.53 177.92 150.48 180.00 153.40C182.08 156.32 182.90 157.23 184.50 160.00C186.10 162.77 188.12 166.83 189.60 170.00C191.08 173.17 192.30 176.33 193.40 179.00C194.50 181.67 195.30 183.70 196.20 186.00C197.10 188.30 198.03 190.47 198.80 192.80C199.57 195.13 200.47 198.80 200.80 200.00" fill="none" stroke="#84f01a" stroke-width="1.6" stroke-linecap="round" stroke-linejoin="round"/>
<path d="M128.18 119.21C129.14 119.29 131.21 118.71 133.96 119.67C136.71 120.64 141.28 123.11 144.70 125.00C148.12 126.89 151.95 129.45 154.50 131.00C157.05 132.55 158.25 133.17 160.00 134.30C161.75 135.43 163.17 136.15 165.00 137.80C166.83 139.45 169.00 141.75 171.00 144.20C173.00 146.65 175.18 149.87 177.00 152.50C178.82 155.13 180.23 157.08 181.90 160.00C183.57 162.92 185.62 167.12 187.00 170.00C188.38 172.88 189.22 174.95 190.20 177.30C191.18 179.65 192.03 181.83 192.90 184.10C193.77 186.37 194.65 188.55 195.40 190.90C196.15 193.25 197.07 196.98 197.40 198.20" fill="none" stroke="#c0f018" stroke-width="1.6" stroke-linecap="round" stroke-linejoin="round"/>
<path d="M133.61 124.48C134.62 124.50 137.47 123.92 139.70 124.59C141.94 125.26 144.53 127.01 147.00 128.50C149.47 129.99 152.33 132.08 154.50 133.50C156.67 134.92 158.25 135.80 160.00 137.00C161.75 138.20 163.25 139.00 165.00 140.70C166.75 142.40 168.67 144.78 170.50 147.20C172.33 149.62 174.48 153.07 176.00 155.20C177.52 157.33 178.15 157.53 179.60 160.00C181.05 162.47 183.37 167.25 184.70 170.00C186.03 172.75 186.73 174.50 187.60 176.50C188.47 178.50 189.13 180.08 189.90 182.00C190.67 183.92 191.52 185.87 192.20 188.00C192.88 190.13 193.70 193.67 194.00 194.80" fill="none" stroke="#eef018" stroke-width="1.6" stroke-linecap="round" stroke-linejoin="round"/>
<path d="M139.80 129.60C140.95 129.92 144.25 130.53 146.70 131.50C149.15 132.47 152.28 134.03 154.50 135.40C156.72 136.77 158.25 138.35 160.00 139.70C161.75 141.05 163.33 141.87 165.00 143.50C166.67 145.13 168.17 147.12 170.00 149.50C171.83 151.88 174.43 155.28 176.00 157.80C177.57 160.32 178.35 162.33 179.40 164.60C180.45 166.87 181.32 169.13 182.30 171.40C183.28 173.67 184.40 176.08 185.30 178.20C186.20 180.32 186.90 182.07 187.70 184.10C188.50 186.13 189.70 189.35 190.10 190.40" fill="none" stroke="#fad428" stroke-width="1.6" stroke-linecap="round" stroke-linejoin="round"/>
<path d="M145.60 135.40C146.58 135.73 149.10 136.17 151.50 137.40C153.90 138.63 157.58 141.03 160.00 142.80C162.42 144.57 164.17 146.05 166.00 148.00C167.83 149.95 169.33 152.22 171.00 154.50C172.67 156.78 174.77 159.53 176.00 161.70C177.23 163.87 177.58 165.55 178.40 167.50C179.22 169.45 180.08 171.45 180.90 173.40C181.72 175.35 182.50 177.33 183.30 179.20C184.10 181.07 185.30 183.70 185.70 184.60" fill="none" stroke="#fcb03c" stroke-width="1.6" stroke-linecap="round" stroke-linejoin="round"/>
<path d="M153.50 143.30C154.47 143.80 157.38 144.93 159.30 146.30C161.22 147.67 163.22 149.63 165.00 151.50C166.78 153.37 168.50 155.58 170.00 157.50C171.50 159.42 172.83 161.17 174.00 163.00C175.17 164.83 176.18 166.77 177.00 168.50C177.82 170.23 178.17 171.70 178.90 173.40C179.63 175.10 180.98 177.82 181.40 178.70" fill="none" stroke="#fa8a3c" stroke-width="1.6" stroke-linecap="round" stroke-linejoin="round"/>
<path d="M165.30 156.50C166.08 157.37 168.68 159.92 170.00 161.70C171.32 163.48 172.67 166.28 173.20 167.20" fill="none" stroke="#f25038" stroke-width="1.6" stroke-linecap="round" stroke-linejoin="round"/>
<path d="M128.10 28.67L129.07 28.71L130.04 28.76L131.01 28.84L131.98 28.93L132.94 29.05L133.89 29.18L134.85 29.34L135.79 29.51L136.74 29.70L137.68 29.91L138.61 30.14L139.54 30.38L140.46 30.64L141.38 30.92L142.30 31.22L143.21 31.53L144.11 31.86L145.01 32.20L145.91 32.56L146.80 32.94L147.68 33.33L148.56 33.73L149.43 34.15L150.30 34.58L151.16 35.02L152.01 35.48L152.86 35.95L153.70 36.43L154.54 36.92L155.37 37.43L156.20 37.94L157.01 38.47L157.82 39.01L158.63 39.56L159.43 40.11L160.22 40.68L161.00 41.26L161.78 41.85L162.55 42.44L163.31 43.04L164.07 43.65L164.82 44.27L165.57 44.89L166.31 45.52L167.05 46.16L167.78 46.80L168.51 47.45L169.24 48.10L169.96 48.75L170.68 49.41L171.39 50.07L172.11 50.74L172.82 51.40L173.53 52.07L174.24 52.74L174.95 53.41L175.66 54.08L176.37 54.75L177.08 55.41L177.79 56.08L178.50 56.75L179.21 57.41L179.92 58.08L180.63 58.75L181.34 59.41L182.04 60.09L182.74 60.76L183.43 61.44L184.12 62.13L184.80 62.82L185.47 63.52L186.14 64.22L186.81 64.92L187.47 65.63L188.12 66.35L188.77 67.07L189.41 67.79L190.05 68.52L190.68 69.26L191.31 69.99L191.93 70.74L192.54 71.48L193.15 72.23L193.76 72.99L194.36 73.75L194.95 74.51L195.54 75.28L196.13 76.05L196.71 76.82L197.28 77.60L197.85 78.39L198.41 79.17L198.97 79.96L199.52 80.76L200.07 81.56L200.61 82.36L201.15 83.17L201.68 83.98L202.21 84.79L202.73 85.61L203.25 86.43L203.76 87.25L204.27 88.08L204.77 88.90L205.27 89.74L205.76 90.57L206.25 91.41L206.74 92.26L207.21 93.10L207.69 93.95L208.16 94.80L208.62 95.66L209.08 96.52L209.53 97.38L209.98 98.24L210.43 99.10L210.87 99.97L211.31 100.84L211.74 101.72L212.16 102.59L212.59 103.47L213.00 104.35L213.42 105.24L213.82 106.12L214.23 107.01L214.63 107.90L215.02 108.80L215.41 109.69L215.80 110.59L216.18 111.49L216.56 112.39L216.93 113.29L217.29 114.20L217.66 115.10L218.01 116.01L218.37 116.92L218.71 117.84L219.06 118.75L219.39 119.67L219.73 120.59L220.05 121.51L220.37 122.43L220.69 123.35L221.00 124.28L221.30 125.20L221.60 126.13L221.90 127.06L222.18 127.99L222.46 128.93L222.74 129.86L223.01 130.80L223.27 131.73L223.53 132.67L223.78 133.61L224.02 134.55L224.26 135.50L224.49 136.44L224.71 137.39L224.93 138.33L225.14 139.28L225.34 140.23L225.54 141.18L225.73 142.13L225.91 143.08L226.08 144.04L226.25 144.99L226.41 145.95L226.57 146.90L226.71 147.86L226.85 148.82L226.98 149.78L227.10 150.73L227.21 151.70L227.32 152.66L227.42 153.62L227.51 154.58L227.59 155.54L227.67 156.51L227.73 157.47L227.79 158.44L227.84 159.40L227.88 160.37L227.91 161.34L227.94 162.30L227.95 163.27L227.96 164.24L227.95 165.21L227.94 166.18L227.92 167.14L227.89 168.11L227.85 169.08L227.80 170.05L227.74 171.02L227.67 171.99L227.60 172.96L227.51 173.93L227.41 174.90L227.31 175.87L227.19 176.84L227.06 177.81L226.93 178.78L226.78 179.75L226.63 180.71L226.46 181.68L226.29 182.65L226.10 183.61L225.90 184.57L225.70 185.54L225.48 186.50L225.25 187.46L225.01 188.42L224.77 189.37L224.51 190.33L224.23 191.28L223.95 192.23L223.65 193.17L223.33 194.10L222.99 195.02L222.63 195.93L222.24 196.83L221.84 197.71L221.40 198.58L220.94 199.43L220.44 200.26L219.91 201.06L219.35 201.84L218.75 202.60L218.11 203.33L217.44 204.03L216.72 204.71L215.96 205.34L215.16 205.94L214.33 206.50L213.47 207.01L212.58 207.46L211.68 207.85L210.76 208.17L209.84 208.43L208.91 208.60L207.99 208.68L207.07 208.68L206.16 208.58L205.26 208.40L204.38 208.13L203.51 207.78L202.66 207.37L201.83 206.90L201.01 206.37L200.22 205.80L199.44 205.18L198.68 204.54L197.95 203.87L197.24 203.19L196.55 202.48L195.88 201.77L195.24 201.03L194.61 200.29L194.00 199.53L193.40 198.76L192.82 197.98L192.25 197.19L191.69 196.39L191.15 195.58L190.62 194.77L190.09 193.95L189.57 193.12L189.06 192.29L188.55 191.46L188.05 190.62L187.55 189.78L187.05 188.94L186.55 188.10L186.05 187.26L185.55 186.42L185.04 185.59L184.53 184.76L184.02 183.93L183.50 183.10L182.98 182.28L182.45 181.46L181.92 180.65L181.38 179.83L180.84 179.02L180.30 178.22L179.75 177.41L179.20 176.61L178.64 175.81L178.08 175.02L177.52 174.22L176.96 173.43L176.39 172.64L175.81 171.86L175.24 171.07L174.66 170.29L174.08 169.51L173.49 168.74L172.91 167.96L172.32 167.19L171.72 166.42L171.13 165.65L170.53 164.88L169.93 164.12L169.33 163.36L168.72 162.60L168.12 161.84L167.51 161.08L166.90 160.32L166.28 159.57L165.67 158.81L165.05 158.06L164.43 157.31L163.81 156.56L163.19 155.82L162.56 155.08L161.93 154.33L161.30 153.60L160.66 152.86L160.03 152.13L159.39 151.40L158.74 150.67L158.10 149.94L157.45 149.22L156.80 148.50L156.14 147.79L155.48 147.07L154.82 146.36L154.15 145.66L153.48 144.96L152.81 144.26L152.13 143.56L151.45 142.87L150.77 142.19L150.08 141.50L149.39 140.82L148.69 140.15L147.99 139.48L147.29 138.81L146.58 138.15L145.87 137.49L145.15 136.84L144.43 136.19L143.70 135.55L142.97 134.91L142.24 134.28L141.50 133.65L140.75 133.03L140.00 132.41L139.25 131.80L138.49 131.19L137.73 130.59L136.96 129.99L136.19 129.40L135.42 128.80L134.64 128.21L133.87 127.63L133.09 127.04L132.30 126.46L131.52 125.88L130.74 125.30L129.95 124.72L129.16 124.15L128.37 123.57L127.59 122.99L126.80 122.41L126.01 121.84L125.23 121.26L124.44 120.68L123.66 120.09L122.88 119.51L122.10 118.92L121.32 118.33L120.54 117.74L119.77 117.14L119.00 116.54L118.23 115.94L117.47 115.33L116.71 114.71L115.96 114.10L115.21 113.47L114.47 112.84L113.73 112.21L112.99 111.57L112.26 110.92L111.54 110.27L110.82 109.62L110.11 108.95L109.41 108.29L108.71 107.61L108.02 106.93L107.33 106.24L106.66 105.55L105.99 104.85L105.33 104.14L104.68 103.43L104.03 102.71L103.39 101.98L102.77 101.24L102.15 100.50L101.54 99.75L100.94 98.99L100.35 98.23L99.77 97.45L99.20 96.67L98.64 95.89L98.09 95.09L97.56 94.28L97.03 93.47L96.51 92.65L96.01 91.82L95.52 90.98L95.04 90.13L94.57 89.28L94.12 88.41L93.68 87.54L93.25 86.65L92.83 85.76L92.43 84.86L92.05 83.95L91.68 83.04L91.32 82.12L90.98 81.19L90.66 80.26L90.36 79.32L90.07 78.38L89.80 77.43L89.54 76.48L89.31 75.53L89.10 74.57L88.90 73.61L88.73 72.64L88.57 71.68L88.44 70.71L88.33 69.74L88.24 68.77L88.17 67.80L88.13 66.83L88.11 65.85L88.11 64.88L88.14 63.92L88.19 62.95L88.26 61.98L88.36 61.02L88.49 60.06L88.64 59.10L88.82 58.15L89.02 57.20L89.24 56.26L89.49 55.32L89.76 54.39L90.06 53.47L90.38 52.56L90.72 51.65L91.08 50.76L91.47 49.88L91.88 49.00L92.32 48.14L92.77 47.29L93.25 46.45L93.75 45.63L94.27 44.82L94.81 44.02L95.37 43.24L95.96 42.48L96.56 41.73L97.19 41.00L97.83 40.29L98.50 39.60L99.19 38.92L99.89 38.27L100.62 37.64L101.36 37.02L102.13 36.43L102.91 35.86L103.71 35.32L104.53 34.79L105.36 34.29L106.21 33.81L107.07 33.35L107.95 32.91L108.83 32.49L109.74 32.10L110.65 31.72L111.57 31.37L112.50 31.04L113.44 30.73L114.39 30.44L115.35 30.18L116.31 29.93L117.28 29.71L118.26 29.51L119.24 29.33L120.22 29.17L121.20 29.03L122.19 28.92L123.17 28.82L124.16 28.75L125.15 28.70L126.13 28.67L127.12 28.66Z" fill="none" stroke="#111" stroke-width="1.5"/>
<path d="M40.8 24.5H288.6V216.5" fill="none" stroke="#b4b4b4" stroke-width="1.1"/>
<path d="M47.00 216.5v-4M53.20 216.5v-4M59.40 216.5v-4M65.60 216.5v-4M71.80 216.5v-4M78.00 216.5v-4M84.20 216.5v-4M90.40 216.5v-8.5M96.60 216.5v-4M102.80 216.5v-4M109.00 216.5v-4M115.20 216.5v-4M121.40 216.5v-4M127.60 216.5v-4M133.80 216.5v-4M140.00 216.5v-4M146.20 216.5v-4M152.40 216.5v-8.5M158.60 216.5v-4M164.80 216.5v-4M171.00 216.5v-4M177.20 216.5v-4M183.40 216.5v-4M189.60 216.5v-4M195.80 216.5v-4M202.00 216.5v-4M208.20 216.5v-4M214.40 216.5v-8.5M220.60 216.5v-4M226.80 216.5v-4M233.00 216.5v-4M239.20 216.5v-4M245.40 216.5v-4M251.60 216.5v-4M257.80 216.5v-4M264.00 216.5v-4M270.20 216.5v-4M276.40 216.5v-8.5M282.60 216.5v-4M40.8 211.94h4.8M40.8 206.98h4.8M40.8 202.02h4.8M40.8 197.06h4.8M40.8 192.10h9M40.8 187.14h4.8M40.8 182.18h4.8M40.8 177.22h4.8M40.8 172.26h4.8M40.8 167.30h4.8M40.8 162.34h4.8M40.8 157.38h4.8M40.8 152.42h4.8M40.8 147.46h4.8M40.8 142.50h9M40.8 137.54h4.8M40.8 132.58h4.8M40.8 127.62h4.8M40.8 122.66h4.8M40.8 117.70h4.8M40.8 112.74h4.8M40.8 107.78h4.8M40.8 102.82h4.8M40.8 97.86h4.8M40.8 92.90h9M40.8 87.94h4.8M40.8 82.98h4.8M40.8 78.02h4.8M40.8 73.06h4.8M40.8 68.10h4.8M40.8 63.14h4.8M40.8 58.18h4.8M40.8 53.22h4.8M40.8 48.26h4.8M40.8 43.30h9M40.8 38.34h4.8M40.8 33.38h4.8M40.8 28.42h4.8" stroke="#333" stroke-width="1.1" fill="none"/>
<path d="M40.8 24.5V216.5" fill="none" stroke="#858585" stroke-width="1.6"/>
<path d="M40.0 216.5H288.6" fill="none" stroke="#404040" stroke-width="1.3"/>
<line x1="290.2" y1="24.50" x2="305.9" y2="24.50" stroke="#e81e2a" stroke-width="1.6"/>
<line x1="290.2" y1="34.61" x2="313.7" y2="34.61" stroke="#f25038" stroke-width="1.6"/>
<line x1="290.2" y1="44.72" x2="305.9" y2="44.72" stroke="#fa8a3c" stroke-width="1.6"/>
<line x1="290.2" y1="54.83" x2="313.7" y2="54.83" stroke="#fcb03c" stroke-width="1.6"/>
<line x1="290.2" y1="64.94" x2="305.9" y2="64.94" stroke="#fad428" stroke-width="1.6"/>
<line x1="290.2" y1="75.05" x2="313.7" y2="75.05" stroke="#eef018" stroke-width="1.6"/>
<line x1="290.2" y1="85.16" x2="305.9" y2="85.16" stroke="#c0f018" stroke-width="1.6"/>
<line x1="290.2" y1="95.27" x2="313.7" y2="95.27" stroke="#84f01a" stroke-width="1.6"/>
<line x1="290.2" y1="105.38" x2="305.9" y2="105.38" stroke="#50ee1e" stroke-width="1.6"/>
<line x1="290.2" y1="115.49" x2="313.7" y2="115.49" stroke="#28e824" stroke-width="1.6"/>
<line x1="290.2" y1="125.61" x2="305.9" y2="125.61" stroke="#24e844" stroke-width="1.6"/>
<line x1="290.2" y1="135.72" x2="313.7" y2="135.72" stroke="#22e868" stroke-width="1.6"/>
<line x1="290.2" y1="145.83" x2="305.9" y2="145.83" stroke="#20e890" stroke-width="1.6"/>
<line x1="290.2" y1="155.94" x2="313.7" y2="155.94" stroke="#1ee8b8" stroke-width="1.6"/>
<line x1="290.2" y1="166.05" x2="305.9" y2="166.05" stroke="#10e0f0" stroke-width="1.6"/>
<line x1="290.2" y1="176.16" x2="313.7" y2="176.16" stroke="#14c0f8" stroke-width="1.6"/>
<line x1="290.2" y1="186.27" x2="305.9" y2="186.27" stroke="#1890ff" stroke-width="1.6"/>
<line x1="290.2" y1="196.38" x2="313.7" y2="196.38" stroke="#1e64f8" stroke-width="1.6"/>
<line x1="290.2" y1="206.49" x2="305.9" y2="206.49" stroke="#2848f0" stroke-width="1.6"/>
<line x1="290.2" y1="216.60" x2="313.7" y2="216.60" stroke="#3c3ce8" stroke-width="1.6"/>
<text class="cb" x="321.5" y="39.61" font-size="14.4">2.7878</text>
<text class="cb" x="321.5" y="59.83" font-size="14.4">2.7301</text>
<text class="cb" x="321.5" y="80.05" font-size="14.4">2.6723</text>
<text class="cb" x="321.5" y="100.27" font-size="14.4">2.6145</text>
<text class="cb" x="321.5" y="120.49" font-size="14.4">2.5567</text>
<text class="cb" x="321.5" y="140.72" font-size="14.4">2.4989</text>
<text class="cb" x="321.5" y="160.94" font-size="14.4">2.4411</text>
<text class="cb" x="321.5" y="181.16" font-size="14.4">2.3833</text>
<text class="cb" x="321.5" y="201.38" font-size="14.4">2.3255</text>
<text class="cb" x="321.5" y="221.60" font-size="14.4">2.2678</text>
<text class="lt" x="37.5" y="47.60" font-size="14.4" text-anchor="end">0.8</text>
<text class="lt" x="37.5" y="97.20" font-size="14.4" text-anchor="end">0.4</text>
<text class="lt" x="37.5" y="146.80" font-size="14.4" text-anchor="end">0</text>
<text class="lt" x="37.5" y="196.40" font-size="14.4" text-anchor="end">-0.4</text>
<text class="lt" x="90.40" y="232.8" font-size="14.4" text-anchor="middle">5</text>
<text class="lt" x="152.40" y="232.8" font-size="14.4" text-anchor="middle">5.5</text>
<text class="lt" x="214.40" y="232.8" font-size="14.4" text-anchor="middle">6</text>
<text class="lt" x="276.40" y="232.8" font-size="14.4" text-anchor="middle">6.5</text>
<text x="164.9" y="246.1" font-size="14.4" text-anchor="middle">R</text>
<text class="lt" x="-0.7" y="121" font-size="14.4">Z</text>
<path d="M136.2 0V16.7" stroke="#000" stroke-width="1.2"/><ellipse cx="135.9" cy="9.15" rx="3.5" ry="3.75" fill="none" stroke="#000" stroke-width="1.05"/><text class="lt" x="141.1" y="13.1" font-size="14">=232.14</text><ellipse cx="196.05" cy="3.4" rx="2.85" ry="3.2" fill="none" stroke="#000" stroke-width="1.2"/>
</g>
<g transform="translate(0,0)">
<path d="M441.60 63.30C448.00 63.50 466.93 63.58 480.00 64.50C493.07 65.42 511.67 67.92 520.00 68.80C528.33 69.68 526.67 69.52 530.00 69.80C533.33 70.08 536.87 70.48 540.00 70.50C543.13 70.52 545.87 70.38 548.80 69.90C551.73 69.42 554.45 68.82 557.60 67.60C560.75 66.38 564.97 63.97 567.70 62.60C570.43 61.23 572.12 60.08 574.00 59.40C575.88 58.72 577.33 58.40 579.00 58.50C580.67 58.60 582.53 59.12 584.00 60.00C585.47 60.88 586.53 61.90 587.80 63.80C589.07 65.70 590.35 68.67 591.60 71.40C592.85 74.13 594.05 77.07 595.30 80.20C596.55 83.33 597.87 86.35 599.10 90.20C600.33 94.05 601.40 98.33 602.70 103.30C604.00 108.27 605.18 114.58 606.90 120.00C608.62 125.42 611.10 130.83 613.00 135.80C614.90 140.77 616.55 145.13 618.30 149.80C620.05 154.47 621.75 159.43 623.50 163.80C625.25 168.17 627.18 172.50 628.80 176.00C630.42 179.50 632.47 183.33 633.20 184.80" fill="none" stroke="#0b6e0b" stroke-width="1.9" stroke-dasharray="4.8 2.4"/>
<path d="M441.60 63.00C444.50 62.95 452.77 62.53 459.00 62.70C465.23 62.87 471.67 63.37 479.00 64.00C486.33 64.63 496.42 65.75 503.00 66.50C509.58 67.25 514.00 67.85 518.50 68.50C523.00 69.15 525.98 69.72 530.00 70.40C534.02 71.08 538.42 71.92 542.60 72.60C546.78 73.28 550.92 73.77 555.10 74.50C559.28 75.23 563.93 76.05 567.70 77.00C571.47 77.95 574.98 79.05 577.70 80.20C580.42 81.35 582.12 82.45 584.00 83.90C585.88 85.35 587.53 87.22 589.00 88.90C590.47 90.58 591.63 92.15 592.80 94.00C593.97 95.85 594.97 97.75 596.00 100.00C597.03 102.25 597.85 104.17 599.00 107.50C600.15 110.83 601.43 115.58 602.90 120.00C604.37 124.42 606.12 129.03 607.80 134.00C609.48 138.97 611.25 144.83 613.00 149.80C614.75 154.77 616.55 159.43 618.30 163.80C620.05 168.17 621.75 172.22 623.50 176.00C625.25 179.78 627.18 183.28 628.80 186.50C630.42 189.72 632.47 193.83 633.20 195.30" fill="none" stroke="#0b6e0b" stroke-width="2.1"/>
<path d="M524.50 206.60C526.70 206.53 534.45 206.40 537.70 206.20C540.95 206.00 541.48 205.95 544.00 205.40C546.52 204.85 550.08 204.20 552.80 202.90C555.52 201.60 557.80 199.52 560.30 197.60C562.80 195.68 565.28 193.28 567.80 191.40C570.32 189.52 573.37 187.53 575.40 186.30C577.43 185.07 578.40 184.32 580.00 184.00C581.60 183.68 583.00 183.83 585.00 184.40C587.00 184.97 589.67 186.17 592.00 187.40C594.33 188.63 596.37 190.48 599.00 191.80C601.63 193.12 604.88 194.72 607.80 195.30C610.72 195.88 613.30 195.15 616.50 195.30C619.70 195.45 624.22 195.92 627.00 196.20C629.78 196.48 632.17 196.87 633.20 197.00" fill="none" stroke="#1414f0" stroke-width="2" stroke-dasharray="4.8 2.4"/>
<path d="M576.60 206.50L578.40 183.00L585.00 172.50L592.90 168.20L600.80 177.80L609.50 186.50L616.50 195.30L623.50 200.60" fill="none" stroke="#e8141c" stroke-width="2.2" stroke-linejoin="round"/>
<path d="M441.6 206.5H633.2V53.6H441.6" fill="none" stroke="#4a4a4a" stroke-width="1.3"/>
<path d="M441.6 53.6V206.5" fill="none" stroke="#1e1e1e" stroke-width="1.2"/>
<path d="M441.1 206.5H633.2" fill="none" stroke="#555" stroke-width="1.7"/>
<path d="M479.90 206.5v-6M479.90 53.6v6M518.20 206.5v-6M518.20 53.6v6M556.50 206.5v-6M556.50 53.6v6M594.80 206.5v-6M594.80 53.6v6M441.6 168.30h6M633.2 168.30h-6M441.6 130.10h6M633.2 130.10h-6M441.6 91.90h6M633.2 91.90h-6" stroke="#333" stroke-width="1.2"/>
<text class="rt" x="431.4" y="211.60" font-size="15.3" text-anchor="end">0</text>
<text class="rt" x="431.4" y="173.40" font-size="15.3" text-anchor="end">0.4</text>
<text class="rt" x="431.4" y="135.20" font-size="15.3" text-anchor="end">0.8</text>
<text class="rt" x="431.4" y="97.00" font-size="15.3" text-anchor="end">1.2</text>
<text class="rt" x="431.4" y="58.80" font-size="15.3" text-anchor="end">1.6</text>
<text class="rt" x="443.60" y="228.3" font-size="15.3" text-anchor="middle">0</text>
<text class="rt" x="481.90" y="228.3" font-size="15.3" text-anchor="middle">0.2</text>
<text class="rt" x="520.20" y="228.3" font-size="15.3" text-anchor="middle">0.4</text>
<text class="rt" x="558.50" y="228.3" font-size="15.3" text-anchor="middle">0.6</text>
<text class="rt" x="596.80" y="228.3" font-size="15.3" text-anchor="middle">0.8</text>
<text class="rt" x="635.10" y="228.3" font-size="15.3" text-anchor="middle">1</text>
<text class="lt" x="537.3" y="252.3" font-size="15.3" text-anchor="middle">r/a</text>
<g transform="translate(0,31.0) scale(1,1.06) translate(0,-30.7)">
<text y="35.0" font-size="14.8"><tspan x="478.5">n</tspan><tspan x="494.5">,</tspan><tspan x="503.6">Δn</tspan><tspan x="527">[10</tspan><tspan x="567.3">m</tspan><tspan x="592.4">]</tspan></text>
<text y="39.2" font-size="12.3" x="487.7">e</text>
<text y="26.6" font-size="12.3"><tspan x="549.0">20</tspan><tspan x="581">-3</tspan></text>
</g>
<text x="518.4" y="126.80" font-size="12" text-anchor="end">n<tspan dy="3.3" font-size="9.4">e</tspan><tspan dy="-3.3"> before</tspan></text>
<line x1="528" y1="123.8" x2="554" y2="123.8" stroke="#0b6e0b" stroke-width="2"/>
<text x="518.1" y="144.20" font-size="12" text-anchor="end">n<tspan dy="3.3" font-size="9.4">e</tspan><tspan dy="-3.3"> after</tspan></text>
<line x1="528" y1="141.2" x2="554" y2="141.2" stroke="#0b6e0b" stroke-width="2" stroke-dasharray="4.8 2.4"/>
<text x="518.7" y="161.70" font-size="12" text-anchor="end">Δn ablation</text>
<line x1="528" y1="158.7" x2="554" y2="158.7" stroke="#e8141c" stroke-width="2"/>
<text x="518.7" y="179.00" font-size="12" text-anchor="end">Δn deposition</text>
<line x1="528" y1="176.0" x2="554" y2="176.0" stroke="#1414f0" stroke-width="2" stroke-dasharray="4.8 2.4"/>
</g>
<g transform="translate(0,261.7)">
<path d="M441.60 62.90C448.00 63.13 467.43 63.52 480.00 64.30C492.57 65.08 508.67 67.02 517.00 67.60C525.33 68.18 525.73 67.77 530.00 67.80C534.27 67.83 538.83 67.92 542.60 67.80C546.37 67.68 549.47 67.52 552.60 67.10C555.73 66.68 558.47 66.13 561.40 65.30C564.33 64.47 567.05 62.98 570.20 62.10C573.35 61.22 577.78 60.27 580.30 60.00C582.82 59.73 583.85 60.05 585.30 60.50C586.75 60.95 587.75 61.38 589.00 62.70C590.25 64.02 591.53 65.98 592.80 68.40C594.07 70.82 595.45 74.27 596.60 77.20C597.75 80.13 598.77 82.82 599.70 86.00C600.63 89.18 601.35 93.13 602.20 96.30C603.05 99.47 603.60 100.83 604.80 105.00C606.00 109.17 607.85 115.87 609.40 121.30C610.95 126.73 612.53 132.17 614.10 137.60C615.67 143.03 617.05 148.47 618.80 153.90C620.55 159.33 622.85 165.53 624.60 170.20C626.35 174.87 627.93 178.78 629.30 181.90C630.67 185.02 632.22 187.73 632.80 188.90" fill="none" stroke="#0b6e0b" stroke-width="1.9" stroke-dasharray="4.8 2.4"/>
<path d="M441.60 62.70C444.73 62.70 454.13 62.48 460.40 62.70C466.67 62.92 472.13 63.38 479.20 64.00C486.27 64.62 496.25 65.67 502.80 66.40C509.35 67.13 513.97 67.82 518.50 68.40C523.03 68.98 525.98 69.27 530.00 69.90C534.02 70.53 538.42 71.50 542.60 72.20C546.78 72.90 550.92 73.37 555.10 74.10C559.28 74.83 563.93 75.67 567.70 76.60C571.47 77.53 574.98 78.55 577.70 79.70C580.42 80.85 582.12 82.03 584.00 83.50C585.88 84.97 587.48 86.78 589.00 88.50C590.52 90.22 591.63 91.45 593.10 93.80C594.57 96.15 596.23 98.80 597.80 102.60C599.37 106.40 600.95 111.55 602.50 116.60C604.05 121.65 605.35 127.45 607.10 132.90C608.85 138.35 611.05 144.25 613.00 149.30C614.95 154.35 616.87 158.55 618.80 163.20C620.73 167.85 622.85 173.32 624.60 177.20C626.35 181.08 627.87 183.78 629.30 186.50C630.73 189.22 632.55 192.33 633.20 193.50" fill="none" stroke="#0b6e0b" stroke-width="2.1"/>
<path d="M501.00 206.70C503.88 206.53 513.33 206.05 518.30 205.70C523.27 205.35 526.62 205.17 530.80 204.60C534.98 204.03 539.22 203.27 543.40 202.30C547.58 201.33 552.23 200.12 555.90 198.80C559.57 197.48 562.25 196.18 565.40 194.40C568.55 192.62 571.67 189.98 574.80 188.10C577.93 186.22 581.67 184.15 584.20 183.10C586.73 182.05 587.53 181.42 590.00 181.80C592.47 182.18 595.57 183.63 599.00 185.40C602.43 187.17 606.72 190.07 610.60 192.40C614.48 194.73 618.53 197.35 622.30 199.40C626.07 201.45 631.38 203.82 633.20 204.70" fill="none" stroke="#1414f0" stroke-width="2" stroke-dasharray="4.8 2.4"/>
<path d="M591.50 206.50L592.20 186.50L593.10 176.10L594.30 170.20L600.10 158.60L604.80 160.40L610.60 169.10L615.30 180.70L621.10 188.90L624.60 193.50L629.30 198.20" fill="none" stroke="#e8141c" stroke-width="2.2" stroke-linejoin="round"/>
<path d="M441.6 206.5H633.2V53.6H441.6" fill="none" stroke="#4a4a4a" stroke-width="1.3"/>
<path d="M441.6 53.6V206.5" fill="none" stroke="#1e1e1e" stroke-width="1.2"/>
<path d="M441.1 206.5H633.2" fill="none" stroke="#555" stroke-width="1.7"/>
<path d="M479.90 206.5v-6M479.90 53.6v6M518.20 206.5v-6M518.20 53.6v6M556.50 206.5v-6M556.50 53.6v6M594.80 206.5v-6M594.80 53.6v6M441.6 168.30h6M633.2 168.30h-6M441.6 130.10h6M633.2 130.10h-6M441.6 91.90h6M633.2 91.90h-6" stroke="#333" stroke-width="1.2"/>
<text class="rt" x="431.4" y="211.60" font-size="15.3" text-anchor="end">0</text>
<text class="rt" x="431.4" y="173.40" font-size="15.3" text-anchor="end">0.4</text>
<text class="rt" x="431.4" y="135.20" font-size="15.3" text-anchor="end">0.8</text>
<text class="rt" x="431.4" y="97.00" font-size="15.3" text-anchor="end">1.2</text>
<text class="rt" x="431.4" y="58.80" font-size="15.3" text-anchor="end">1.6</text>
<text class="rt" x="443.60" y="228.3" font-size="15.3" text-anchor="middle">0</text>
<text class="rt" x="481.90" y="228.3" font-size="15.3" text-anchor="middle">0.2</text>
<text class="rt" x="520.20" y="228.3" font-size="15.3" text-anchor="middle">0.4</text>
<text class="rt" x="558.50" y="228.3" font-size="15.3" text-anchor="middle">0.6</text>
<text class="rt" x="596.80" y="228.3" font-size="15.3" text-anchor="middle">0.8</text>
<text class="rt" x="635.10" y="228.3" font-size="15.3" text-anchor="middle">1</text>
<text class="lt" x="537.3" y="252.3" font-size="15.3" text-anchor="middle">r/a</text>
<g transform="translate(0,31.0) scale(1,1.06) translate(0,-30.7)">
<text y="35.0" font-size="14.8"><tspan x="478.5">n</tspan><tspan x="494.5">,</tspan><tspan x="503.6">Δn</tspan><tspan x="527">[10</tspan><tspan x="567.3">m</tspan><tspan x="592.4">]</tspan></text>
<text y="39.2" font-size="12.3" x="487.7">e</text>
<text y="26.6" font-size="12.3"><tspan x="549.0">20</tspan><tspan x="581">-3</tspan></text>
</g>
<text x="518.4" y="126.80" font-size="12" text-anchor="end">n<tspan dy="3.3" font-size="9.4">e</tspan><tspan dy="-3.3"> before</tspan></text>
<line x1="528" y1="123.8" x2="554" y2="123.8" stroke="#0b6e0b" stroke-width="2"/>
<text x="518.1" y="144.20" font-size="12" text-anchor="end">n<tspan dy="3.3" font-size="9.4">e</tspan><tspan dy="-3.3"> after</tspan></text>
<line x1="528" y1="141.2" x2="554" y2="141.2" stroke="#0b6e0b" stroke-width="2" stroke-dasharray="4.8 2.4"/>
<text x="518.7" y="161.70" font-size="12" text-anchor="end">Δn ablation</text>
<line x1="528" y1="158.7" x2="554" y2="158.7" stroke="#e8141c" stroke-width="2"/>
<text x="518.7" y="179.00" font-size="12" text-anchor="end">Δn deposition</text>
<line x1="528" y1="176.0" x2="554" y2="176.0" stroke="#1414f0" stroke-width="2" stroke-dasharray="4.8 2.4"/>
</g>
</svg></body></html>
